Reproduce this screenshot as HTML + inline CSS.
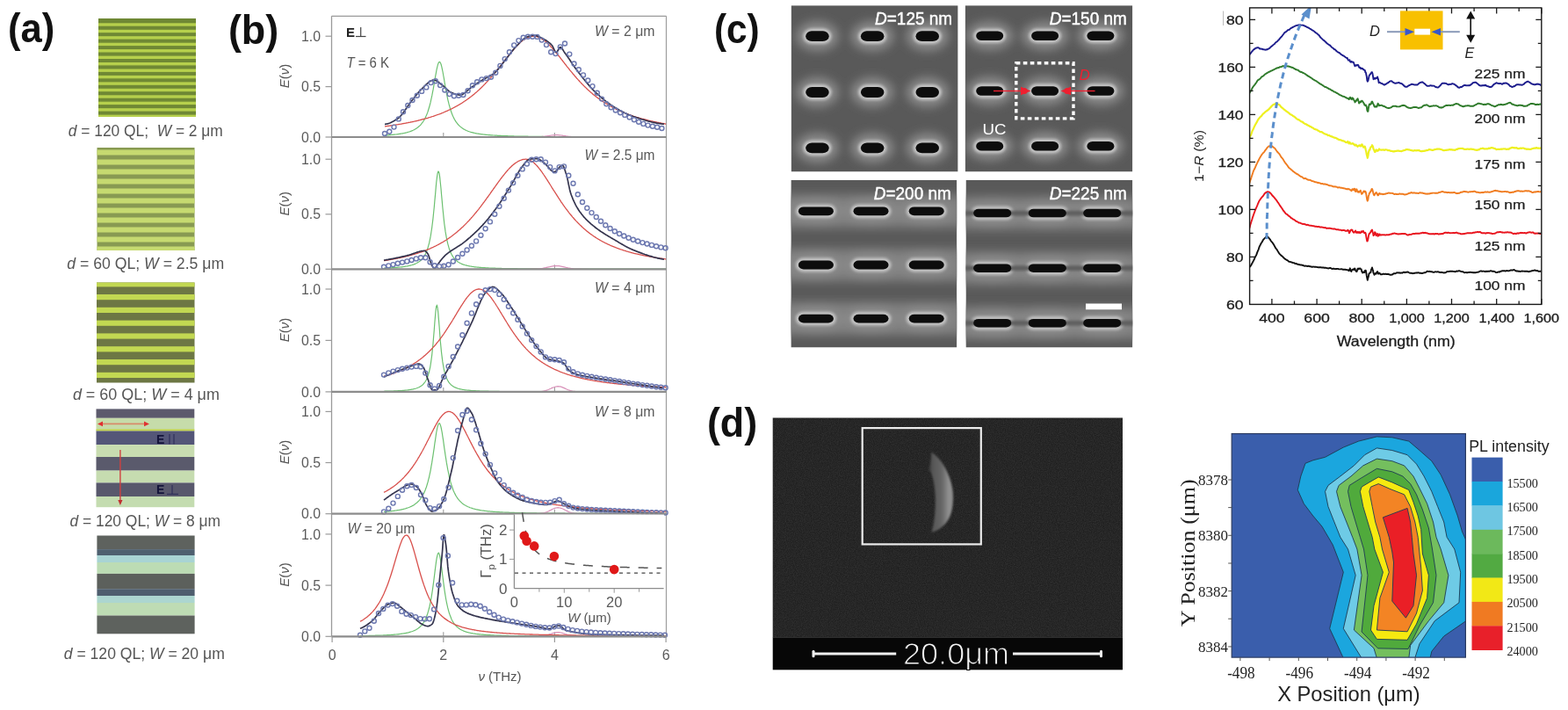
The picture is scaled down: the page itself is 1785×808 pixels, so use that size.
<!DOCTYPE html><html><head><meta charset="utf-8"><style>html,body{margin:0;padding:0;background:#fff;}svg{display:block}</style></head><body>
<svg width="1785" height="808" viewBox="0 0 1785 808">
<rect width="1785" height="808" fill="#fff"/>
<text x="8.9" y="48.3" font-size="46.5" fill="#111" text-anchor="start" font-weight="bold" font-style="normal" font-family="'Liberation Sans', Arial, sans-serif" textLength="53.3" lengthAdjust="spacingAndGlyphs" >(a)</text>
<text x="259.9" y="49.8" font-size="46.5" fill="#111" text-anchor="start" font-weight="bold" font-style="normal" font-family="'Liberation Sans', Arial, sans-serif" textLength="57.3" lengthAdjust="spacingAndGlyphs" >(b)</text>
<text x="812.9" y="48.6" font-size="46.5" fill="#111" text-anchor="start" font-weight="bold" font-style="normal" font-family="'Liberation Sans', Arial, sans-serif" textLength="51.7" lengthAdjust="spacingAndGlyphs" >(c)</text>
<text x="804.9" y="497.1" font-size="46.5" fill="#111" text-anchor="start" font-weight="bold" font-style="normal" font-family="'Liberation Sans', Arial, sans-serif" textLength="57.3" lengthAdjust="spacingAndGlyphs" >(d)</text>
<rect x="112" y="21" width="111" height="112" fill="#6f8834"/>
<rect x="112" y="26.3" width="111" height="3.4" fill="#b6d04c"/>
<rect x="112" y="33.8" width="111" height="3.4" fill="#b6d04c"/>
<rect x="112" y="41.2" width="111" height="3.4" fill="#b6d04c"/>
<rect x="112" y="48.7" width="111" height="3.4" fill="#b6d04c"/>
<rect x="112" y="56.1" width="111" height="3.4" fill="#b6d04c"/>
<rect x="112" y="63.6" width="111" height="3.4" fill="#b6d04c"/>
<rect x="112" y="71" width="111" height="3.4" fill="#b6d04c"/>
<rect x="112" y="78.5" width="111" height="3.4" fill="#b6d04c"/>
<rect x="112" y="85.9" width="111" height="3.4" fill="#b6d04c"/>
<rect x="112" y="93.4" width="111" height="3.4" fill="#b6d04c"/>
<rect x="112" y="100.8" width="111" height="3.4" fill="#b6d04c"/>
<rect x="112" y="108.3" width="111" height="3.4" fill="#b6d04c"/>
<rect x="112" y="115.7" width="111" height="3.4" fill="#b6d04c"/>
<rect x="112" y="123.2" width="111" height="3.4" fill="#b6d04c"/>
<rect x="112" y="130.6" width="111" height="2.4" fill="#b6d04c"/>
<rect x="110.5" y="168" width="111" height="117" fill="#889a52"/>
<rect x="110.5" y="170.5" width="111" height="6" fill="#c6da70"/>
<rect x="110.5" y="181.5" width="111" height="6" fill="#c6da70"/>
<rect x="110.5" y="192.5" width="111" height="6" fill="#c6da70"/>
<rect x="110.5" y="203.5" width="111" height="6" fill="#c6da70"/>
<rect x="110.5" y="214.5" width="111" height="6" fill="#c6da70"/>
<rect x="110.5" y="225.5" width="111" height="6" fill="#c6da70"/>
<rect x="110.5" y="236.5" width="111" height="6" fill="#c6da70"/>
<rect x="110.5" y="247.5" width="111" height="6" fill="#c6da70"/>
<rect x="110.5" y="258.5" width="111" height="6" fill="#c6da70"/>
<rect x="110.5" y="269.5" width="111" height="6" fill="#c6da70"/>
<rect x="110.5" y="280.5" width="111" height="4.5" fill="#c6da70"/>
<rect x="110" y="321.5" width="111.5" height="114" fill="#6d7744"/>
<rect x="110" y="321.5" width="111.5" height="4.9" fill="#c2d852"/>
<rect x="110" y="335" width="111.5" height="6.2" fill="#c2d852"/>
<rect x="110" y="349.8" width="111.5" height="6.2" fill="#c2d852"/>
<rect x="110" y="364.6" width="111.5" height="6.2" fill="#c2d852"/>
<rect x="110" y="379.4" width="111.5" height="6.2" fill="#c2d852"/>
<rect x="110" y="394.2" width="111.5" height="6.2" fill="#c2d852"/>
<rect x="110" y="409" width="111.5" height="6.2" fill="#c2d852"/>
<rect x="110" y="423.8" width="111.5" height="6.2" fill="#c2d852"/>
<rect x="109.5" y="465.4" width="111.8" height="10.4" fill="#5c5a6c"/>
<rect x="109.5" y="475.8" width="111.8" height="14.7" fill="#c6dcaa"/>
<rect x="109.5" y="488.5" width="111.8" height="2" fill="#c4d448"/>
<rect x="109.5" y="490.5" width="111.8" height="15.6" fill="#545678"/>
<rect x="109.5" y="506.1" width="111.8" height="13.9" fill="#c8dcb0"/>
<rect x="109.5" y="520" width="111.8" height="15.6" fill="#5a5a6c"/>
<rect x="109.5" y="535.6" width="111.8" height="13.8" fill="#c6dcb0"/>
<rect x="109.5" y="549.4" width="111.8" height="15.6" fill="#58586c"/>
<rect x="109.5" y="565" width="111.8" height="12.2" fill="#c4dcb0"/>
<line x1="114" y1="482.4" x2="166" y2="482.4" stroke="#d88a6a" stroke-width="1.6"/>
<path d="M111,482.4 L117,479.6 L117,485.2 Z" fill="#e03030"/>
<path d="M170,482.4 L164,479.6 L164,485.2 Z" fill="#e03030"/>
<line x1="136.9" y1="512" x2="136.9" y2="570" stroke="#d04040" stroke-width="1.4"/>
<path d="M136.9,575 L134.3,569 L139.5,569 Z" fill="#c03030"/>
<text x="178" y="505.3" font-size="14" fill="#14143a" text-anchor="start" font-weight="bold" font-style="normal" font-family="'Liberation Sans', Arial, sans-serif" >E</text>
<line x1="193" y1="494" x2="193" y2="505.5" stroke="#30305a" stroke-width="1.2"/>
<line x1="198" y1="494" x2="198" y2="505.5" stroke="#30305a" stroke-width="1.2"/>
<text x="178" y="562.4" font-size="14" fill="#14143a" text-anchor="start" font-weight="bold" font-style="normal" font-family="'Liberation Sans', Arial, sans-serif" >E</text>
<line x1="196" y1="552" x2="196" y2="562.4" stroke="#30305a" stroke-width="1.2"/>
<line x1="190" y1="562.4" x2="203" y2="562.4" stroke="#30305a" stroke-width="1.2"/>
<rect x="110.4" y="609.5" width="111.2" height="15.6" fill="#5e625e"/>
<rect x="110.4" y="625.1" width="111.2" height="6.9" fill="#4e6070"/>
<rect x="110.4" y="632" width="111.2" height="8" fill="#a8d4d4"/>
<rect x="110.4" y="640" width="111.2" height="12.9" fill="#bcdcb4"/>
<rect x="110.4" y="652.9" width="111.2" height="17.3" fill="#5c605c"/>
<rect x="110.4" y="670.2" width="111.2" height="7.8" fill="#4e5e6e"/>
<rect x="110.4" y="678" width="111.2" height="8" fill="#acd6d0"/>
<rect x="110.4" y="686" width="111.2" height="14.5" fill="#bedcb4"/>
<rect x="110.4" y="700.5" width="111.2" height="20.8" fill="#5e625e"/>
<text x="77.8" y="155.2" font-size="17.5" fill="#555" font-family="'Liberation Sans', Arial, sans-serif" textLength="176" lengthAdjust="spacingAndGlyphs"><tspan font-style="italic">d</tspan> = 120 QL;  <tspan font-style="italic">W</tspan> = 2 μm</text>
<text x="76.2" y="305.5" font-size="17.5" fill="#555" font-family="'Liberation Sans', Arial, sans-serif" textLength="179" lengthAdjust="spacingAndGlyphs"><tspan font-style="italic">d</tspan> = 60 QL; <tspan font-style="italic">W</tspan> = 2.5 μm</text>
<text x="82.9" y="455.2" font-size="17.5" fill="#555" font-family="'Liberation Sans', Arial, sans-serif" textLength="167" lengthAdjust="spacingAndGlyphs"><tspan font-style="italic">d</tspan> = 60 QL; <tspan font-style="italic">W</tspan> = 4 μm</text>
<text x="79.5" y="598.7" font-size="17.5" fill="#555" font-family="'Liberation Sans', Arial, sans-serif" textLength="171.5" lengthAdjust="spacingAndGlyphs"><tspan font-style="italic">d</tspan> = 120 QL; <tspan font-style="italic">W</tspan> = 8 μm</text>
<text x="72.8" y="749.5" font-size="17.5" fill="#555" font-family="'Liberation Sans', Arial, sans-serif" textLength="183" lengthAdjust="spacingAndGlyphs"><tspan font-style="italic">d</tspan> = 120 QL; <tspan font-style="italic">W</tspan> = 20 μm</text>
<g id="panel-b">
<line x1="377.5" y1="18.3" x2="758.5" y2="18.3" stroke="#9a9a9a" stroke-width="1.3"/>
<line x1="377.5" y1="18.3" x2="377.5" y2="724.3" stroke="#9a9a9a" stroke-width="1.3"/>
<line x1="758.5" y1="18.3" x2="758.5" y2="724.3" stroke="#a0a0a0" stroke-width="1.3"/>
<line x1="370.5" y1="156" x2="377.5" y2="156" stroke="#9a9a9a" stroke-width="1.2"/>
<text x="365" y="161.6" font-size="16" fill="#5a5a5a" text-anchor="end" font-weight="normal" font-style="normal" font-family="'Liberation Sans', Arial, sans-serif" textLength="22" lengthAdjust="spacingAndGlyphs" >0.0</text>
<line x1="370.5" y1="98.6" x2="377.5" y2="98.6" stroke="#9a9a9a" stroke-width="1.2"/>
<text x="365" y="104.2" font-size="16" fill="#5a5a5a" text-anchor="end" font-weight="normal" font-style="normal" font-family="'Liberation Sans', Arial, sans-serif" textLength="22" lengthAdjust="spacingAndGlyphs" >0.5</text>
<line x1="370.5" y1="41.2" x2="377.5" y2="41.2" stroke="#9a9a9a" stroke-width="1.2"/>
<text x="365" y="46.8" font-size="16" fill="#5a5a5a" text-anchor="end" font-weight="normal" font-style="normal" font-family="'Liberation Sans', Arial, sans-serif" textLength="22" lengthAdjust="spacingAndGlyphs" >1.0</text>
<text transform="translate(328.5,86.6) rotate(-90)" font-size="15" fill="#555" text-anchor="middle" font-family="'Liberation Sans', Arial, sans-serif"><tspan font-style="italic">E</tspan>(<tspan font-style="italic">ν</tspan>)</text>
<line x1="504.8" y1="156" x2="504.8" y2="151" stroke="#9a9a9a" stroke-width="1.1"/>
<line x1="631.4" y1="156" x2="631.4" y2="151" stroke="#9a9a9a" stroke-width="1.1"/>
<path d="M438.0,154.1 L438.7,154.0 L439.3,154.0 L439.9,153.9 L440.6,153.9 L441.2,153.8 L441.9,153.8 L442.5,153.8 L443.1,153.7 L443.8,153.7 L444.4,153.6 L445.1,153.5 L445.7,153.5 L446.3,153.4 L447.0,153.4 L447.6,153.3 L448.3,153.2 L448.9,153.2 L449.6,153.1 L450.2,153.0 L450.8,153.0 L451.5,152.9 L452.1,152.8 L452.8,152.7 L453.4,152.6 L454.0,152.5 L454.7,152.4 L455.3,152.4 L456.0,152.2 L456.6,152.1 L457.3,152.0 L457.9,151.9 L458.5,151.8 L459.2,151.7 L459.8,151.5 L460.5,151.4 L461.1,151.3 L461.7,151.1 L462.4,151.0 L463.0,150.8 L463.7,150.6 L464.3,150.4 L464.9,150.2 L465.6,150.0 L466.2,149.8 L466.9,149.6 L467.5,149.4 L468.2,149.1 L468.8,148.9 L469.4,148.6 L470.1,148.3 L470.7,148.0 L471.4,147.7 L472.0,147.4 L472.6,147.0 L473.3,146.6 L473.9,146.2 L474.6,145.8 L475.2,145.3 L475.9,144.8 L476.5,144.3 L477.1,143.7 L477.8,143.1 L478.4,142.5 L479.1,141.8 L479.7,141.0 L480.3,140.2 L481.0,139.4 L481.6,138.5 L482.3,137.5 L482.9,136.4 L483.6,135.2 L484.2,134.0 L484.8,132.6 L485.5,131.2 L486.1,129.6 L486.8,127.9 L487.4,126.0 L488.0,124.0 L488.7,121.8 L489.3,119.5 L490.0,116.9 L490.6,114.2 L491.2,111.3 L491.9,108.2 L492.5,104.9 L493.2,101.4 L493.8,97.8 L494.5,94.1 L495.1,90.4 L495.7,86.7 L496.4,83.1 L497.0,79.7 L497.7,76.7 L498.3,74.2 L498.9,72.2 L499.6,71.0 L500.2,70.5 L500.9,70.8 L501.5,71.8 L502.2,73.5 L502.8,75.9 L503.4,78.7 L504.1,82.0 L504.7,85.5 L505.4,89.2 L506.0,93.0 L506.6,96.7 L507.3,100.3 L507.9,103.8 L508.6,107.2 L509.2,110.4 L509.8,113.3 L510.5,116.1 L511.1,118.7 L511.8,121.1 L512.4,123.3 L513.1,125.4 L513.7,127.3 L514.3,129.1 L515.0,130.7 L515.6,132.2 L516.3,133.6 L516.9,134.9 L517.5,136.0 L518.2,137.1 L518.8,138.2 L519.5,139.1 L520.1,140.0 L520.8,140.8 L521.4,141.5 L522.0,142.3 L522.7,142.9 L523.3,143.5 L524.0,144.1 L524.6,144.6 L525.2,145.1 L525.9,145.6 L526.5,146.1 L527.2,146.5 L527.8,146.9 L528.5,147.2 L529.1,147.6 L529.7,147.9 L530.4,148.2 L531.0,148.5 L531.7,148.8 L532.3,149.1 L532.9,149.3 L533.6,149.5 L534.2,149.8 L534.9,150.0 L535.5,150.2 L536.1,150.4 L536.8,150.6 L537.4,150.7 L538.1,150.9 L538.7,151.1 L539.4,151.2 L540.0,151.4 L540.6,151.5 L541.3,151.6 L541.9,151.8 L542.6,151.9 L543.2,152.0 L543.8,152.1 L544.5,152.2 L545.1,152.3 L545.8,152.4 L546.4,152.5 L547.1,152.6 L547.7,152.7 L548.3,152.8 L549.0,152.9 L549.6,152.9 L550.3,153.0 L550.9,153.1 L551.5,153.2 L552.2,153.2 L552.8,153.3 L553.5,153.4 L554.1,153.4 L554.7,153.5 L555.4,153.5 L556.0,153.6 L556.7,153.6 L557.3,153.7 L558.0,153.7 L558.6,153.8 L559.2,153.8 L559.9,153.9 L560.5,153.9 L561.2,154.0 L561.8,154.0 L562.4,154.0 L563.1,154.1 L563.7,154.1 L564.4,154.2 L565.0,154.2 L565.7,154.2 L566.3,154.3 L566.9,154.3 L567.6,154.3 L568.2,154.4 L568.9,154.4 L569.5,154.4 L570.1,154.4 L570.8,154.5 L571.4,154.5 L572.1,154.5 L572.7,154.6 L573.4,154.6 L574.0,154.6 L574.6,154.6 L575.3,154.6 L575.9,154.7 L576.6,154.7 L577.2,154.7 L577.8,154.7 L578.5,154.8 L579.1,154.8 L579.8,154.8 L580.4,154.8 L581.0,154.8 L581.7,154.8 L582.3,154.9 L583.0,154.9 L583.6,154.9 L584.3,154.9 L584.9,154.9 L585.5,155.0 L586.2,155.0 L586.8,155.0 L587.5,155.0 L588.1,155.0 L588.7,155.0 L589.4,155.0 L590.0,155.1 L590.7,155.1 L591.3,155.1 L592.0,155.1 L592.6,155.1 L593.2,155.1 L593.9,155.1 L594.5,155.1 L595.2,155.2 L595.8,155.2 L596.4,155.2 L597.1,155.2 L597.7,155.2 L598.4,155.2 L599.0,155.2 L599.6,155.2 L600.3,155.2 L600.9,155.2 L601.6,155.3 L602.2,155.3 L602.9,155.3 L603.5,155.3 L604.1,155.3 L604.8,155.3 L605.4,155.3 L606.1,155.3 L606.7,155.3 L607.3,155.3 L608.0,155.3 L608.6,155.3 L609.3,155.4 L609.9,155.4 L610.6,155.4 L611.2,155.4 L611.8,155.4 L612.5,155.4 L613.1,155.4 L613.8,155.4 L614.4,155.4 L615.0,155.4 L615.7,155.4 L616.3,155.4 L617.0,155.4 L617.6,155.4 L618.2,155.4 L618.9,155.5 L619.5,155.5 L620.2,155.5 L620.8,155.5 L621.5,155.5 L622.1,155.5 L622.7,155.5 L623.4,155.5 L624.0,155.5 L624.7,155.5 L625.3,155.5 L625.9,155.5 L626.6,155.5 L627.2,155.5 L627.9,155.5 L628.5,155.5 L629.2,155.5 L629.8,155.5 L630.4,155.5 L631.1,155.6 L631.7,155.6 L632.4,155.6 L633.0,155.6 L633.6,155.6 L634.3,155.6 L634.9,155.6 L635.6,155.6 L636.2,155.6 L636.9,155.6 L637.5,155.6 L638.1,155.6 L638.8,155.6 L639.4,155.6 L640.1,155.6 L640.7,155.6 L641.3,155.6 L642.0,155.6 L642.6,155.6 L643.3,155.6 L643.9,155.6 L644.5,155.6 L645.2,155.6 L645.8,155.6 L646.5,155.6 L647.1,155.6 L647.8,155.6 L648.4,155.6 L649.0,155.7 L649.7,155.7 L650.3,155.7 L651.0,155.7 L651.6,155.7 L652.2,155.7 L652.9,155.7 L653.5,155.7 L654.2,155.7 L654.8,155.7 L655.5,155.7 L656.1,155.7 L656.7,155.7 L657.4,155.7 L658.0,155.7 L658.7,155.7 L659.3,155.7 L659.9,155.7 L660.6,155.7 L661.2,155.7 L661.9,155.7 L662.5,155.7 L663.1,155.7 L663.8,155.7 L664.4,155.7 L665.1,155.7 L665.7,155.7 L666.4,155.7 L667.0,155.7 L667.6,155.7 L668.3,155.7 L668.9,155.7 L669.6,155.7 L670.2,155.7 L670.8,155.7 L671.5,155.7 L672.1,155.7 L672.8,155.7 L673.4,155.7 L674.1,155.7 L674.7,155.7 L675.3,155.7 L676.0,155.8 L676.6,155.8 L677.3,155.8 L677.9,155.8 L678.5,155.8 L679.2,155.8 L679.8,155.8 L680.5,155.8 L681.1,155.8 L681.8,155.8 L682.4,155.8 L683.0,155.8 L683.7,155.8 L684.3,155.8 L685.0,155.8 L685.6,155.8 L686.2,155.8 L686.9,155.8 L687.5,155.8 L688.2,155.8 L688.8,155.8 L689.4,155.8 L690.1,155.8 L690.7,155.8 L691.4,155.8 L692.0,155.8 L692.7,155.8 L693.3,155.8 L693.9,155.8 L694.6,155.8 L695.2,155.8 L695.9,155.8 L696.5,155.8 L697.1,155.8 L697.8,155.8 L698.4,155.8 L699.1,155.8 L699.7,155.8 L700.4,155.8 L701.0,155.8 L701.6,155.8 L702.3,155.8 L702.9,155.8 L703.6,155.8 L704.2,155.8 L704.8,155.8 L705.5,155.8 L706.1,155.8 L706.8,155.8 L707.4,155.8 L708.0,155.8 L708.7,155.8 L709.3,155.8 L710.0,155.8 L710.6,155.8 L711.3,155.8 L711.9,155.8 L712.5,155.8 L713.2,155.8 L713.8,155.8 L714.5,155.8 L715.1,155.8 L715.7,155.8 L716.4,155.8 L717.0,155.8 L717.7,155.8 L718.3,155.8 L719.0,155.8 L719.6,155.8 L720.2,155.8 L720.9,155.8 L721.5,155.8 L722.2,155.8 L722.8,155.8 L723.4,155.8 L724.1,155.8 L724.7,155.8 L725.4,155.8 L726.0,155.8 L726.7,155.8 L727.3,155.9 L727.9,155.9 L728.6,155.9 L729.2,155.9 L729.9,155.9 L730.5,155.9 L731.1,155.9 L731.8,155.9 L732.4,155.9 L733.1,155.9 L733.7,155.9 L734.3,155.9 L735.0,155.9 L735.6,155.9 L736.3,155.9 L736.9,155.9 L737.6,155.9 L738.2,155.9 L738.8,155.9 L739.5,155.9 L740.1,155.9 L740.8,155.9 L741.4,155.9 L742.0,155.9 L742.7,155.9 L743.3,155.9 L744.0,155.9 L744.6,155.9 L745.3,155.9 L745.9,155.9 L746.5,155.9 L747.2,155.9 L747.8,155.9 L748.5,155.9 L749.1,155.9 L749.7,155.9 L750.4,155.9 L751.0,155.9 L751.7,155.9 L752.3,155.9 L752.9,155.9 L753.6,155.9 L754.2,155.9 L754.9,155.9 L755.5,155.9 L756.2,155.9 L756.8,155.9 L757.4,155.9 L758.1,155.9" fill="none" stroke="#6cc070" stroke-width="1.2"/>
<path d="M599.8,156.0 L600.9,156.0 L602.1,156.0 L603.3,156.0 L604.5,156.0 L605.7,156.0 L606.8,156.0 L608.0,155.9 L609.2,155.9 L610.4,155.9 L611.6,155.8 L612.7,155.8 L613.9,155.7 L615.1,155.6 L616.3,155.5 L617.5,155.4 L618.6,155.3 L619.8,155.2 L621.0,155.0 L622.2,154.8 L623.4,154.7 L624.6,154.5 L625.7,154.3 L626.9,154.2 L628.1,154.0 L629.3,153.9 L630.5,153.8 L631.6,153.7 L632.8,153.7 L634.0,153.7 L635.2,153.7 L636.4,153.8 L637.5,153.9 L638.7,154.0 L639.9,154.2 L641.1,154.4 L642.3,154.5 L643.4,154.7 L644.6,154.9 L645.8,155.0 L647.0,155.2 L648.2,155.3 L649.3,155.4 L650.5,155.6 L651.7,155.6 L652.9,155.7 L654.1,155.8 L655.2,155.8 L656.4,155.9 L657.6,155.9 L658.8,155.9 L660.0,156.0 L661.2,156.0 L662.3,156.0 L663.5,156.0 L664.7,156.0 L665.9,156.0 L667.1,156.0 L668.2,156.0 L669.4,156.0" fill="none" stroke="#d890b8" stroke-width="1.2"/>
<path d="M438.0,143.8 L438.7,143.8 L439.3,143.7 L439.9,143.6 L440.6,143.5 L441.2,143.4 L441.9,143.3 L442.5,143.3 L443.1,143.2 L443.8,143.1 L444.4,143.0 L445.1,142.9 L445.7,142.8 L446.3,142.7 L447.0,142.6 L447.6,142.5 L448.3,142.4 L448.9,142.3 L449.6,142.2 L450.2,142.1 L450.8,142.0 L451.5,141.9 L452.1,141.8 L452.8,141.7 L453.4,141.6 L454.0,141.5 L454.7,141.4 L455.3,141.3 L456.0,141.2 L456.6,141.1 L457.3,141.0 L457.9,140.9 L458.5,140.7 L459.2,140.6 L459.8,140.5 L460.5,140.4 L461.1,140.3 L461.7,140.2 L462.4,140.0 L463.0,139.9 L463.7,139.8 L464.3,139.7 L464.9,139.5 L465.6,139.4 L466.2,139.3 L466.9,139.2 L467.5,139.0 L468.2,138.9 L468.8,138.8 L469.4,138.6 L470.1,138.5 L470.7,138.3 L471.4,138.2 L472.0,138.1 L472.6,137.9 L473.3,137.8 L473.9,137.6 L474.6,137.5 L475.2,137.3 L475.9,137.2 L476.5,137.0 L477.1,136.9 L477.8,136.7 L478.4,136.5 L479.1,136.4 L479.7,136.2 L480.3,136.0 L481.0,135.9 L481.6,135.7 L482.3,135.5 L482.9,135.4 L483.6,135.2 L484.2,135.0 L484.8,134.8 L485.5,134.6 L486.1,134.5 L486.8,134.3 L487.4,134.1 L488.0,133.9 L488.7,133.7 L489.3,133.5 L490.0,133.3 L490.6,133.1 L491.2,132.9 L491.9,132.7 L492.5,132.5 L493.2,132.3 L493.8,132.1 L494.5,131.9 L495.1,131.6 L495.7,131.4 L496.4,131.2 L497.0,131.0 L497.7,130.7 L498.3,130.5 L498.9,130.3 L499.6,130.0 L500.2,129.8 L500.9,129.6 L501.5,129.3 L502.2,129.1 L502.8,128.8 L503.4,128.5 L504.1,128.3 L504.7,128.0 L505.4,127.8 L506.0,127.5 L506.6,127.2 L507.3,126.9 L507.9,126.7 L508.6,126.4 L509.2,126.1 L509.8,125.8 L510.5,125.5 L511.1,125.2 L511.8,124.9 L512.4,124.6 L513.1,124.3 L513.7,124.0 L514.3,123.6 L515.0,123.3 L515.6,123.0 L516.3,122.7 L516.9,122.3 L517.5,122.0 L518.2,121.7 L518.8,121.3 L519.5,120.9 L520.1,120.6 L520.8,120.2 L521.4,119.9 L522.0,119.5 L522.7,119.1 L523.3,118.7 L524.0,118.3 L524.6,118.0 L525.2,117.6 L525.9,117.2 L526.5,116.7 L527.2,116.3 L527.8,115.9 L528.5,115.5 L529.1,115.1 L529.7,114.6 L530.4,114.2 L531.0,113.7 L531.7,113.3 L532.3,112.8 L532.9,112.4 L533.6,111.9 L534.2,111.4 L534.9,110.9 L535.5,110.5 L536.1,110.0 L536.8,109.5 L537.4,109.0 L538.1,108.4 L538.7,107.9 L539.4,107.4 L540.0,106.9 L540.6,106.3 L541.3,105.8 L541.9,105.2 L542.6,104.7 L543.2,104.1 L543.8,103.5 L544.5,103.0 L545.1,102.4 L545.8,101.8 L546.4,101.2 L547.1,100.6 L547.7,100.0 L548.3,99.3 L549.0,98.7 L549.6,98.1 L550.3,97.4 L550.9,96.8 L551.5,96.1 L552.2,95.5 L552.8,94.8 L553.5,94.1 L554.1,93.4 L554.7,92.8 L555.4,92.1 L556.0,91.4 L556.7,90.6 L557.3,89.9 L558.0,89.2 L558.6,88.5 L559.2,87.7 L559.9,87.0 L560.5,86.3 L561.2,85.5 L561.8,84.7 L562.4,84.0 L563.1,83.2 L563.7,82.4 L564.4,81.7 L565.0,80.9 L565.7,80.1 L566.3,79.3 L566.9,78.5 L567.6,77.7 L568.2,76.9 L568.9,76.1 L569.5,75.3 L570.1,74.5 L570.8,73.6 L571.4,72.8 L572.1,72.0 L572.7,71.2 L573.4,70.4 L574.0,69.5 L574.6,68.7 L575.3,67.9 L575.9,67.1 L576.6,66.3 L577.2,65.5 L577.8,64.6 L578.5,63.8 L579.1,63.0 L579.8,62.2 L580.4,61.4 L581.0,60.6 L581.7,59.9 L582.3,59.1 L583.0,58.3 L583.6,57.5 L584.3,56.8 L584.9,56.1 L585.5,55.3 L586.2,54.6 L586.8,53.9 L587.5,53.2 L588.1,52.5 L588.7,51.8 L589.4,51.2 L590.0,50.5 L590.7,49.9 L591.3,49.3 L592.0,48.7 L592.6,48.1 L593.2,47.6 L593.9,47.0 L594.5,46.5 L595.2,46.0 L595.8,45.5 L596.4,45.1 L597.1,44.7 L597.7,44.3 L598.4,43.9 L599.0,43.5 L599.6,43.2 L600.3,42.9 L600.9,42.6 L601.6,42.3 L602.2,42.1 L602.9,41.9 L603.5,41.7 L604.1,41.5 L604.8,41.4 L605.4,41.3 L606.1,41.3 L606.7,41.2 L607.3,41.2 L608.0,41.2 L608.6,41.3 L609.3,41.3 L609.9,41.4 L610.6,41.5 L611.2,41.7 L611.8,41.9 L612.5,42.1 L613.1,42.3 L613.8,42.6 L614.4,42.9 L615.0,43.2 L615.7,43.5 L616.3,43.9 L617.0,44.2 L617.6,44.6 L618.2,45.1 L618.9,45.5 L619.5,46.0 L620.2,46.5 L620.8,47.0 L621.5,47.6 L622.1,48.1 L622.7,48.7 L623.4,49.3 L624.0,49.9 L624.7,50.5 L625.3,51.2 L625.9,51.8 L626.6,52.5 L627.2,53.2 L627.9,53.9 L628.5,54.6 L629.2,55.3 L629.8,56.0 L630.4,56.8 L631.1,57.5 L631.7,58.3 L632.4,59.1 L633.0,59.8 L633.6,60.6 L634.3,61.4 L634.9,62.2 L635.6,63.0 L636.2,63.8 L636.9,64.6 L637.5,65.4 L638.1,66.2 L638.8,67.1 L639.4,67.9 L640.1,68.7 L640.7,69.5 L641.3,70.3 L642.0,71.2 L642.6,72.0 L643.3,72.8 L643.9,73.6 L644.5,74.4 L645.2,75.3 L645.8,76.1 L646.5,76.9 L647.1,77.7 L647.8,78.5 L648.4,79.3 L649.0,80.1 L649.7,80.9 L650.3,81.6 L651.0,82.4 L651.6,83.2 L652.2,84.0 L652.9,84.7 L653.5,85.5 L654.2,86.2 L654.8,87.0 L655.5,87.7 L656.1,88.5 L656.7,89.2 L657.4,89.9 L658.0,90.6 L658.7,91.3 L659.3,92.0 L659.9,92.7 L660.6,93.4 L661.2,94.1 L661.9,94.8 L662.5,95.5 L663.1,96.1 L663.8,96.8 L664.4,97.4 L665.1,98.1 L665.7,98.7 L666.4,99.3 L667.0,99.9 L667.6,100.6 L668.3,101.2 L668.9,101.8 L669.6,102.4 L670.2,102.9 L670.8,103.5 L671.5,104.1 L672.1,104.7 L672.8,105.2 L673.4,105.8 L674.1,106.3 L674.7,106.9 L675.3,107.4 L676.0,107.9 L676.6,108.4 L677.3,108.9 L677.9,109.4 L678.5,109.9 L679.2,110.4 L679.8,110.9 L680.5,111.4 L681.1,111.9 L681.8,112.4 L682.4,112.8 L683.0,113.3 L683.7,113.7 L684.3,114.2 L685.0,114.6 L685.6,115.1 L686.2,115.5 L686.9,115.9 L687.5,116.3 L688.2,116.7 L688.8,117.1 L689.4,117.5 L690.1,117.9 L690.7,118.3 L691.4,118.7 L692.0,119.1 L692.7,119.5 L693.3,119.9 L693.9,120.2 L694.6,120.6 L695.2,120.9 L695.9,121.3 L696.5,121.6 L697.1,122.0 L697.8,122.3 L698.4,122.7 L699.1,123.0 L699.7,123.3 L700.4,123.6 L701.0,124.0 L701.6,124.3 L702.3,124.6 L702.9,124.9 L703.6,125.2 L704.2,125.5 L704.8,125.8 L705.5,126.1 L706.1,126.4 L706.8,126.6 L707.4,126.9 L708.0,127.2 L708.7,127.5 L709.3,127.7 L710.0,128.0 L710.6,128.3 L711.3,128.5 L711.9,128.8 L712.5,129.0 L713.2,129.3 L713.8,129.5 L714.5,129.8 L715.1,130.0 L715.7,130.3 L716.4,130.5 L717.0,130.7 L717.7,131.0 L718.3,131.2 L719.0,131.4 L719.6,131.6 L720.2,131.9 L720.9,132.1 L721.5,132.3 L722.2,132.5 L722.8,132.7 L723.4,132.9 L724.1,133.1 L724.7,133.3 L725.4,133.5 L726.0,133.7 L726.7,133.9 L727.3,134.1 L727.9,134.3 L728.6,134.5 L729.2,134.6 L729.9,134.8 L730.5,135.0 L731.1,135.2 L731.8,135.4 L732.4,135.5 L733.1,135.7 L733.7,135.9 L734.3,136.0 L735.0,136.2 L735.6,136.4 L736.3,136.5 L736.9,136.7 L737.6,136.8 L738.2,137.0 L738.8,137.2 L739.5,137.3 L740.1,137.5 L740.8,137.6 L741.4,137.8 L742.0,137.9 L742.7,138.0 L743.3,138.2 L744.0,138.3 L744.6,138.5 L745.3,138.6 L745.9,138.7 L746.5,138.9 L747.2,139.0 L747.8,139.1 L748.5,139.3 L749.1,139.4 L749.7,139.5 L750.4,139.7 L751.0,139.8 L751.7,139.9 L752.3,140.0 L752.9,140.2 L753.6,140.3 L754.2,140.4 L754.9,140.5 L755.5,140.6 L756.2,140.7 L756.8,140.9 L757.4,141.0 L758.1,141.1" fill="none" stroke="#d8504c" stroke-width="1.3"/>
<path d="M438.0,141.3 L438.6,141.3 L439.3,141.2 L439.9,141.1 L440.6,141.0 L441.2,140.8 L441.8,140.7 L442.5,140.5 L443.1,140.2 L443.7,140.0 L444.4,139.7 L445.0,139.4 L445.7,139.1 L446.3,138.8 L446.9,138.5 L447.6,138.1 L448.2,137.8 L448.8,137.4 L449.5,137.0 L450.1,136.6 L450.7,136.2 L451.4,135.8 L452.0,135.4 L452.7,135.0 L453.3,134.6 L453.9,134.1 L454.6,133.5 L455.2,132.9 L455.8,132.2 L456.5,131.5 L457.1,130.8 L457.8,130.0 L458.4,129.2 L459.0,128.3 L459.7,127.4 L460.3,126.5 L460.9,125.6 L461.6,124.7 L462.2,123.7 L462.9,122.8 L463.5,121.8 L464.1,120.9 L464.8,120.0 L465.4,119.1 L466.0,118.2 L466.7,117.3 L467.3,116.5 L467.9,115.7 L468.6,114.9 L469.2,114.1 L469.9,113.3 L470.5,112.5 L471.1,111.7 L471.8,110.9 L472.4,110.0 L473.0,109.2 L473.7,108.4 L474.3,107.6 L475.0,106.8 L475.6,106.1 L476.2,105.3 L476.9,104.5 L477.5,103.8 L478.1,103.1 L478.8,102.4 L479.4,101.8 L480.1,101.2 L480.7,100.6 L481.3,100.0 L482.0,99.4 L482.6,98.7 L483.2,98.1 L483.9,97.5 L484.5,96.8 L485.1,96.2 L485.8,95.6 L486.4,95.0 L487.1,94.4 L487.7,93.9 L488.3,93.4 L489.0,92.9 L489.6,92.5 L490.2,92.1 L490.9,91.7 L491.5,91.5 L492.2,91.2 L492.8,91.1 L493.4,91.0 L494.1,91.0 L494.7,91.1 L495.3,91.3 L496.0,91.5 L496.6,91.8 L497.2,92.2 L497.9,92.6 L498.5,93.0 L499.2,93.5 L499.8,94.0 L500.4,94.5 L501.1,95.0 L501.7,95.6 L502.3,96.1 L503.0,96.6 L503.6,97.1 L504.3,97.5 L504.9,98.0 L505.5,98.6 L506.2,99.2 L506.8,99.8 L507.4,100.4 L508.1,101.0 L508.7,101.6 L509.4,102.2 L510.0,102.8 L510.6,103.4 L511.3,103.9 L511.9,104.3 L512.5,104.7 L513.2,105.0 L513.8,105.3 L514.4,105.6 L515.1,105.8 L515.7,106.1 L516.4,106.4 L517.0,106.6 L517.6,106.9 L518.3,107.1 L518.9,107.3 L519.5,107.5 L520.2,107.7 L520.8,107.8 L521.5,107.9 L522.1,108.0 L522.7,108.1 L523.4,108.1 L524.0,108.1 L524.6,108.0 L525.3,107.9 L525.9,107.7 L526.6,107.4 L527.2,107.0 L527.8,106.6 L528.5,106.2 L529.1,105.7 L529.7,105.2 L530.4,104.7 L531.0,104.1 L531.6,103.5 L532.3,102.9 L532.9,102.4 L533.6,101.8 L534.2,101.2 L534.8,100.7 L535.5,100.2 L536.1,99.7 L536.7,99.3 L537.4,98.9 L538.0,98.4 L538.7,98.0 L539.3,97.6 L539.9,97.1 L540.6,96.7 L541.2,96.2 L541.8,95.8 L542.5,95.4 L543.1,94.9 L543.7,94.5 L544.4,94.1 L545.0,93.6 L545.7,93.2 L546.3,92.8 L546.9,92.4 L547.6,92.0 L548.2,91.6 L548.8,91.2 L549.5,90.8 L550.1,90.4 L550.8,90.1 L551.4,89.7 L552.0,89.4 L552.7,89.0 L553.3,88.7 L553.9,88.4 L554.6,88.1 L555.2,87.8 L555.9,87.4 L556.5,87.1 L557.1,86.8 L557.8,86.4 L558.4,86.1 L559.0,85.7 L559.7,85.3 L560.3,84.9 L560.9,84.5 L561.6,84.0 L562.2,83.6 L562.9,83.1 L563.5,82.5 L564.1,81.9 L564.8,81.3 L565.4,80.6 L566.0,79.9 L566.7,79.2 L567.3,78.4 L568.0,77.7 L568.6,76.9 L569.2,76.0 L569.9,75.2 L570.5,74.4 L571.1,73.5 L571.8,72.7 L572.4,71.9 L573.1,71.0 L573.7,70.2 L574.3,69.4 L575.0,68.6 L575.6,67.9 L576.2,67.1 L576.9,66.2 L577.5,65.4 L578.1,64.6 L578.8,63.8 L579.4,62.9 L580.1,62.1 L580.7,61.2 L581.3,60.4 L582.0,59.5 L582.6,58.7 L583.2,57.9 L583.9,57.1 L584.5,56.3 L585.2,55.5 L585.8,54.8 L586.4,54.1 L587.1,53.4 L587.7,52.7 L588.3,52.0 L589.0,51.4 L589.6,50.7 L590.2,50.0 L590.9,49.3 L591.5,48.7 L592.2,48.0 L592.8,47.3 L593.4,46.7 L594.1,46.1 L594.7,45.5 L595.3,44.9 L596.0,44.4 L596.6,43.9 L597.3,43.4 L597.9,43.0 L598.5,42.6 L599.2,42.3 L599.8,42.0 L600.4,41.8 L601.1,41.6 L601.7,41.4 L602.4,41.2 L603.0,41.0 L603.6,40.9 L604.3,40.7 L604.9,40.6 L605.5,40.5 L606.2,40.4 L606.8,40.3 L607.4,40.3 L608.1,40.3 L608.7,40.3 L609.4,40.4 L610.0,40.5 L610.6,40.7 L611.3,40.9 L611.9,41.1 L612.5,41.3 L613.2,41.6 L613.8,41.9 L614.5,42.2 L615.1,42.5 L615.7,42.8 L616.4,43.1 L617.0,43.4 L617.6,43.8 L618.3,44.1 L618.9,44.4 L619.5,44.7 L620.2,45.1 L620.8,45.5 L621.5,45.8 L622.1,46.3 L622.7,46.7 L623.4,47.1 L624.0,47.6 L624.6,48.1 L625.3,48.6 L625.9,49.2 L626.6,49.7 L627.2,50.4 L627.8,51.0 L628.5,51.7 L629.1,52.6 L629.7,53.9 L630.4,55.3 L631.0,56.6 L631.7,57.9 L632.3,58.9 L632.9,59.5 L633.6,59.5 L634.2,59.0 L634.8,58.0 L635.5,56.8 L636.1,55.6 L636.7,54.6 L637.4,53.9 L638.0,53.9 L638.7,54.1 L639.3,54.7 L639.9,55.4 L640.6,56.3 L641.2,57.3 L641.8,58.4 L642.5,59.4 L643.1,60.4 L643.8,61.2 L644.4,62.1 L645.0,63.0 L645.7,63.9 L646.3,64.8 L646.9,65.7 L647.6,66.6 L648.2,67.6 L648.9,68.6 L649.5,69.5 L650.1,70.5 L650.8,71.4 L651.4,72.4 L652.0,73.3 L652.7,74.3 L653.3,75.2 L653.9,76.1 L654.6,77.0 L655.2,77.9 L655.9,78.7 L656.5,79.6 L657.1,80.4 L657.8,81.2 L658.4,82.1 L659.0,82.9 L659.7,83.7 L660.3,84.6 L661.0,85.4 L661.6,86.2 L662.2,87.0 L662.9,87.8 L663.5,88.7 L664.1,89.5 L664.8,90.3 L665.4,91.0 L666.0,91.8 L666.7,92.6 L667.3,93.4 L668.0,94.2 L668.6,94.9 L669.2,95.7 L669.9,96.4 L670.5,97.1 L671.1,97.9 L671.8,98.6 L672.4,99.3 L673.1,100.0 L673.7,100.7 L674.3,101.4 L675.0,102.0 L675.6,102.7 L676.2,103.3 L676.9,103.9 L677.5,104.6 L678.2,105.2 L678.8,105.8 L679.4,106.4 L680.1,106.9 L680.7,107.5 L681.3,108.1 L682.0,108.7 L682.6,109.3 L683.2,109.8 L683.9,110.4 L684.5,110.9 L685.2,111.5 L685.8,112.0 L686.4,112.5 L687.1,113.1 L687.7,113.6 L688.3,114.1 L689.0,114.6 L689.6,115.1 L690.3,115.6 L690.9,116.1 L691.5,116.6 L692.2,117.0 L692.8,117.5 L693.4,118.0 L694.1,118.4 L694.7,118.9 L695.4,119.3 L696.0,119.7 L696.6,120.2 L697.3,120.6 L697.9,121.0 L698.5,121.4 L699.2,121.8 L699.8,122.2 L700.4,122.6 L701.1,122.9 L701.7,123.3 L702.4,123.7 L703.0,124.1 L703.6,124.4 L704.3,124.8 L704.9,125.2 L705.5,125.5 L706.2,125.9 L706.8,126.2 L707.5,126.5 L708.1,126.9 L708.7,127.2 L709.4,127.6 L710.0,127.9 L710.6,128.2 L711.3,128.5 L711.9,128.8 L712.5,129.1 L713.2,129.4 L713.8,129.7 L714.5,130.0 L715.1,130.3 L715.7,130.5 L716.4,130.8 L717.0,131.1 L717.6,131.3 L718.3,131.6 L718.9,131.8 L719.6,132.1 L720.2,132.3 L720.8,132.5 L721.5,132.7 L722.1,132.9 L722.7,133.2 L723.4,133.4 L724.0,133.6 L724.7,133.8 L725.3,134.0 L725.9,134.2 L726.6,134.4 L727.2,134.6 L727.8,134.8 L728.5,135.0 L729.1,135.3 L729.7,135.5 L730.4,135.7 L731.0,135.9 L731.7,136.0 L732.3,136.2 L732.9,136.4 L733.6,136.6 L734.2,136.8 L734.8,137.0 L735.5,137.2 L736.1,137.4 L736.8,137.5 L737.4,137.7 L738.0,137.9 L738.7,138.1 L739.3,138.2 L739.9,138.4 L740.6,138.5 L741.2,138.7 L741.8,138.9 L742.5,139.0 L743.1,139.2 L743.8,139.3 L744.4,139.4 L745.0,139.6 L745.7,139.7 L746.3,139.8 L746.9,140.0 L747.6,140.1 L748.2,140.2 L748.9,140.3 L749.5,140.4 L750.1,140.5 L750.8,140.6 L751.4,140.7 L752.0,140.8 L752.7,140.9 L753.3,141.0 L754.0,141.1 L754.6,141.2 L755.2,141.2 L755.9,141.3" fill="none" stroke="#34344e" stroke-width="1.7"/>
<g fill="none" stroke="#6c78b0" stroke-width="1.4"><circle cx="438.0" cy="152.0" r="2.5"/><circle cx="443.3" cy="149.7" r="2.5"/><circle cx="448.5" cy="144.6" r="2.5"/><circle cx="453.8" cy="135.4" r="2.5"/><circle cx="459.0" cy="127.2" r="2.5"/><circle cx="464.3" cy="120.0" r="2.5"/><circle cx="469.5" cy="114.0" r="2.5"/><circle cx="474.8" cy="108.7" r="2.5"/><circle cx="480.1" cy="103.9" r="2.5"/><circle cx="485.3" cy="99.4" r="2.5"/><circle cx="490.6" cy="94.1" r="2.5"/><circle cx="495.8" cy="92.3" r="2.5"/><circle cx="501.1" cy="97.1" r="2.5"/><circle cx="506.3" cy="102.5" r="2.5"/><circle cx="511.6" cy="107.1" r="2.5"/><circle cx="516.9" cy="109.2" r="2.5"/><circle cx="522.1" cy="108.8" r="2.5"/><circle cx="527.4" cy="108.0" r="2.5"/><circle cx="532.6" cy="103.2" r="2.5"/><circle cx="537.9" cy="97.3" r="2.5"/><circle cx="543.1" cy="93.3" r="2.5"/><circle cx="548.4" cy="90.4" r="2.5"/><circle cx="553.7" cy="89.1" r="2.5"/><circle cx="558.9" cy="87.8" r="2.5"/><circle cx="564.2" cy="82.7" r="2.5"/><circle cx="569.4" cy="74.9" r="2.5"/><circle cx="574.7" cy="67.1" r="2.5"/><circle cx="579.9" cy="59.3" r="2.5"/><circle cx="585.2" cy="51.4" r="2.5"/><circle cx="590.4" cy="46.1" r="2.5"/><circle cx="595.7" cy="42.8" r="2.5"/><circle cx="601.0" cy="41.8" r="2.5"/><circle cx="606.2" cy="41.8" r="2.5"/><circle cx="611.5" cy="41.9" r="2.5"/><circle cx="616.7" cy="45.6" r="2.5"/><circle cx="622.0" cy="51.1" r="2.5"/><circle cx="627.2" cy="59.2" r="2.5"/><circle cx="632.5" cy="61.1" r="2.5"/><circle cx="637.8" cy="53.4" r="2.5"/><circle cx="643.0" cy="49.5" r="2.5"/><circle cx="648.3" cy="61.6" r="2.5"/><circle cx="653.5" cy="72.5" r="2.5"/><circle cx="658.8" cy="79.2" r="2.5"/><circle cx="664.0" cy="85.4" r="2.5"/><circle cx="669.3" cy="91.5" r="2.5"/><circle cx="674.5" cy="98.1" r="2.5"/><circle cx="679.8" cy="105.8" r="2.5"/><circle cx="685.1" cy="112.6" r="2.5"/><circle cx="690.3" cy="118.2" r="2.5"/><circle cx="695.6" cy="122.3" r="2.5"/><circle cx="700.8" cy="125.5" r="2.5"/><circle cx="706.1" cy="128.3" r="2.5"/><circle cx="711.3" cy="130.9" r="2.5"/><circle cx="716.6" cy="133.5" r="2.5"/><circle cx="721.9" cy="136.2" r="2.5"/><circle cx="727.1" cy="138.7" r="2.5"/><circle cx="732.4" cy="140.9" r="2.5"/><circle cx="737.6" cy="142.6" r="2.5"/><circle cx="742.9" cy="143.7" r="2.5"/><circle cx="748.1" cy="144.7" r="2.5"/><circle cx="753.4" cy="146.0" r="2.5"/></g>
<line x1="377.5" y1="156" x2="758.5" y2="156" stroke="#8c8c8c" stroke-width="2.2"/>
<text x="745.5" y="40.9" font-size="17" fill="#5a5a5a" text-anchor="end" font-family="'Liberation Sans', Arial, sans-serif" textLength="68.5" lengthAdjust="spacingAndGlyphs"><tspan font-style="italic">W</tspan> = 2 μm</text>
<line x1="370.5" y1="306.3" x2="377.5" y2="306.3" stroke="#9a9a9a" stroke-width="1.2"/>
<text x="365" y="311.9" font-size="16" fill="#5a5a5a" text-anchor="end" font-weight="normal" font-style="normal" font-family="'Liberation Sans', Arial, sans-serif" textLength="22" lengthAdjust="spacingAndGlyphs" >0.0</text>
<line x1="370.5" y1="243.8" x2="377.5" y2="243.8" stroke="#9a9a9a" stroke-width="1.2"/>
<text x="365" y="249.3" font-size="16" fill="#5a5a5a" text-anchor="end" font-weight="normal" font-style="normal" font-family="'Liberation Sans', Arial, sans-serif" textLength="22" lengthAdjust="spacingAndGlyphs" >0.5</text>
<line x1="370.5" y1="181.2" x2="377.5" y2="181.2" stroke="#9a9a9a" stroke-width="1.2"/>
<text x="365" y="186.8" font-size="16" fill="#5a5a5a" text-anchor="end" font-weight="normal" font-style="normal" font-family="'Liberation Sans', Arial, sans-serif" textLength="22" lengthAdjust="spacingAndGlyphs" >1.0</text>
<text transform="translate(328.5,231.8) rotate(-90)" font-size="15" fill="#555" text-anchor="middle" font-family="'Liberation Sans', Arial, sans-serif"><tspan font-style="italic">E</tspan>(<tspan font-style="italic">ν</tspan>)</text>
<line x1="504.8" y1="306.3" x2="504.8" y2="301.3" stroke="#9a9a9a" stroke-width="1.1"/>
<line x1="631.4" y1="306.3" x2="631.4" y2="301.3" stroke="#9a9a9a" stroke-width="1.1"/>
<path d="M437.0,305.2 L437.6,305.1 L438.3,305.1 L438.9,305.1 L439.6,305.1 L440.2,305.0 L440.9,305.0 L441.5,305.0 L442.1,304.9 L442.8,304.9 L443.4,304.9 L444.1,304.8 L444.7,304.8 L445.4,304.8 L446.0,304.7 L446.6,304.7 L447.3,304.7 L447.9,304.6 L448.6,304.6 L449.2,304.5 L449.9,304.5 L450.5,304.4 L451.2,304.4 L451.8,304.3 L452.4,304.3 L453.1,304.2 L453.7,304.2 L454.4,304.1 L455.0,304.0 L455.7,304.0 L456.3,303.9 L456.9,303.8 L457.6,303.8 L458.2,303.7 L458.9,303.6 L459.5,303.5 L460.2,303.4 L460.8,303.3 L461.4,303.2 L462.1,303.1 L462.7,303.0 L463.4,302.9 L464.0,302.8 L464.7,302.6 L465.3,302.5 L466.0,302.4 L466.6,302.2 L467.2,302.1 L467.9,301.9 L468.5,301.7 L469.2,301.5 L469.8,301.3 L470.5,301.1 L471.1,300.9 L471.7,300.6 L472.4,300.4 L473.0,300.1 L473.7,299.8 L474.3,299.5 L475.0,299.1 L475.6,298.7 L476.2,298.3 L476.9,297.9 L477.5,297.4 L478.2,296.9 L478.8,296.4 L479.5,295.8 L480.1,295.1 L480.8,294.4 L481.4,293.6 L482.0,292.8 L482.7,291.8 L483.3,290.8 L484.0,289.6 L484.6,288.4 L485.3,286.9 L485.9,285.4 L486.5,283.6 L487.2,281.6 L487.8,279.4 L488.5,277.0 L489.1,274.2 L489.8,271.0 L490.4,267.5 L491.0,263.5 L491.7,259.0 L492.3,254.0 L493.0,248.4 L493.6,242.2 L494.3,235.5 L494.9,228.4 L495.6,221.1 L496.2,213.9 L496.8,207.2 L497.5,201.5 L498.1,197.3 L498.8,195.2 L499.4,195.3 L500.1,197.6 L500.7,201.9 L501.3,207.8 L502.0,214.5 L502.6,221.8 L503.3,229.1 L503.9,236.2 L504.6,242.8 L505.2,248.9 L505.8,254.5 L506.5,259.4 L507.1,263.9 L507.8,267.8 L508.4,271.3 L509.1,274.4 L509.7,277.2 L510.4,279.7 L511.0,281.8 L511.6,283.8 L512.3,285.5 L512.9,287.1 L513.6,288.5 L514.2,289.7 L514.9,290.9 L515.5,291.9 L516.1,292.8 L516.8,293.7 L517.4,294.5 L518.1,295.2 L518.7,295.8 L519.4,296.4 L520.0,297.0 L520.6,297.5 L521.3,297.9 L521.9,298.4 L522.6,298.8 L523.2,299.1 L523.9,299.5 L524.5,299.8 L525.1,300.1 L525.8,300.4 L526.4,300.6 L527.1,300.9 L527.7,301.1 L528.4,301.3 L529.0,301.5 L529.7,301.7 L530.3,301.9 L530.9,302.1 L531.6,302.2 L532.2,302.4 L532.9,302.5 L533.5,302.7 L534.2,302.8 L534.8,302.9 L535.4,303.0 L536.1,303.1 L536.7,303.2 L537.4,303.3 L538.0,303.4 L538.7,303.5 L539.3,303.6 L539.9,303.7 L540.6,303.8 L541.2,303.8 L541.9,303.9 L542.5,304.0 L543.2,304.1 L543.8,304.1 L544.5,304.2 L545.1,304.2 L545.7,304.3 L546.4,304.3 L547.0,304.4 L547.7,304.4 L548.3,304.5 L549.0,304.5 L549.6,304.6 L550.2,304.6 L550.9,304.7 L551.5,304.7 L552.2,304.7 L552.8,304.8 L553.5,304.8 L554.1,304.8 L554.7,304.9 L555.4,304.9 L556.0,304.9 L556.7,305.0 L557.3,305.0 L558.0,305.0 L558.6,305.1 L559.3,305.1 L559.9,305.1 L560.5,305.1 L561.2,305.2 L561.8,305.2 L562.5,305.2 L563.1,305.2 L563.8,305.2 L564.4,305.3 L565.0,305.3 L565.7,305.3 L566.3,305.3 L567.0,305.3 L567.6,305.4 L568.3,305.4 L568.9,305.4 L569.5,305.4 L570.2,305.4 L570.8,305.4 L571.5,305.5 L572.1,305.5 L572.8,305.5 L573.4,305.5 L574.1,305.5 L574.7,305.5 L575.3,305.5 L576.0,305.6 L576.6,305.6 L577.3,305.6 L577.9,305.6 L578.6,305.6 L579.2,305.6 L579.8,305.6 L580.5,305.6 L581.1,305.6 L581.8,305.7 L582.4,305.7 L583.1,305.7 L583.7,305.7 L584.3,305.7 L585.0,305.7 L585.6,305.7 L586.3,305.7 L586.9,305.7 L587.6,305.7 L588.2,305.7 L588.9,305.7 L589.5,305.8 L590.1,305.8 L590.8,305.8 L591.4,305.8 L592.1,305.8 L592.7,305.8 L593.4,305.8 L594.0,305.8 L594.6,305.8 L595.3,305.8 L595.9,305.8 L596.6,305.8 L597.2,305.8 L597.9,305.8 L598.5,305.9 L599.1,305.9 L599.8,305.9 L600.4,305.9 L601.1,305.9 L601.7,305.9 L602.4,305.9 L603.0,305.9 L603.7,305.9 L604.3,305.9 L604.9,305.9 L605.6,305.9 L606.2,305.9 L606.9,305.9 L607.5,305.9 L608.2,305.9 L608.8,305.9 L609.4,305.9 L610.1,305.9 L610.7,305.9 L611.4,305.9 L612.0,306.0 L612.7,306.0 L613.3,306.0 L613.9,306.0 L614.6,306.0 L615.2,306.0 L615.9,306.0 L616.5,306.0 L617.2,306.0 L617.8,306.0 L618.5,306.0 L619.1,306.0 L619.7,306.0 L620.4,306.0 L621.0,306.0 L621.7,306.0 L622.3,306.0 L623.0,306.0 L623.6,306.0 L624.2,306.0 L624.9,306.0 L625.5,306.0 L626.2,306.0 L626.8,306.0 L627.5,306.0 L628.1,306.0 L628.7,306.0 L629.4,306.0 L630.0,306.0 L630.7,306.0 L631.3,306.0 L632.0,306.0 L632.6,306.1 L633.3,306.1 L633.9,306.1 L634.5,306.1 L635.2,306.1 L635.8,306.1 L636.5,306.1 L637.1,306.1 L637.8,306.1 L638.4,306.1 L639.0,306.1 L639.7,306.1 L640.3,306.1 L641.0,306.1 L641.6,306.1 L642.3,306.1 L642.9,306.1 L643.5,306.1 L644.2,306.1 L644.8,306.1 L645.5,306.1 L646.1,306.1 L646.8,306.1 L647.4,306.1 L648.0,306.1 L648.7,306.1 L649.3,306.1 L650.0,306.1 L650.6,306.1 L651.3,306.1 L651.9,306.1 L652.6,306.1 L653.2,306.1 L653.8,306.1 L654.5,306.1 L655.1,306.1 L655.8,306.1 L656.4,306.1 L657.1,306.1 L657.7,306.1 L658.3,306.1 L659.0,306.1 L659.6,306.1 L660.3,306.1 L660.9,306.1 L661.6,306.1 L662.2,306.1 L662.8,306.1 L663.5,306.1 L664.1,306.1 L664.8,306.1 L665.4,306.1 L666.1,306.1 L666.7,306.1 L667.4,306.1 L668.0,306.1 L668.6,306.1 L669.3,306.1 L669.9,306.1 L670.6,306.1 L671.2,306.1 L671.9,306.2 L672.5,306.2 L673.1,306.2 L673.8,306.2 L674.4,306.2 L675.1,306.2 L675.7,306.2 L676.4,306.2 L677.0,306.2 L677.6,306.2 L678.3,306.2 L678.9,306.2 L679.6,306.2 L680.2,306.2 L680.9,306.2 L681.5,306.2 L682.2,306.2 L682.8,306.2 L683.4,306.2 L684.1,306.2 L684.7,306.2 L685.4,306.2 L686.0,306.2 L686.7,306.2 L687.3,306.2 L687.9,306.2 L688.6,306.2 L689.2,306.2 L689.9,306.2 L690.5,306.2 L691.2,306.2 L691.8,306.2 L692.4,306.2 L693.1,306.2 L693.7,306.2 L694.4,306.2 L695.0,306.2 L695.7,306.2 L696.3,306.2 L697.0,306.2 L697.6,306.2 L698.2,306.2 L698.9,306.2 L699.5,306.2 L700.2,306.2 L700.8,306.2 L701.5,306.2 L702.1,306.2 L702.7,306.2 L703.4,306.2 L704.0,306.2 L704.7,306.2 L705.3,306.2 L706.0,306.2 L706.6,306.2 L707.2,306.2 L707.9,306.2 L708.5,306.2 L709.2,306.2 L709.8,306.2 L710.5,306.2 L711.1,306.2 L711.8,306.2 L712.4,306.2 L713.0,306.2 L713.7,306.2 L714.3,306.2 L715.0,306.2 L715.6,306.2 L716.3,306.2 L716.9,306.2 L717.5,306.2 L718.2,306.2 L718.8,306.2 L719.5,306.2 L720.1,306.2 L720.8,306.2 L721.4,306.2 L722.0,306.2 L722.7,306.2 L723.3,306.2 L724.0,306.2 L724.6,306.2 L725.3,306.2 L725.9,306.2 L726.6,306.2 L727.2,306.2 L727.8,306.2 L728.5,306.2 L729.1,306.2 L729.8,306.2 L730.4,306.2 L731.1,306.2 L731.7,306.2 L732.3,306.2 L733.0,306.2 L733.6,306.2 L734.3,306.2 L734.9,306.2 L735.6,306.2 L736.2,306.2 L736.8,306.2 L737.5,306.2 L738.1,306.2 L738.8,306.2 L739.4,306.2 L740.1,306.2 L740.7,306.2 L741.4,306.2 L742.0,306.2 L742.6,306.2 L743.3,306.2 L743.9,306.2 L744.6,306.2 L745.2,306.2 L745.9,306.2 L746.5,306.2 L747.1,306.2 L747.8,306.2 L748.4,306.2 L749.1,306.2 L749.7,306.2 L750.4,306.2 L751.0,306.2 L751.6,306.2 L752.3,306.2 L752.9,306.2 L753.6,306.2 L754.2,306.2 L754.9,306.2 L755.5,306.2 L756.1,306.2 L756.8,306.2 L757.4,306.2 L758.1,306.2" fill="none" stroke="#6cc070" stroke-width="1.2"/>
<path d="M599.8,306.3 L600.9,306.3 L602.1,306.3 L603.3,306.3 L604.5,306.3 L605.7,306.2 L606.8,306.2 L608.0,306.2 L609.2,306.2 L610.4,306.1 L611.6,306.0 L612.7,305.9 L613.9,305.8 L615.1,305.7 L616.3,305.5 L617.5,305.4 L618.6,305.2 L619.8,304.9 L621.0,304.7 L622.2,304.4 L623.4,304.1 L624.6,303.8 L625.7,303.6 L626.9,303.3 L628.1,303.1 L629.3,302.9 L630.5,302.7 L631.6,302.6 L632.8,302.6 L634.0,302.6 L635.2,302.6 L636.4,302.7 L637.5,302.9 L638.7,303.1 L639.9,303.3 L641.1,303.6 L642.3,303.9 L643.4,304.2 L644.6,304.5 L645.8,304.7 L647.0,305.0 L648.2,305.2 L649.3,305.4 L650.5,305.6 L651.7,305.7 L652.9,305.9 L654.1,306.0 L655.2,306.0 L656.4,306.1 L657.6,306.2 L658.8,306.2 L660.0,306.2 L661.2,306.2 L662.3,306.3 L663.5,306.3 L664.7,306.3 L665.9,306.3 L667.1,306.3 L668.2,306.3 L669.4,306.3" fill="none" stroke="#d890b8" stroke-width="1.2"/>
<path d="M437.0,296.6 L437.6,296.5 L438.3,296.5 L438.9,296.4 L439.6,296.3 L440.2,296.2 L440.9,296.1 L441.5,296.0 L442.1,295.8 L442.8,295.7 L443.4,295.6 L444.1,295.5 L444.7,295.4 L445.4,295.3 L446.0,295.2 L446.6,295.1 L447.3,295.0 L447.9,294.9 L448.6,294.7 L449.2,294.6 L449.9,294.5 L450.5,294.4 L451.2,294.2 L451.8,294.1 L452.4,294.0 L453.1,293.9 L453.7,293.7 L454.4,293.6 L455.0,293.5 L455.7,293.3 L456.3,293.2 L456.9,293.1 L457.6,292.9 L458.2,292.8 L458.9,292.6 L459.5,292.5 L460.2,292.3 L460.8,292.2 L461.4,292.0 L462.1,291.9 L462.7,291.7 L463.4,291.6 L464.0,291.4 L464.7,291.2 L465.3,291.1 L466.0,290.9 L466.6,290.7 L467.2,290.6 L467.9,290.4 L468.5,290.2 L469.2,290.0 L469.8,289.8 L470.5,289.7 L471.1,289.5 L471.7,289.3 L472.4,289.1 L473.0,288.9 L473.7,288.7 L474.3,288.5 L475.0,288.3 L475.6,288.1 L476.2,287.9 L476.9,287.7 L477.5,287.5 L478.2,287.2 L478.8,287.0 L479.5,286.8 L480.1,286.6 L480.8,286.3 L481.4,286.1 L482.0,285.9 L482.7,285.6 L483.3,285.4 L484.0,285.2 L484.6,284.9 L485.3,284.6 L485.9,284.4 L486.5,284.1 L487.2,283.9 L487.8,283.6 L488.5,283.3 L489.1,283.1 L489.8,282.8 L490.4,282.5 L491.0,282.2 L491.7,281.9 L492.3,281.6 L493.0,281.3 L493.6,281.0 L494.3,280.7 L494.9,280.4 L495.6,280.1 L496.2,279.8 L496.8,279.4 L497.5,279.1 L498.1,278.8 L498.8,278.4 L499.4,278.1 L500.1,277.7 L500.7,277.4 L501.3,277.0 L502.0,276.7 L502.6,276.3 L503.3,275.9 L503.9,275.6 L504.6,275.2 L505.2,274.8 L505.8,274.4 L506.5,274.0 L507.1,273.6 L507.8,273.2 L508.4,272.8 L509.1,272.3 L509.7,271.9 L510.4,271.5 L511.0,271.0 L511.6,270.6 L512.3,270.1 L512.9,269.7 L513.6,269.2 L514.2,268.7 L514.9,268.3 L515.5,267.8 L516.1,267.3 L516.8,266.8 L517.4,266.3 L518.1,265.8 L518.7,265.2 L519.4,264.7 L520.0,264.2 L520.6,263.7 L521.3,263.1 L521.9,262.6 L522.6,262.0 L523.2,261.4 L523.9,260.9 L524.5,260.3 L525.1,259.7 L525.8,259.1 L526.4,258.5 L527.1,257.9 L527.7,257.3 L528.4,256.6 L529.0,256.0 L529.7,255.4 L530.3,254.7 L530.9,254.1 L531.6,253.4 L532.2,252.7 L532.9,252.1 L533.5,251.4 L534.2,250.7 L534.8,250.0 L535.4,249.3 L536.1,248.6 L536.7,247.8 L537.4,247.1 L538.0,246.4 L538.7,245.6 L539.3,244.9 L539.9,244.1 L540.6,243.3 L541.2,242.6 L541.9,241.8 L542.5,241.0 L543.2,240.2 L543.8,239.4 L544.5,238.6 L545.1,237.8 L545.7,236.9 L546.4,236.1 L547.0,235.3 L547.7,234.4 L548.3,233.6 L549.0,232.7 L549.6,231.9 L550.2,231.0 L550.9,230.2 L551.5,229.3 L552.2,228.4 L552.8,227.5 L553.5,226.6 L554.1,225.7 L554.7,224.9 L555.4,224.0 L556.0,223.1 L556.7,222.2 L557.3,221.3 L558.0,220.3 L558.6,219.4 L559.3,218.5 L559.9,217.6 L560.5,216.7 L561.2,215.8 L561.8,214.9 L562.5,214.0 L563.1,213.1 L563.8,212.2 L564.4,211.3 L565.0,210.4 L565.7,209.5 L566.3,208.6 L567.0,207.7 L567.6,206.8 L568.3,205.9 L568.9,205.1 L569.5,204.2 L570.2,203.3 L570.8,202.5 L571.5,201.6 L572.1,200.8 L572.8,200.0 L573.4,199.2 L574.1,198.4 L574.7,197.6 L575.3,196.8 L576.0,196.0 L576.6,195.3 L577.3,194.5 L577.9,193.8 L578.6,193.1 L579.2,192.4 L579.8,191.7 L580.5,191.0 L581.1,190.4 L581.8,189.8 L582.4,189.1 L583.1,188.6 L583.7,188.0 L584.3,187.4 L585.0,186.9 L585.6,186.4 L586.3,185.9 L586.9,185.4 L587.6,185.0 L588.2,184.6 L588.9,184.2 L589.5,183.8 L590.1,183.4 L590.8,183.1 L591.4,182.8 L592.1,182.5 L592.7,182.3 L593.4,182.1 L594.0,181.9 L594.6,181.7 L595.3,181.5 L595.9,181.4 L596.6,181.3 L597.2,181.3 L597.9,181.2 L598.5,181.2 L599.1,181.2 L599.8,181.3 L600.4,181.4 L601.1,181.5 L601.7,181.7 L602.4,181.9 L603.0,182.2 L603.7,182.5 L604.3,182.8 L604.9,183.2 L605.6,183.6 L606.2,184.1 L606.9,184.5 L607.5,185.0 L608.2,185.6 L608.8,186.2 L609.4,186.8 L610.1,187.4 L610.7,188.1 L611.4,188.8 L612.0,189.5 L612.7,190.3 L613.3,191.1 L613.9,191.9 L614.6,192.7 L615.2,193.5 L615.9,194.4 L616.5,195.3 L617.2,196.2 L617.8,197.1 L618.5,198.0 L619.1,199.0 L619.7,199.9 L620.4,200.9 L621.0,201.9 L621.7,202.9 L622.3,203.9 L623.0,204.9 L623.6,205.9 L624.2,206.9 L624.9,207.9 L625.5,208.9 L626.2,210.0 L626.8,211.0 L627.5,212.0 L628.1,213.1 L628.7,214.1 L629.4,215.1 L630.0,216.1 L630.7,217.2 L631.3,218.2 L632.0,219.2 L632.6,220.2 L633.3,221.2 L633.9,222.2 L634.5,223.2 L635.2,224.2 L635.8,225.2 L636.5,226.2 L637.1,227.2 L637.8,228.1 L638.4,229.1 L639.0,230.1 L639.7,231.0 L640.3,231.9 L641.0,232.8 L641.6,233.8 L642.3,234.7 L642.9,235.6 L643.5,236.4 L644.2,237.3 L644.8,238.2 L645.5,239.0 L646.1,239.9 L646.8,240.7 L647.4,241.6 L648.0,242.4 L648.7,243.2 L649.3,244.0 L650.0,244.8 L650.6,245.5 L651.3,246.3 L651.9,247.1 L652.6,247.8 L653.2,248.5 L653.8,249.3 L654.5,250.0 L655.1,250.7 L655.8,251.4 L656.4,252.1 L657.1,252.8 L657.7,253.4 L658.3,254.1 L659.0,254.7 L659.6,255.4 L660.3,256.0 L660.9,256.6 L661.6,257.2 L662.2,257.8 L662.8,258.4 L663.5,259.0 L664.1,259.6 L664.8,260.2 L665.4,260.7 L666.1,261.3 L666.7,261.8 L667.4,262.4 L668.0,262.9 L668.6,263.4 L669.3,263.9 L669.9,264.4 L670.6,264.9 L671.2,265.4 L671.9,265.9 L672.5,266.4 L673.1,266.9 L673.8,267.3 L674.4,267.8 L675.1,268.2 L675.7,268.7 L676.4,269.1 L677.0,269.5 L677.6,269.9 L678.3,270.4 L678.9,270.8 L679.6,271.2 L680.2,271.6 L680.9,272.0 L681.5,272.4 L682.2,272.7 L682.8,273.1 L683.4,273.5 L684.1,273.8 L684.7,274.2 L685.4,274.6 L686.0,274.9 L686.7,275.2 L687.3,275.6 L687.9,275.9 L688.6,276.2 L689.2,276.6 L689.9,276.9 L690.5,277.2 L691.2,277.5 L691.8,277.8 L692.4,278.1 L693.1,278.4 L693.7,278.7 L694.4,279.0 L695.0,279.3 L695.7,279.6 L696.3,279.8 L697.0,280.1 L697.6,280.4 L698.2,280.6 L698.9,280.9 L699.5,281.2 L700.2,281.4 L700.8,281.7 L701.5,281.9 L702.1,282.2 L702.7,282.4 L703.4,282.6 L704.0,282.9 L704.7,283.1 L705.3,283.3 L706.0,283.6 L706.6,283.8 L707.2,284.0 L707.9,284.2 L708.5,284.4 L709.2,284.6 L709.8,284.8 L710.5,285.0 L711.1,285.2 L711.8,285.4 L712.4,285.6 L713.0,285.8 L713.7,286.0 L714.3,286.2 L715.0,286.4 L715.6,286.6 L716.3,286.8 L716.9,286.9 L717.5,287.1 L718.2,287.3 L718.8,287.5 L719.5,287.6 L720.1,287.8 L720.8,288.0 L721.4,288.1 L722.0,288.3 L722.7,288.5 L723.3,288.6 L724.0,288.8 L724.6,288.9 L725.3,289.1 L725.9,289.2 L726.6,289.4 L727.2,289.5 L727.8,289.7 L728.5,289.8 L729.1,289.9 L729.8,290.1 L730.4,290.2 L731.1,290.4 L731.7,290.5 L732.3,290.6 L733.0,290.8 L733.6,290.9 L734.3,291.0 L734.9,291.1 L735.6,291.3 L736.2,291.4 L736.8,291.5 L737.5,291.6 L738.1,291.7 L738.8,291.9 L739.4,292.0 L740.1,292.1 L740.7,292.2 L741.4,292.3 L742.0,292.4 L742.6,292.5 L743.3,292.7 L743.9,292.8 L744.6,292.9 L745.2,293.0 L745.9,293.1 L746.5,293.2 L747.1,293.3 L747.8,293.4 L748.4,293.5 L749.1,293.6 L749.7,293.7 L750.4,293.8 L751.0,293.9 L751.6,294.0 L752.3,294.1 L752.9,294.1 L753.6,294.2 L754.2,294.3 L754.9,294.4 L755.5,294.5 L756.1,294.6 L756.8,294.7 L757.4,294.8 L758.1,294.8" fill="none" stroke="#d8504c" stroke-width="1.3"/>
<path d="M437.0,296.2 L437.6,296.1 L438.3,296.0 L438.9,295.9 L439.6,295.7 L440.2,295.6 L440.8,295.5 L441.5,295.4 L442.1,295.3 L442.7,295.2 L443.4,295.1 L444.0,294.9 L444.7,294.8 L445.3,294.7 L445.9,294.6 L446.6,294.5 L447.2,294.3 L447.9,294.2 L448.5,294.1 L449.1,294.0 L449.8,293.8 L450.4,293.7 L451.1,293.6 L451.7,293.4 L452.3,293.3 L453.0,293.2 L453.6,293.0 L454.3,292.9 L454.9,292.8 L455.5,292.6 L456.2,292.5 L456.8,292.3 L457.4,292.2 L458.1,292.1 L458.7,291.9 L459.4,291.8 L460.0,291.6 L460.6,291.5 L461.3,291.3 L461.9,291.2 L462.6,291.0 L463.2,290.9 L463.8,290.7 L464.5,290.6 L465.1,290.4 L465.8,290.2 L466.4,290.0 L467.0,289.8 L467.7,289.6 L468.3,289.4 L468.9,289.1 L469.6,288.9 L470.2,288.7 L470.9,288.4 L471.5,288.2 L472.1,288.0 L472.8,287.7 L473.4,287.5 L474.1,287.3 L474.7,287.1 L475.3,286.9 L476.0,286.7 L476.6,286.5 L477.3,286.3 L477.9,286.1 L478.5,286.0 L479.2,285.8 L479.8,285.7 L480.4,285.6 L481.1,285.5 L481.7,285.5 L482.4,285.4 L483.0,285.4 L483.6,285.5 L484.3,285.8 L484.9,286.3 L485.6,286.9 L486.2,287.7 L486.8,288.5 L487.5,289.6 L488.1,291.2 L488.8,293.2 L489.4,295.5 L490.0,297.7 L490.7,299.7 L491.3,301.3 L492.0,302.5 L492.6,303.6 L493.2,304.7 L493.9,305.4 L494.5,305.8 L495.1,305.6 L495.8,304.9 L496.4,303.8 L497.1,302.7 L497.7,301.7 L498.3,300.8 L499.0,300.0 L499.6,299.2 L500.3,298.3 L500.9,297.5 L501.5,296.6 L502.2,295.8 L502.8,295.0 L503.5,294.2 L504.1,293.5 L504.7,292.8 L505.4,292.1 L506.0,291.4 L506.6,290.8 L507.3,290.2 L507.9,289.7 L508.6,289.1 L509.2,288.6 L509.8,288.1 L510.5,287.6 L511.1,287.1 L511.8,286.7 L512.4,286.2 L513.0,285.8 L513.7,285.3 L514.3,284.9 L515.0,284.5 L515.6,284.1 L516.2,283.7 L516.9,283.3 L517.5,282.9 L518.2,282.5 L518.8,282.1 L519.4,281.7 L520.1,281.3 L520.7,280.9 L521.3,280.5 L522.0,280.1 L522.6,279.7 L523.3,279.3 L523.9,278.9 L524.5,278.5 L525.2,278.0 L525.8,277.6 L526.5,277.1 L527.1,276.6 L527.7,276.1 L528.4,275.6 L529.0,275.1 L529.7,274.6 L530.3,274.1 L530.9,273.6 L531.6,273.0 L532.2,272.5 L532.8,272.0 L533.5,271.4 L534.1,270.9 L534.8,270.3 L535.4,269.8 L536.0,269.2 L536.7,268.6 L537.3,268.1 L538.0,267.5 L538.6,266.9 L539.2,266.3 L539.9,265.7 L540.5,265.1 L541.2,264.5 L541.8,263.9 L542.4,263.3 L543.1,262.7 L543.7,262.0 L544.4,261.4 L545.0,260.8 L545.6,260.1 L546.3,259.5 L546.9,258.8 L547.5,258.1 L548.2,257.5 L548.8,256.8 L549.5,256.1 L550.1,255.4 L550.7,254.7 L551.4,254.0 L552.0,253.3 L552.7,252.5 L553.3,251.8 L553.9,251.0 L554.6,250.3 L555.2,249.5 L555.9,248.7 L556.5,247.9 L557.1,247.1 L557.8,246.3 L558.4,245.5 L559.0,244.7 L559.7,243.9 L560.3,243.0 L561.0,242.2 L561.6,241.4 L562.2,240.5 L562.9,239.6 L563.5,238.8 L564.2,237.9 L564.8,237.0 L565.4,236.2 L566.1,235.3 L566.7,234.4 L567.4,233.5 L568.0,232.6 L568.6,231.6 L569.3,230.7 L569.9,229.7 L570.6,228.8 L571.2,227.8 L571.8,226.8 L572.5,225.9 L573.1,224.9 L573.7,223.9 L574.4,222.9 L575.0,221.8 L575.7,220.8 L576.3,219.8 L576.9,218.8 L577.6,217.8 L578.2,216.7 L578.9,215.7 L579.5,214.7 L580.1,213.6 L580.8,212.6 L581.4,211.6 L582.1,210.5 L582.7,209.4 L583.3,208.3 L584.0,207.2 L584.6,206.0 L585.2,204.9 L585.9,203.7 L586.5,202.5 L587.2,201.3 L587.8,200.2 L588.4,199.0 L589.1,197.9 L589.7,196.8 L590.4,195.7 L591.0,194.6 L591.6,193.6 L592.3,192.7 L592.9,191.7 L593.6,190.9 L594.2,190.0 L594.8,189.2 L595.5,188.4 L596.1,187.5 L596.7,186.7 L597.4,185.8 L598.0,185.0 L598.7,184.3 L599.3,183.6 L599.9,182.9 L600.6,182.4 L601.2,181.9 L601.9,181.5 L602.5,181.3 L603.1,181.2 L603.8,181.1 L604.4,181.0 L605.1,180.9 L605.7,180.9 L606.3,180.8 L607.0,180.7 L607.6,180.7 L608.3,180.7 L608.9,180.6 L609.5,180.6 L610.2,180.6 L610.8,180.6 L611.4,180.6 L612.1,180.7 L612.7,180.9 L613.4,181.1 L614.0,181.4 L614.6,181.8 L615.3,182.2 L615.9,182.7 L616.6,183.2 L617.2,183.7 L617.8,184.2 L618.5,184.8 L619.1,185.3 L619.8,185.8 L620.4,186.2 L621.0,186.8 L621.7,187.4 L622.3,188.1 L622.9,188.8 L623.6,189.6 L624.2,190.3 L624.9,191.1 L625.5,191.9 L626.1,192.6 L626.8,193.3 L627.4,193.9 L628.1,194.4 L628.7,194.9 L629.3,195.2 L630.0,195.5 L630.6,195.6 L631.3,195.5 L631.9,195.3 L632.5,194.9 L633.2,194.4 L633.8,193.8 L634.5,193.1 L635.1,192.4 L635.7,191.6 L636.4,190.9 L637.0,190.1 L637.6,189.5 L638.3,188.9 L638.9,188.5 L639.6,188.2 L640.2,188.1 L640.8,188.4 L641.5,189.3 L642.1,190.7 L642.8,192.5 L643.4,194.5 L644.0,196.5 L644.7,198.6 L645.3,200.8 L646.0,203.4 L646.6,206.4 L647.2,209.5 L647.9,212.6 L648.5,215.5 L649.1,218.1 L649.8,220.2 L650.4,222.0 L651.1,223.7 L651.7,225.3 L652.3,226.9 L653.0,228.3 L653.6,229.7 L654.3,231.1 L654.9,232.4 L655.5,233.6 L656.2,234.8 L656.8,235.9 L657.5,237.0 L658.1,238.0 L658.7,239.0 L659.4,240.0 L660.0,240.9 L660.7,241.8 L661.3,242.6 L661.9,243.4 L662.6,244.3 L663.2,245.0 L663.8,245.8 L664.5,246.6 L665.1,247.3 L665.8,248.0 L666.4,248.7 L667.0,249.4 L667.7,250.0 L668.3,250.7 L669.0,251.3 L669.6,251.9 L670.2,252.5 L670.9,253.1 L671.5,253.7 L672.2,254.2 L672.8,254.8 L673.4,255.3 L674.1,255.9 L674.7,256.4 L675.3,256.9 L676.0,257.4 L676.6,257.9 L677.3,258.5 L677.9,259.0 L678.5,259.5 L679.2,259.9 L679.8,260.4 L680.5,260.9 L681.1,261.4 L681.7,261.8 L682.4,262.3 L683.0,262.7 L683.7,263.2 L684.3,263.6 L684.9,264.0 L685.6,264.4 L686.2,264.8 L686.9,265.3 L687.5,265.7 L688.1,266.1 L688.8,266.5 L689.4,266.9 L690.0,267.2 L690.7,267.6 L691.3,268.0 L692.0,268.4 L692.6,268.8 L693.2,269.2 L693.9,269.5 L694.5,269.9 L695.2,270.3 L695.8,270.7 L696.4,271.0 L697.1,271.4 L697.7,271.8 L698.4,272.2 L699.0,272.5 L699.6,272.9 L700.3,273.3 L700.9,273.7 L701.5,274.1 L702.2,274.4 L702.8,274.8 L703.5,275.2 L704.1,275.6 L704.7,276.0 L705.4,276.4 L706.0,276.7 L706.7,277.1 L707.3,277.5 L707.9,277.9 L708.6,278.2 L709.2,278.6 L709.9,279.0 L710.5,279.3 L711.1,279.7 L711.8,280.1 L712.4,280.4 L713.0,280.8 L713.7,281.1 L714.3,281.4 L715.0,281.8 L715.6,282.1 L716.2,282.4 L716.9,282.7 L717.5,283.0 L718.2,283.3 L718.8,283.6 L719.4,283.9 L720.1,284.1 L720.7,284.4 L721.4,284.7 L722.0,284.9 L722.6,285.2 L723.3,285.4 L723.9,285.7 L724.6,285.9 L725.2,286.2 L725.8,286.4 L726.5,286.7 L727.1,286.9 L727.7,287.2 L728.4,287.4 L729.0,287.6 L729.7,287.9 L730.3,288.1 L730.9,288.3 L731.6,288.6 L732.2,288.8 L732.9,289.0 L733.5,289.3 L734.1,289.5 L734.8,289.7 L735.4,289.9 L736.1,290.1 L736.7,290.3 L737.3,290.6 L738.0,290.8 L738.6,291.0 L739.2,291.2 L739.9,291.4 L740.5,291.6 L741.2,291.7 L741.8,291.9 L742.4,292.1 L743.1,292.3 L743.7,292.5 L744.4,292.7 L745.0,292.8 L745.6,293.0 L746.3,293.2 L746.9,293.3 L747.6,293.5 L748.2,293.6 L748.8,293.8 L749.5,293.9 L750.1,294.1 L750.8,294.2 L751.4,294.4 L752.0,294.5 L752.7,294.6 L753.3,294.7 L753.9,294.8 L754.6,295.0 L755.2,295.1 L755.9,295.2" fill="none" stroke="#34344e" stroke-width="1.7"/>
<g fill="none" stroke="#6c78b0" stroke-width="1.4"><circle cx="437.0" cy="303.7" r="2.5"/><circle cx="442.3" cy="302.4" r="2.5"/><circle cx="447.5" cy="301.1" r="2.5"/><circle cx="452.8" cy="299.8" r="2.5"/><circle cx="458.0" cy="298.6" r="2.5"/><circle cx="463.3" cy="297.4" r="2.5"/><circle cx="468.5" cy="296.0" r="2.5"/><circle cx="473.8" cy="294.4" r="2.5"/><circle cx="479.0" cy="293.3" r="2.5"/><circle cx="484.3" cy="293.2" r="2.5"/><circle cx="489.6" cy="298.3" r="2.5"/><circle cx="494.8" cy="302.2" r="2.5"/><circle cx="500.1" cy="303.1" r="2.5"/><circle cx="505.3" cy="302.7" r="2.5"/><circle cx="510.6" cy="301.2" r="2.5"/><circle cx="515.8" cy="297.5" r="2.5"/><circle cx="521.1" cy="293.0" r="2.5"/><circle cx="526.4" cy="288.8" r="2.5"/><circle cx="531.6" cy="284.5" r="2.5"/><circle cx="536.9" cy="279.8" r="2.5"/><circle cx="542.1" cy="274.4" r="2.5"/><circle cx="547.4" cy="267.8" r="2.5"/><circle cx="552.6" cy="260.3" r="2.5"/><circle cx="557.9" cy="252.4" r="2.5"/><circle cx="563.2" cy="243.8" r="2.5"/><circle cx="568.4" cy="234.7" r="2.5"/><circle cx="573.7" cy="225.7" r="2.5"/><circle cx="578.9" cy="216.6" r="2.5"/><circle cx="584.2" cy="208.1" r="2.5"/><circle cx="589.4" cy="199.8" r="2.5"/><circle cx="594.7" cy="192.4" r="2.5"/><circle cx="599.9" cy="186.5" r="2.5"/><circle cx="605.2" cy="181.8" r="2.5"/><circle cx="610.5" cy="181.2" r="2.5"/><circle cx="615.7" cy="181.2" r="2.5"/><circle cx="621.0" cy="184.6" r="2.5"/><circle cx="626.2" cy="190.1" r="2.5"/><circle cx="631.5" cy="194.4" r="2.5"/><circle cx="636.7" cy="190.1" r="2.5"/><circle cx="642.0" cy="189.4" r="2.5"/><circle cx="647.3" cy="199.8" r="2.5"/><circle cx="652.5" cy="208.8" r="2.5"/><circle cx="657.8" cy="221.3" r="2.5"/><circle cx="663.0" cy="230.0" r="2.5"/><circle cx="668.3" cy="236.8" r="2.5"/><circle cx="673.5" cy="242.1" r="2.5"/><circle cx="678.8" cy="247.0" r="2.5"/><circle cx="684.0" cy="251.8" r="2.5"/><circle cx="689.3" cy="256.2" r="2.5"/><circle cx="694.6" cy="260.0" r="2.5"/><circle cx="699.8" cy="263.2" r="2.5"/><circle cx="705.1" cy="266.0" r="2.5"/><circle cx="710.3" cy="268.5" r="2.5"/><circle cx="715.6" cy="270.7" r="2.5"/><circle cx="720.8" cy="272.7" r="2.5"/><circle cx="726.1" cy="274.5" r="2.5"/><circle cx="731.4" cy="276.1" r="2.5"/><circle cx="736.6" cy="277.5" r="2.5"/><circle cx="741.9" cy="278.9" r="2.5"/><circle cx="747.1" cy="280.2" r="2.5"/><circle cx="752.4" cy="281.4" r="2.5"/><circle cx="757.6" cy="282.2" r="2.5"/></g>
<line x1="377.5" y1="306.3" x2="758.5" y2="306.3" stroke="#8c8c8c" stroke-width="2.2"/>
<text x="745.5" y="181.9" font-size="17" fill="#5a5a5a" text-anchor="end" font-family="'Liberation Sans', Arial, sans-serif" textLength="80" lengthAdjust="spacingAndGlyphs"><tspan font-style="italic">W</tspan> = 2.5 μm</text>
<line x1="370.5" y1="445.9" x2="377.5" y2="445.9" stroke="#9a9a9a" stroke-width="1.2"/>
<text x="365" y="451.5" font-size="16" fill="#5a5a5a" text-anchor="end" font-weight="normal" font-style="normal" font-family="'Liberation Sans', Arial, sans-serif" textLength="22" lengthAdjust="spacingAndGlyphs" >0.0</text>
<line x1="370.5" y1="387.4" x2="377.5" y2="387.4" stroke="#9a9a9a" stroke-width="1.2"/>
<text x="365" y="393.1" font-size="16" fill="#5a5a5a" text-anchor="end" font-weight="normal" font-style="normal" font-family="'Liberation Sans', Arial, sans-serif" textLength="22" lengthAdjust="spacingAndGlyphs" >0.5</text>
<line x1="370.5" y1="329" x2="377.5" y2="329" stroke="#9a9a9a" stroke-width="1.2"/>
<text x="365" y="334.6" font-size="16" fill="#5a5a5a" text-anchor="end" font-weight="normal" font-style="normal" font-family="'Liberation Sans', Arial, sans-serif" textLength="22" lengthAdjust="spacingAndGlyphs" >1.0</text>
<text transform="translate(328.5,375.4) rotate(-90)" font-size="15" fill="#555" text-anchor="middle" font-family="'Liberation Sans', Arial, sans-serif"><tspan font-style="italic">E</tspan>(<tspan font-style="italic">ν</tspan>)</text>
<line x1="504.8" y1="445.9" x2="504.8" y2="440.9" stroke="#9a9a9a" stroke-width="1.1"/>
<line x1="631.4" y1="445.9" x2="631.4" y2="440.9" stroke="#9a9a9a" stroke-width="1.1"/>
<path d="M437.0,445.3 L437.6,445.3 L438.3,445.2 L438.9,445.2 L439.6,445.2 L440.2,445.2 L440.9,445.2 L441.5,445.2 L442.1,445.2 L442.8,445.1 L443.4,445.1 L444.1,445.1 L444.7,445.1 L445.4,445.1 L446.0,445.0 L446.6,445.0 L447.3,445.0 L447.9,445.0 L448.6,444.9 L449.2,444.9 L449.9,444.9 L450.5,444.9 L451.2,444.8 L451.8,444.8 L452.4,444.8 L453.1,444.7 L453.7,444.7 L454.4,444.7 L455.0,444.6 L455.7,444.6 L456.3,444.6 L456.9,444.5 L457.6,444.5 L458.2,444.4 L458.9,444.4 L459.5,444.3 L460.2,444.3 L460.8,444.2 L461.4,444.2 L462.1,444.1 L462.7,444.0 L463.4,444.0 L464.0,443.9 L464.7,443.8 L465.3,443.7 L466.0,443.6 L466.6,443.5 L467.2,443.4 L467.9,443.3 L468.5,443.2 L469.2,443.1 L469.8,443.0 L470.5,442.8 L471.1,442.7 L471.7,442.5 L472.4,442.4 L473.0,442.2 L473.7,442.0 L474.3,441.8 L475.0,441.5 L475.6,441.3 L476.2,441.0 L476.9,440.7 L477.5,440.4 L478.2,440.0 L478.8,439.6 L479.5,439.2 L480.1,438.7 L480.8,438.2 L481.4,437.6 L482.0,437.0 L482.7,436.2 L483.3,435.4 L484.0,434.5 L484.6,433.5 L485.3,432.3 L485.9,431.0 L486.5,429.4 L487.2,427.7 L487.8,425.6 L488.5,423.3 L489.1,420.5 L489.8,417.3 L490.4,413.5 L491.0,409.1 L491.7,404.0 L492.3,398.0 L493.0,391.2 L493.6,383.5 L494.3,375.2 L494.9,366.7 L495.6,358.7 L496.2,352.2 L496.8,348.2 L497.5,347.5 L498.1,350.3 L498.8,355.9 L499.4,363.4 L500.1,371.8 L500.7,380.3 L501.3,388.3 L502.0,395.4 L502.6,401.7 L503.3,407.2 L503.9,411.9 L504.6,415.9 L505.2,419.3 L505.8,422.2 L506.5,424.7 L507.1,426.9 L507.8,428.8 L508.4,430.4 L509.1,431.8 L509.7,433.0 L510.4,434.1 L511.0,435.1 L511.6,435.9 L512.3,436.7 L512.9,437.4 L513.6,438.0 L514.2,438.5 L514.9,439.0 L515.5,439.5 L516.1,439.9 L516.8,440.2 L517.4,440.6 L518.1,440.9 L518.7,441.2 L519.4,441.4 L520.0,441.7 L520.6,441.9 L521.3,442.1 L521.9,442.3 L522.6,442.5 L523.2,442.6 L523.9,442.8 L524.5,442.9 L525.1,443.0 L525.8,443.2 L526.4,443.3 L527.1,443.4 L527.7,443.5 L528.4,443.6 L529.0,443.7 L529.7,443.8 L530.3,443.8 L530.9,443.9 L531.6,444.0 L532.2,444.1 L532.9,444.1 L533.5,444.2 L534.2,444.2 L534.8,444.3 L535.4,444.4 L536.1,444.4 L536.7,444.5 L537.4,444.5 L538.0,444.5 L538.7,444.6 L539.3,444.6 L539.9,444.7 L540.6,444.7 L541.2,444.7 L541.9,444.8 L542.5,444.8 L543.2,444.8 L543.8,444.9 L544.5,444.9 L545.1,444.9 L545.7,444.9 L546.4,445.0 L547.0,445.0 L547.7,445.0 L548.3,445.0 L549.0,445.1 L549.6,445.1 L550.2,445.1 L550.9,445.1 L551.5,445.1 L552.2,445.1 L552.8,445.2 L553.5,445.2 L554.1,445.2 L554.7,445.2 L555.4,445.2 L556.0,445.2 L556.7,445.3 L557.3,445.3 L558.0,445.3 L558.6,445.3 L559.3,445.3 L559.9,445.3 L560.5,445.3 L561.2,445.3 L561.8,445.4 L562.5,445.4 L563.1,445.4 L563.8,445.4 L564.4,445.4 L565.0,445.4 L565.7,445.4 L566.3,445.4 L567.0,445.4 L567.6,445.4 L568.3,445.4 L568.9,445.5 L569.5,445.5 L570.2,445.5 L570.8,445.5 L571.5,445.5 L572.1,445.5 L572.8,445.5 L573.4,445.5 L574.1,445.5 L574.7,445.5 L575.3,445.5 L576.0,445.5 L576.6,445.5 L577.3,445.5 L577.9,445.6 L578.6,445.6 L579.2,445.6 L579.8,445.6 L580.5,445.6 L581.1,445.6 L581.8,445.6 L582.4,445.6 L583.1,445.6 L583.7,445.6 L584.3,445.6 L585.0,445.6 L585.6,445.6 L586.3,445.6 L586.9,445.6 L587.6,445.6 L588.2,445.6 L588.9,445.6 L589.5,445.6 L590.1,445.6 L590.8,445.6 L591.4,445.6 L592.1,445.6 L592.7,445.6 L593.4,445.7 L594.0,445.7 L594.6,445.7 L595.3,445.7 L595.9,445.7 L596.6,445.7 L597.2,445.7 L597.9,445.7 L598.5,445.7 L599.1,445.7 L599.8,445.7 L600.4,445.7 L601.1,445.7 L601.7,445.7 L602.4,445.7 L603.0,445.7 L603.7,445.7 L604.3,445.7 L604.9,445.7 L605.6,445.7 L606.2,445.7 L606.9,445.7 L607.5,445.7 L608.2,445.7 L608.8,445.7 L609.4,445.7 L610.1,445.7 L610.7,445.7 L611.4,445.7 L612.0,445.7 L612.7,445.7 L613.3,445.7 L613.9,445.7 L614.6,445.7 L615.2,445.7 L615.9,445.7 L616.5,445.7 L617.2,445.7 L617.8,445.7 L618.5,445.7 L619.1,445.7 L619.7,445.7 L620.4,445.7 L621.0,445.8 L621.7,445.8 L622.3,445.8 L623.0,445.8 L623.6,445.8 L624.2,445.8 L624.9,445.8 L625.5,445.8 L626.2,445.8 L626.8,445.8 L627.5,445.8 L628.1,445.8 L628.7,445.8 L629.4,445.8 L630.0,445.8 L630.7,445.8 L631.3,445.8 L632.0,445.8 L632.6,445.8 L633.3,445.8 L633.9,445.8 L634.5,445.8 L635.2,445.8 L635.8,445.8 L636.5,445.8 L637.1,445.8 L637.8,445.8 L638.4,445.8 L639.0,445.8 L639.7,445.8 L640.3,445.8 L641.0,445.8 L641.6,445.8 L642.3,445.8 L642.9,445.8 L643.5,445.8 L644.2,445.8 L644.8,445.8 L645.5,445.8 L646.1,445.8 L646.8,445.8 L647.4,445.8 L648.0,445.8 L648.7,445.8 L649.3,445.8 L650.0,445.8 L650.6,445.8 L651.3,445.8 L651.9,445.8 L652.6,445.8 L653.2,445.8 L653.8,445.8 L654.5,445.8 L655.1,445.8 L655.8,445.8 L656.4,445.8 L657.1,445.8 L657.7,445.8 L658.3,445.8 L659.0,445.8 L659.6,445.8 L660.3,445.8 L660.9,445.8 L661.6,445.8 L662.2,445.8 L662.8,445.8 L663.5,445.8 L664.1,445.8 L664.8,445.8 L665.4,445.8 L666.1,445.8 L666.7,445.8 L667.4,445.8 L668.0,445.8 L668.6,445.8 L669.3,445.8 L669.9,445.8 L670.6,445.8 L671.2,445.8 L671.9,445.8 L672.5,445.8 L673.1,445.8 L673.8,445.8 L674.4,445.8 L675.1,445.8 L675.7,445.8 L676.4,445.8 L677.0,445.8 L677.6,445.8 L678.3,445.8 L678.9,445.8 L679.6,445.8 L680.2,445.8 L680.9,445.8 L681.5,445.8 L682.2,445.8 L682.8,445.8 L683.4,445.8 L684.1,445.8 L684.7,445.8 L685.4,445.8 L686.0,445.8 L686.7,445.8 L687.3,445.8 L687.9,445.8 L688.6,445.8 L689.2,445.8 L689.9,445.8 L690.5,445.8 L691.2,445.8 L691.8,445.8 L692.4,445.8 L693.1,445.8 L693.7,445.8 L694.4,445.8 L695.0,445.8 L695.7,445.8 L696.3,445.8 L697.0,445.8 L697.6,445.8 L698.2,445.8 L698.9,445.8 L699.5,445.8 L700.2,445.8 L700.8,445.8 L701.5,445.8 L702.1,445.8 L702.7,445.8 L703.4,445.8 L704.0,445.8 L704.7,445.8 L705.3,445.8 L706.0,445.8 L706.6,445.8 L707.2,445.8 L707.9,445.8 L708.5,445.8 L709.2,445.8 L709.8,445.8 L710.5,445.8 L711.1,445.9 L711.8,445.9 L712.4,445.9 L713.0,445.9 L713.7,445.9 L714.3,445.9 L715.0,445.9 L715.6,445.9 L716.3,445.9 L716.9,445.9 L717.5,445.9 L718.2,445.9 L718.8,445.9 L719.5,445.9 L720.1,445.9 L720.8,445.9 L721.4,445.9 L722.0,445.9 L722.7,445.9 L723.3,445.9 L724.0,445.9 L724.6,445.9 L725.3,445.9 L725.9,445.9 L726.6,445.9 L727.2,445.9 L727.8,445.9 L728.5,445.9 L729.1,445.9 L729.8,445.9 L730.4,445.9 L731.1,445.9 L731.7,445.9 L732.3,445.9 L733.0,445.9 L733.6,445.9 L734.3,445.9 L734.9,445.9 L735.6,445.9 L736.2,445.9 L736.8,445.9 L737.5,445.9 L738.1,445.9 L738.8,445.9 L739.4,445.9 L740.1,445.9 L740.7,445.9 L741.4,445.9 L742.0,445.9 L742.6,445.9 L743.3,445.9 L743.9,445.9 L744.6,445.9 L745.2,445.9 L745.9,445.9 L746.5,445.9 L747.1,445.9 L747.8,445.9 L748.4,445.9 L749.1,445.9 L749.7,445.9 L750.4,445.9 L751.0,445.9 L751.6,445.9 L752.3,445.9 L752.9,445.9 L753.6,445.9 L754.2,445.9 L754.9,445.9 L755.5,445.9 L756.1,445.9 L756.8,445.9 L757.4,445.9 L758.1,445.9" fill="none" stroke="#6cc070" stroke-width="1.2"/>
<path d="M599.8,445.9 L600.9,445.9 L602.1,445.9 L603.3,445.9 L604.5,445.9 L605.7,445.9 L606.8,445.9 L608.0,445.9 L609.2,445.9 L610.4,445.8 L611.6,445.8 L612.7,445.8 L613.9,445.7 L615.1,445.6 L616.3,445.5 L617.5,445.3 L618.6,445.1 L619.8,444.8 L621.0,444.5 L622.2,444.1 L623.4,443.7 L624.6,443.2 L625.7,442.7 L626.9,442.2 L628.1,441.6 L629.3,441.1 L630.5,440.7 L631.6,440.3 L632.8,440.0 L634.0,439.8 L635.2,439.7 L636.4,439.8 L637.5,439.9 L638.7,440.2 L639.9,440.6 L641.1,441.1 L642.3,441.6 L643.4,442.1 L644.6,442.7 L645.8,443.2 L647.0,443.7 L648.2,444.1 L649.3,444.5 L650.5,444.8 L651.7,445.1 L652.9,445.3 L654.1,445.4 L655.2,445.6 L656.4,445.7 L657.6,445.7 L658.8,445.8 L660.0,445.8 L661.2,445.9 L662.3,445.9 L663.5,445.9 L664.7,445.9 L665.9,445.9 L667.1,445.9 L668.2,445.9 L669.4,445.9" fill="none" stroke="#d890b8" stroke-width="1.2"/>
<path d="M437.0,428.3 L437.6,428.1 L438.3,427.9 L438.9,427.8 L439.6,427.6 L440.2,427.4 L440.9,427.2 L441.5,427.0 L442.1,426.8 L442.8,426.6 L443.4,426.4 L444.1,426.2 L444.7,426.0 L445.4,425.8 L446.0,425.5 L446.6,425.3 L447.3,425.1 L447.9,424.9 L448.6,424.6 L449.2,424.4 L449.9,424.2 L450.5,423.9 L451.2,423.7 L451.8,423.4 L452.4,423.2 L453.1,422.9 L453.7,422.7 L454.4,422.4 L455.0,422.1 L455.7,421.9 L456.3,421.6 L456.9,421.3 L457.6,421.0 L458.2,420.7 L458.9,420.4 L459.5,420.1 L460.2,419.8 L460.8,419.5 L461.4,419.2 L462.1,418.9 L462.7,418.6 L463.4,418.2 L464.0,417.9 L464.7,417.6 L465.3,417.2 L466.0,416.9 L466.6,416.5 L467.2,416.2 L467.9,415.8 L468.5,415.4 L469.2,415.0 L469.8,414.6 L470.5,414.3 L471.1,413.8 L471.7,413.4 L472.4,413.0 L473.0,412.6 L473.7,412.2 L474.3,411.7 L475.0,411.3 L475.6,410.9 L476.2,410.4 L476.9,409.9 L477.5,409.5 L478.2,409.0 L478.8,408.5 L479.5,408.0 L480.1,407.5 L480.8,407.0 L481.4,406.5 L482.0,405.9 L482.7,405.4 L483.3,404.8 L484.0,404.3 L484.6,403.7 L485.3,403.1 L485.9,402.5 L486.5,402.0 L487.2,401.3 L487.8,400.7 L488.5,400.1 L489.1,399.5 L489.8,398.8 L490.4,398.2 L491.0,397.5 L491.7,396.8 L492.3,396.1 L493.0,395.4 L493.6,394.7 L494.3,394.0 L494.9,393.3 L495.6,392.5 L496.2,391.8 L496.8,391.0 L497.5,390.2 L498.1,389.4 L498.8,388.6 L499.4,387.8 L500.1,387.0 L500.7,386.1 L501.3,385.3 L502.0,384.4 L502.6,383.6 L503.3,382.7 L503.9,381.8 L504.6,380.9 L505.2,380.0 L505.8,379.0 L506.5,378.1 L507.1,377.1 L507.8,376.2 L508.4,375.2 L509.1,374.2 L509.7,373.2 L510.4,372.2 L511.0,371.2 L511.6,370.2 L512.3,369.2 L512.9,368.2 L513.6,367.1 L514.2,366.1 L514.9,365.0 L515.5,364.0 L516.1,362.9 L516.8,361.8 L517.4,360.8 L518.1,359.7 L518.7,358.6 L519.4,357.6 L520.0,356.5 L520.6,355.4 L521.3,354.4 L521.9,353.3 L522.6,352.2 L523.2,351.2 L523.9,350.1 L524.5,349.1 L525.1,348.1 L525.8,347.1 L526.4,346.1 L527.1,345.1 L527.7,344.1 L528.4,343.2 L529.0,342.2 L529.7,341.3 L530.3,340.4 L530.9,339.5 L531.6,338.7 L532.2,337.9 L532.9,337.1 L533.5,336.3 L534.2,335.6 L534.8,334.9 L535.4,334.2 L536.1,333.6 L536.7,333.0 L537.4,332.4 L538.0,331.9 L538.7,331.4 L539.3,331.0 L539.9,330.6 L540.6,330.2 L541.2,329.9 L541.9,329.7 L542.5,329.4 L543.2,329.3 L543.8,329.1 L544.5,329.0 L545.1,329.0 L545.7,329.0 L546.4,329.1 L547.0,329.2 L547.7,329.3 L548.3,329.5 L549.0,329.8 L549.6,330.0 L550.2,330.4 L550.9,330.7 L551.5,331.1 L552.2,331.6 L552.8,332.1 L553.5,332.6 L554.1,333.2 L554.7,333.8 L555.4,334.5 L556.0,335.1 L556.7,335.9 L557.3,336.6 L558.0,337.4 L558.6,338.2 L559.3,339.0 L559.9,339.9 L560.5,340.8 L561.2,341.7 L561.8,342.6 L562.5,343.5 L563.1,344.5 L563.8,345.5 L564.4,346.5 L565.0,347.5 L565.7,348.5 L566.3,349.5 L567.0,350.6 L567.6,351.6 L568.3,352.7 L568.9,353.7 L569.5,354.8 L570.2,355.9 L570.8,356.9 L571.5,358.0 L572.1,359.1 L572.8,360.1 L573.4,361.2 L574.1,362.3 L574.7,363.3 L575.3,364.4 L576.0,365.4 L576.6,366.5 L577.3,367.5 L577.9,368.6 L578.6,369.6 L579.2,370.6 L579.8,371.6 L580.5,372.6 L581.1,373.6 L581.8,374.6 L582.4,375.6 L583.1,376.6 L583.7,377.5 L584.3,378.5 L585.0,379.4 L585.6,380.3 L586.3,381.2 L586.9,382.1 L587.6,383.0 L588.2,383.9 L588.9,384.8 L589.5,385.6 L590.1,386.5 L590.8,387.3 L591.4,388.1 L592.1,388.9 L592.7,389.7 L593.4,390.5 L594.0,391.3 L594.6,392.1 L595.3,392.8 L595.9,393.6 L596.6,394.3 L597.2,395.0 L597.9,395.7 L598.5,396.4 L599.1,397.1 L599.8,397.8 L600.4,398.4 L601.1,399.1 L601.7,399.7 L602.4,400.4 L603.0,401.0 L603.7,401.6 L604.3,402.2 L604.9,402.8 L605.6,403.4 L606.2,403.9 L606.9,404.5 L607.5,405.1 L608.2,405.6 L608.8,406.1 L609.4,406.7 L610.1,407.2 L610.7,407.7 L611.4,408.2 L612.0,408.7 L612.7,409.2 L613.3,409.6 L613.9,410.1 L614.6,410.6 L615.2,411.0 L615.9,411.5 L616.5,411.9 L617.2,412.4 L617.8,412.8 L618.5,413.2 L619.1,413.6 L619.7,414.0 L620.4,414.4 L621.0,414.8 L621.7,415.2 L622.3,415.6 L623.0,415.9 L623.6,416.3 L624.2,416.7 L624.9,417.0 L625.5,417.4 L626.2,417.7 L626.8,418.0 L627.5,418.4 L628.1,418.7 L628.7,419.0 L629.4,419.3 L630.0,419.7 L630.7,420.0 L631.3,420.3 L632.0,420.6 L632.6,420.9 L633.3,421.1 L633.9,421.4 L634.5,421.7 L635.2,422.0 L635.8,422.2 L636.5,422.5 L637.1,422.8 L637.8,423.0 L638.4,423.3 L639.0,423.5 L639.7,423.8 L640.3,424.0 L641.0,424.3 L641.6,424.5 L642.3,424.7 L642.9,425.0 L643.5,425.2 L644.2,425.4 L644.8,425.6 L645.5,425.8 L646.1,426.1 L646.8,426.3 L647.4,426.5 L648.0,426.7 L648.7,426.9 L649.3,427.1 L650.0,427.3 L650.6,427.5 L651.3,427.6 L651.9,427.8 L652.6,428.0 L653.2,428.2 L653.8,428.4 L654.5,428.5 L655.1,428.7 L655.8,428.9 L656.4,429.1 L657.1,429.2 L657.7,429.4 L658.3,429.5 L659.0,429.7 L659.6,429.9 L660.3,430.0 L660.9,430.2 L661.6,430.3 L662.2,430.5 L662.8,430.6 L663.5,430.8 L664.1,430.9 L664.8,431.0 L665.4,431.2 L666.1,431.3 L666.7,431.5 L667.4,431.6 L668.0,431.7 L668.6,431.8 L669.3,432.0 L669.9,432.1 L670.6,432.2 L671.2,432.3 L671.9,432.5 L672.5,432.6 L673.1,432.7 L673.8,432.8 L674.4,432.9 L675.1,433.1 L675.7,433.2 L676.4,433.3 L677.0,433.4 L677.6,433.5 L678.3,433.6 L678.9,433.7 L679.6,433.8 L680.2,433.9 L680.9,434.0 L681.5,434.1 L682.2,434.2 L682.8,434.3 L683.4,434.4 L684.1,434.5 L684.7,434.6 L685.4,434.7 L686.0,434.8 L686.7,434.9 L687.3,435.0 L687.9,435.1 L688.6,435.2 L689.2,435.2 L689.9,435.3 L690.5,435.4 L691.2,435.5 L691.8,435.6 L692.4,435.7 L693.1,435.7 L693.7,435.8 L694.4,435.9 L695.0,436.0 L695.7,436.1 L696.3,436.1 L697.0,436.2 L697.6,436.3 L698.2,436.4 L698.9,436.4 L699.5,436.5 L700.2,436.6 L700.8,436.6 L701.5,436.7 L702.1,436.8 L702.7,436.9 L703.4,436.9 L704.0,437.0 L704.7,437.1 L705.3,437.1 L706.0,437.2 L706.6,437.3 L707.2,437.3 L707.9,437.4 L708.5,437.4 L709.2,437.5 L709.8,437.6 L710.5,437.6 L711.1,437.7 L711.8,437.7 L712.4,437.8 L713.0,437.9 L713.7,437.9 L714.3,438.0 L715.0,438.0 L715.6,438.1 L716.3,438.1 L716.9,438.2 L717.5,438.2 L718.2,438.3 L718.8,438.4 L719.5,438.4 L720.1,438.5 L720.8,438.5 L721.4,438.6 L722.0,438.6 L722.7,438.7 L723.3,438.7 L724.0,438.8 L724.6,438.8 L725.3,438.8 L725.9,438.9 L726.6,438.9 L727.2,439.0 L727.8,439.0 L728.5,439.1 L729.1,439.1 L729.8,439.2 L730.4,439.2 L731.1,439.3 L731.7,439.3 L732.3,439.3 L733.0,439.4 L733.6,439.4 L734.3,439.5 L734.9,439.5 L735.6,439.6 L736.2,439.6 L736.8,439.6 L737.5,439.7 L738.1,439.7 L738.8,439.7 L739.4,439.8 L740.1,439.8 L740.7,439.9 L741.4,439.9 L742.0,439.9 L742.6,440.0 L743.3,440.0 L743.9,440.0 L744.6,440.1 L745.2,440.1 L745.9,440.2 L746.5,440.2 L747.1,440.2 L747.8,440.3 L748.4,440.3 L749.1,440.3 L749.7,440.4 L750.4,440.4 L751.0,440.4 L751.6,440.5 L752.3,440.5 L752.9,440.5 L753.6,440.6 L754.2,440.6 L754.9,440.6 L755.5,440.6 L756.1,440.7 L756.8,440.7 L757.4,440.7 L758.1,440.8" fill="none" stroke="#d8504c" stroke-width="1.3"/>
<path d="M437.0,428.9 L437.6,428.7 L438.3,428.4 L438.9,428.1 L439.6,427.8 L440.2,427.5 L440.8,427.2 L441.5,426.9 L442.1,426.7 L442.7,426.4 L443.4,426.1 L444.0,425.8 L444.7,425.5 L445.3,425.3 L445.9,425.0 L446.6,424.7 L447.2,424.5 L447.9,424.2 L448.5,424.0 L449.1,423.7 L449.8,423.4 L450.4,423.2 L451.1,422.9 L451.7,422.7 L452.3,422.4 L453.0,422.2 L453.6,421.9 L454.3,421.7 L454.9,421.4 L455.5,421.2 L456.2,421.0 L456.8,420.7 L457.4,420.5 L458.1,420.2 L458.7,420.0 L459.4,419.8 L460.0,419.6 L460.6,419.3 L461.3,419.1 L461.9,418.9 L462.6,418.7 L463.2,418.4 L463.8,418.2 L464.5,418.0 L465.1,417.8 L465.8,417.5 L466.4,417.3 L467.0,417.0 L467.7,416.8 L468.3,416.5 L468.9,416.2 L469.6,416.0 L470.2,415.7 L470.9,415.5 L471.5,415.3 L472.1,415.0 L472.8,414.8 L473.4,414.7 L474.1,414.5 L474.7,414.4 L475.3,414.2 L476.0,414.2 L476.6,414.1 L477.3,414.1 L477.9,414.2 L478.5,414.5 L479.2,415.0 L479.8,415.6 L480.4,416.2 L481.1,417.0 L481.7,417.8 L482.4,418.7 L483.0,420.0 L483.6,421.6 L484.3,423.4 L484.9,425.3 L485.6,427.3 L486.2,429.2 L486.8,430.9 L487.5,432.6 L488.1,434.5 L488.8,436.4 L489.4,438.3 L490.0,440.2 L490.7,441.7 L491.3,442.9 L492.0,443.7 L492.6,443.9 L493.2,443.9 L493.9,443.9 L494.5,443.9 L495.1,443.9 L495.8,443.9 L496.4,443.9 L497.1,443.8 L497.7,443.4 L498.3,442.7 L499.0,441.7 L499.6,440.6 L500.3,439.3 L500.9,437.9 L501.5,436.5 L502.2,435.0 L502.8,433.5 L503.5,432.1 L504.1,430.7 L504.7,429.5 L505.4,428.3 L506.0,427.2 L506.6,426.0 L507.3,424.9 L507.9,423.7 L508.6,422.6 L509.2,421.5 L509.8,420.3 L510.5,419.2 L511.1,418.0 L511.8,416.8 L512.4,415.7 L513.0,414.5 L513.7,413.4 L514.3,412.2 L515.0,411.0 L515.6,409.8 L516.2,408.7 L516.9,407.5 L517.5,406.3 L518.2,405.1 L518.8,403.9 L519.4,402.7 L520.1,401.4 L520.7,400.2 L521.3,399.0 L522.0,397.7 L522.6,396.5 L523.3,395.2 L523.9,394.0 L524.5,392.7 L525.2,391.4 L525.8,390.1 L526.5,388.8 L527.1,387.5 L527.7,386.2 L528.4,384.9 L529.0,383.6 L529.7,382.3 L530.3,381.0 L530.9,379.7 L531.6,378.4 L532.2,377.1 L532.8,375.7 L533.5,374.4 L534.1,373.1 L534.8,371.7 L535.4,370.4 L536.0,369.1 L536.7,367.7 L537.3,366.4 L538.0,364.9 L538.6,363.4 L539.2,361.9 L539.9,360.4 L540.5,358.8 L541.2,357.3 L541.8,355.7 L542.4,354.1 L543.1,352.5 L543.7,350.9 L544.4,349.3 L545.0,347.8 L545.6,346.3 L546.3,344.8 L546.9,343.3 L547.5,341.9 L548.2,340.6 L548.8,339.3 L549.5,338.1 L550.1,336.9 L550.7,335.8 L551.4,334.8 L552.0,333.9 L552.7,333.1 L553.3,332.4 L553.9,331.7 L554.6,330.9 L555.2,330.2 L555.9,329.5 L556.5,328.9 L557.1,328.3 L557.8,327.7 L558.4,327.3 L559.0,326.9 L559.7,326.6 L560.3,326.5 L561.0,326.4 L561.6,326.5 L562.2,326.7 L562.9,326.9 L563.5,327.3 L564.2,327.7 L564.8,328.2 L565.4,328.7 L566.1,329.2 L566.7,329.8 L567.4,330.5 L568.0,331.1 L568.6,331.8 L569.3,332.4 L569.9,333.1 L570.6,333.7 L571.2,334.4 L571.8,335.1 L572.5,335.8 L573.1,336.6 L573.7,337.4 L574.4,338.3 L575.0,339.2 L575.7,340.1 L576.3,341.1 L576.9,342.0 L577.6,343.0 L578.2,344.0 L578.9,345.0 L579.5,346.0 L580.1,347.0 L580.8,348.0 L581.4,348.9 L582.1,349.9 L582.7,350.8 L583.3,351.8 L584.0,352.8 L584.6,353.8 L585.2,354.8 L585.9,355.9 L586.5,356.9 L587.2,357.9 L587.8,358.9 L588.4,360.0 L589.1,361.0 L589.7,362.0 L590.4,363.1 L591.0,364.1 L591.6,365.1 L592.3,366.1 L592.9,367.2 L593.6,368.2 L594.2,369.2 L594.8,370.2 L595.5,371.3 L596.1,372.3 L596.7,373.3 L597.4,374.4 L598.0,375.4 L598.7,376.4 L599.3,377.4 L599.9,378.4 L600.6,379.4 L601.2,380.4 L601.9,381.4 L602.5,382.4 L603.1,383.3 L603.8,384.3 L604.4,385.2 L605.1,386.2 L605.7,387.2 L606.3,388.1 L607.0,389.1 L607.6,390.0 L608.3,390.9 L608.9,391.8 L609.5,392.7 L610.2,393.6 L610.8,394.5 L611.4,395.3 L612.1,396.1 L612.7,396.9 L613.4,397.7 L614.0,398.5 L614.6,399.2 L615.3,400.0 L615.9,400.8 L616.6,401.6 L617.2,402.3 L617.8,403.1 L618.5,403.9 L619.1,404.6 L619.8,405.3 L620.4,405.9 L621.0,406.5 L621.7,407.1 L622.3,407.6 L622.9,408.0 L623.6,408.4 L624.2,408.6 L624.9,408.9 L625.5,409.0 L626.1,409.2 L626.8,409.3 L627.4,409.5 L628.1,409.6 L628.7,409.7 L629.3,409.8 L630.0,409.9 L630.6,410.0 L631.3,410.1 L631.9,410.2 L632.5,410.3 L633.2,410.4 L633.8,410.5 L634.5,410.6 L635.1,410.8 L635.7,411.0 L636.4,411.1 L637.0,411.3 L637.6,411.5 L638.3,411.7 L638.9,411.9 L639.6,412.2 L640.2,412.5 L640.8,412.8 L641.5,413.1 L642.1,413.6 L642.8,414.3 L643.4,415.1 L644.0,416.1 L644.7,417.2 L645.3,418.2 L646.0,419.2 L646.6,420.2 L647.2,421.0 L647.9,421.6 L648.5,422.1 L649.1,422.5 L649.8,422.9 L650.4,423.3 L651.1,423.7 L651.7,424.1 L652.3,424.4 L653.0,424.7 L653.6,425.0 L654.3,425.3 L654.9,425.5 L655.5,425.7 L656.2,425.9 L656.8,426.1 L657.5,426.3 L658.1,426.5 L658.7,426.7 L659.4,426.8 L660.0,427.0 L660.7,427.1 L661.3,427.3 L661.9,427.4 L662.6,427.6 L663.2,427.7 L663.8,427.8 L664.5,427.9 L665.1,428.1 L665.8,428.2 L666.4,428.3 L667.0,428.4 L667.7,428.5 L668.3,428.6 L669.0,428.7 L669.6,428.8 L670.2,428.9 L670.9,429.0 L671.5,429.1 L672.2,429.2 L672.8,429.3 L673.4,429.4 L674.1,429.5 L674.7,429.6 L675.3,429.7 L676.0,429.8 L676.6,429.9 L677.3,430.1 L677.9,430.2 L678.5,430.3 L679.2,430.4 L679.8,430.5 L680.5,430.6 L681.1,430.7 L681.7,430.8 L682.4,430.9 L683.0,431.0 L683.7,431.1 L684.3,431.2 L684.9,431.2 L685.6,431.3 L686.2,431.4 L686.9,431.5 L687.5,431.6 L688.1,431.7 L688.8,431.8 L689.4,431.9 L690.0,432.0 L690.7,432.1 L691.3,432.2 L692.0,432.2 L692.6,432.3 L693.2,432.4 L693.9,432.5 L694.5,432.6 L695.2,432.7 L695.8,432.8 L696.4,432.9 L697.1,433.0 L697.7,433.1 L698.4,433.2 L699.0,433.2 L699.6,433.3 L700.3,433.4 L700.9,433.5 L701.5,433.6 L702.2,433.7 L702.8,433.8 L703.5,433.9 L704.1,434.0 L704.7,434.1 L705.4,434.2 L706.0,434.3 L706.7,434.4 L707.3,434.5 L707.9,434.6 L708.6,434.7 L709.2,434.8 L709.9,434.9 L710.5,435.0 L711.1,435.1 L711.8,435.2 L712.4,435.3 L713.0,435.4 L713.7,435.5 L714.3,435.6 L715.0,435.7 L715.6,435.8 L716.2,435.9 L716.9,436.0 L717.5,436.1 L718.2,436.2 L718.8,436.3 L719.4,436.4 L720.1,436.5 L720.7,436.5 L721.4,436.6 L722.0,436.7 L722.6,436.8 L723.3,436.9 L723.9,437.0 L724.6,437.1 L725.2,437.2 L725.8,437.3 L726.5,437.4 L727.1,437.5 L727.7,437.6 L728.4,437.7 L729.0,437.8 L729.7,437.9 L730.3,438.0 L730.9,438.1 L731.6,438.2 L732.2,438.3 L732.9,438.4 L733.5,438.5 L734.1,438.6 L734.8,438.7 L735.4,438.8 L736.1,438.9 L736.7,439.0 L737.3,439.1 L738.0,439.2 L738.6,439.3 L739.2,439.4 L739.9,439.5 L740.5,439.6 L741.2,439.7 L741.8,439.8 L742.4,439.9 L743.1,440.0 L743.7,440.1 L744.4,440.2 L745.0,440.3 L745.6,440.4 L746.3,440.5 L746.9,440.6 L747.6,440.7 L748.2,440.7 L748.8,440.8 L749.5,440.9 L750.1,441.0 L750.8,441.1 L751.4,441.2 L752.0,441.3 L752.7,441.4 L753.3,441.5 L753.9,441.6 L754.6,441.7 L755.2,441.8 L755.9,441.9" fill="none" stroke="#34344e" stroke-width="1.7"/>
<g fill="none" stroke="#6c78b0" stroke-width="1.4"><circle cx="437.0" cy="426.6" r="2.5"/><circle cx="442.3" cy="424.4" r="2.5"/><circle cx="447.5" cy="422.6" r="2.5"/><circle cx="452.8" cy="421.1" r="2.5"/><circle cx="458.0" cy="419.7" r="2.5"/><circle cx="463.3" cy="418.6" r="2.5"/><circle cx="468.5" cy="417.6" r="2.5"/><circle cx="473.8" cy="416.9" r="2.5"/><circle cx="479.0" cy="417.4" r="2.5"/><circle cx="484.3" cy="424.6" r="2.5"/><circle cx="489.6" cy="438.2" r="2.5"/><circle cx="494.8" cy="442.4" r="2.5"/><circle cx="500.1" cy="438.9" r="2.5"/><circle cx="505.3" cy="428.7" r="2.5"/><circle cx="510.6" cy="416.9" r="2.5"/><circle cx="515.8" cy="406.0" r="2.5"/><circle cx="521.1" cy="394.5" r="2.5"/><circle cx="526.4" cy="381.2" r="2.5"/><circle cx="531.6" cy="367.8" r="2.5"/><circle cx="536.9" cy="356.4" r="2.5"/><circle cx="542.1" cy="346.3" r="2.5"/><circle cx="547.4" cy="337.0" r="2.5"/><circle cx="552.6" cy="330.3" r="2.5"/><circle cx="557.9" cy="329.1" r="2.5"/><circle cx="563.2" cy="330.1" r="2.5"/><circle cx="568.4" cy="334.9" r="2.5"/><circle cx="573.7" cy="340.8" r="2.5"/><circle cx="578.9" cy="348.7" r="2.5"/><circle cx="584.2" cy="356.3" r="2.5"/><circle cx="589.4" cy="363.7" r="2.5"/><circle cx="594.7" cy="371.4" r="2.5"/><circle cx="599.9" cy="379.6" r="2.5"/><circle cx="605.2" cy="387.1" r="2.5"/><circle cx="610.5" cy="394.1" r="2.5"/><circle cx="615.7" cy="400.4" r="2.5"/><circle cx="621.0" cy="406.4" r="2.5"/><circle cx="626.2" cy="408.8" r="2.5"/><circle cx="631.5" cy="409.2" r="2.5"/><circle cx="636.7" cy="410.0" r="2.5"/><circle cx="642.0" cy="412.3" r="2.5"/><circle cx="647.3" cy="419.6" r="2.5"/><circle cx="652.5" cy="423.3" r="2.5"/><circle cx="657.8" cy="425.4" r="2.5"/><circle cx="663.0" cy="426.8" r="2.5"/><circle cx="668.3" cy="427.9" r="2.5"/><circle cx="673.5" cy="428.8" r="2.5"/><circle cx="678.8" cy="429.7" r="2.5"/><circle cx="684.0" cy="430.6" r="2.5"/><circle cx="689.3" cy="431.5" r="2.5"/><circle cx="694.6" cy="432.3" r="2.5"/><circle cx="699.8" cy="433.1" r="2.5"/><circle cx="705.1" cy="434.0" r="2.5"/><circle cx="710.3" cy="434.9" r="2.5"/><circle cx="715.6" cy="435.8" r="2.5"/><circle cx="720.8" cy="436.6" r="2.5"/><circle cx="726.1" cy="437.3" r="2.5"/><circle cx="731.4" cy="438.1" r="2.5"/><circle cx="736.6" cy="438.8" r="2.5"/><circle cx="741.9" cy="439.5" r="2.5"/><circle cx="747.1" cy="440.2" r="2.5"/><circle cx="752.4" cy="440.8" r="2.5"/><circle cx="757.6" cy="441.2" r="2.5"/></g>
<line x1="377.5" y1="445.9" x2="758.5" y2="445.9" stroke="#8c8c8c" stroke-width="2.2"/>
<text x="745.5" y="332.7" font-size="17" fill="#5a5a5a" text-anchor="end" font-family="'Liberation Sans', Arial, sans-serif" textLength="68.5" lengthAdjust="spacingAndGlyphs"><tspan font-style="italic">W</tspan> = 4 μm</text>
<line x1="370.5" y1="584.7" x2="377.5" y2="584.7" stroke="#9a9a9a" stroke-width="1.2"/>
<text x="365" y="590.3" font-size="16" fill="#5a5a5a" text-anchor="end" font-weight="normal" font-style="normal" font-family="'Liberation Sans', Arial, sans-serif" textLength="22" lengthAdjust="spacingAndGlyphs" >0.0</text>
<line x1="370.5" y1="526.5" x2="377.5" y2="526.5" stroke="#9a9a9a" stroke-width="1.2"/>
<text x="365" y="532.1" font-size="16" fill="#5a5a5a" text-anchor="end" font-weight="normal" font-style="normal" font-family="'Liberation Sans', Arial, sans-serif" textLength="22" lengthAdjust="spacingAndGlyphs" >0.5</text>
<line x1="370.5" y1="468.4" x2="377.5" y2="468.4" stroke="#9a9a9a" stroke-width="1.2"/>
<text x="365" y="474" font-size="16" fill="#5a5a5a" text-anchor="end" font-weight="normal" font-style="normal" font-family="'Liberation Sans', Arial, sans-serif" textLength="22" lengthAdjust="spacingAndGlyphs" >1.0</text>
<text transform="translate(328.5,514.5) rotate(-90)" font-size="15" fill="#555" text-anchor="middle" font-family="'Liberation Sans', Arial, sans-serif"><tspan font-style="italic">E</tspan>(<tspan font-style="italic">ν</tspan>)</text>
<line x1="504.8" y1="584.7" x2="504.8" y2="579.7" stroke="#9a9a9a" stroke-width="1.1"/>
<line x1="631.4" y1="584.7" x2="631.4" y2="579.7" stroke="#9a9a9a" stroke-width="1.1"/>
<path d="M437.0,582.4 L437.6,582.4 L438.3,582.3 L438.9,582.3 L439.6,582.2 L440.2,582.2 L440.9,582.1 L441.5,582.1 L442.1,582.0 L442.8,581.9 L443.4,581.9 L444.1,581.8 L444.7,581.7 L445.4,581.7 L446.0,581.6 L446.6,581.5 L447.3,581.5 L447.9,581.4 L448.6,581.3 L449.2,581.2 L449.9,581.1 L450.5,581.0 L451.2,580.9 L451.8,580.8 L452.4,580.7 L453.1,580.6 L453.7,580.5 L454.4,580.4 L455.0,580.3 L455.7,580.2 L456.3,580.1 L456.9,579.9 L457.6,579.8 L458.2,579.6 L458.9,579.5 L459.5,579.3 L460.2,579.2 L460.8,579.0 L461.4,578.8 L462.1,578.6 L462.7,578.4 L463.4,578.2 L464.0,578.0 L464.7,577.8 L465.3,577.5 L466.0,577.3 L466.6,577.0 L467.2,576.7 L467.9,576.4 L468.5,576.1 L469.2,575.8 L469.8,575.4 L470.5,575.1 L471.1,574.7 L471.7,574.2 L472.4,573.8 L473.0,573.3 L473.7,572.8 L474.3,572.3 L475.0,571.7 L475.6,571.1 L476.2,570.5 L476.9,569.8 L477.5,569.1 L478.2,568.3 L478.8,567.5 L479.5,566.6 L480.1,565.6 L480.8,564.5 L481.4,563.4 L482.0,562.2 L482.7,560.9 L483.3,559.5 L484.0,557.9 L484.6,556.3 L485.3,554.5 L485.9,552.6 L486.5,550.5 L487.2,548.2 L487.8,545.7 L488.5,543.1 L489.1,540.2 L489.8,537.1 L490.4,533.8 L491.0,530.2 L491.7,526.4 L492.3,522.4 L493.0,518.1 L493.6,513.8 L494.3,509.3 L494.9,504.7 L495.6,500.3 L496.2,496.0 L496.8,492.0 L497.5,488.5 L498.1,485.6 L498.8,483.4 L499.4,482.1 L500.1,481.7 L500.7,482.2 L501.3,483.6 L502.0,485.9 L502.6,488.9 L503.3,492.5 L503.9,496.6 L504.6,500.9 L505.2,505.4 L505.8,509.9 L506.5,514.4 L507.1,518.7 L507.8,522.9 L508.4,526.9 L509.1,530.7 L509.7,534.2 L510.4,537.5 L511.0,540.6 L511.6,543.5 L512.3,546.1 L512.9,548.5 L513.6,550.8 L514.2,552.8 L514.9,554.8 L515.5,556.5 L516.1,558.2 L516.8,559.7 L517.4,561.1 L518.1,562.4 L518.7,563.6 L519.4,564.7 L520.0,565.7 L520.6,566.7 L521.3,567.6 L521.9,568.4 L522.6,569.2 L523.2,569.9 L523.9,570.6 L524.5,571.2 L525.1,571.8 L525.8,572.4 L526.4,572.9 L527.1,573.4 L527.7,573.9 L528.4,574.3 L529.0,574.7 L529.7,575.1 L530.3,575.5 L530.9,575.8 L531.6,576.1 L532.2,576.5 L532.9,576.8 L533.5,577.0 L534.2,577.3 L534.8,577.6 L535.4,577.8 L536.1,578.0 L536.7,578.2 L537.4,578.4 L538.0,578.6 L538.7,578.8 L539.3,579.0 L539.9,579.2 L540.6,579.3 L541.2,579.5 L541.9,579.7 L542.5,579.8 L543.2,579.9 L543.8,580.1 L544.5,580.2 L545.1,580.3 L545.7,580.4 L546.4,580.6 L547.0,580.7 L547.7,580.8 L548.3,580.9 L549.0,581.0 L549.6,581.1 L550.2,581.1 L550.9,581.2 L551.5,581.3 L552.2,581.4 L552.8,581.5 L553.5,581.5 L554.1,581.6 L554.7,581.7 L555.4,581.8 L556.0,581.8 L556.7,581.9 L557.3,581.9 L558.0,582.0 L558.6,582.1 L559.3,582.1 L559.9,582.2 L560.5,582.2 L561.2,582.3 L561.8,582.3 L562.5,582.4 L563.1,582.4 L563.8,582.5 L564.4,582.5 L565.0,582.5 L565.7,582.6 L566.3,582.6 L567.0,582.7 L567.6,582.7 L568.3,582.7 L568.9,582.8 L569.5,582.8 L570.2,582.8 L570.8,582.9 L571.5,582.9 L572.1,582.9 L572.8,583.0 L573.4,583.0 L574.1,583.0 L574.7,583.1 L575.3,583.1 L576.0,583.1 L576.6,583.1 L577.3,583.2 L577.9,583.2 L578.6,583.2 L579.2,583.2 L579.8,583.3 L580.5,583.3 L581.1,583.3 L581.8,583.3 L582.4,583.3 L583.1,583.4 L583.7,583.4 L584.3,583.4 L585.0,583.4 L585.6,583.4 L586.3,583.5 L586.9,583.5 L587.6,583.5 L588.2,583.5 L588.9,583.5 L589.5,583.6 L590.1,583.6 L590.8,583.6 L591.4,583.6 L592.1,583.6 L592.7,583.6 L593.4,583.6 L594.0,583.7 L594.6,583.7 L595.3,583.7 L595.9,583.7 L596.6,583.7 L597.2,583.7 L597.9,583.7 L598.5,583.8 L599.1,583.8 L599.8,583.8 L600.4,583.8 L601.1,583.8 L601.7,583.8 L602.4,583.8 L603.0,583.8 L603.7,583.8 L604.3,583.9 L604.9,583.9 L605.6,583.9 L606.2,583.9 L606.9,583.9 L607.5,583.9 L608.2,583.9 L608.8,583.9 L609.4,583.9 L610.1,583.9 L610.7,583.9 L611.4,584.0 L612.0,584.0 L612.7,584.0 L613.3,584.0 L613.9,584.0 L614.6,584.0 L615.2,584.0 L615.9,584.0 L616.5,584.0 L617.2,584.0 L617.8,584.0 L618.5,584.0 L619.1,584.0 L619.7,584.1 L620.4,584.1 L621.0,584.1 L621.7,584.1 L622.3,584.1 L623.0,584.1 L623.6,584.1 L624.2,584.1 L624.9,584.1 L625.5,584.1 L626.2,584.1 L626.8,584.1 L627.5,584.1 L628.1,584.1 L628.7,584.1 L629.4,584.1 L630.0,584.2 L630.7,584.2 L631.3,584.2 L632.0,584.2 L632.6,584.2 L633.3,584.2 L633.9,584.2 L634.5,584.2 L635.2,584.2 L635.8,584.2 L636.5,584.2 L637.1,584.2 L637.8,584.2 L638.4,584.2 L639.0,584.2 L639.7,584.2 L640.3,584.2 L641.0,584.2 L641.6,584.2 L642.3,584.2 L642.9,584.2 L643.5,584.3 L644.2,584.3 L644.8,584.3 L645.5,584.3 L646.1,584.3 L646.8,584.3 L647.4,584.3 L648.0,584.3 L648.7,584.3 L649.3,584.3 L650.0,584.3 L650.6,584.3 L651.3,584.3 L651.9,584.3 L652.6,584.3 L653.2,584.3 L653.8,584.3 L654.5,584.3 L655.1,584.3 L655.8,584.3 L656.4,584.3 L657.1,584.3 L657.7,584.3 L658.3,584.3 L659.0,584.3 L659.6,584.3 L660.3,584.3 L660.9,584.3 L661.6,584.3 L662.2,584.3 L662.8,584.4 L663.5,584.4 L664.1,584.4 L664.8,584.4 L665.4,584.4 L666.1,584.4 L666.7,584.4 L667.4,584.4 L668.0,584.4 L668.6,584.4 L669.3,584.4 L669.9,584.4 L670.6,584.4 L671.2,584.4 L671.9,584.4 L672.5,584.4 L673.1,584.4 L673.8,584.4 L674.4,584.4 L675.1,584.4 L675.7,584.4 L676.4,584.4 L677.0,584.4 L677.6,584.4 L678.3,584.4 L678.9,584.4 L679.6,584.4 L680.2,584.4 L680.9,584.4 L681.5,584.4 L682.2,584.4 L682.8,584.4 L683.4,584.4 L684.1,584.4 L684.7,584.4 L685.4,584.4 L686.0,584.4 L686.7,584.4 L687.3,584.4 L687.9,584.4 L688.6,584.4 L689.2,584.4 L689.9,584.4 L690.5,584.4 L691.2,584.4 L691.8,584.4 L692.4,584.4 L693.1,584.5 L693.7,584.5 L694.4,584.5 L695.0,584.5 L695.7,584.5 L696.3,584.5 L697.0,584.5 L697.6,584.5 L698.2,584.5 L698.9,584.5 L699.5,584.5 L700.2,584.5 L700.8,584.5 L701.5,584.5 L702.1,584.5 L702.7,584.5 L703.4,584.5 L704.0,584.5 L704.7,584.5 L705.3,584.5 L706.0,584.5 L706.6,584.5 L707.2,584.5 L707.9,584.5 L708.5,584.5 L709.2,584.5 L709.8,584.5 L710.5,584.5 L711.1,584.5 L711.8,584.5 L712.4,584.5 L713.0,584.5 L713.7,584.5 L714.3,584.5 L715.0,584.5 L715.6,584.5 L716.3,584.5 L716.9,584.5 L717.5,584.5 L718.2,584.5 L718.8,584.5 L719.5,584.5 L720.1,584.5 L720.8,584.5 L721.4,584.5 L722.0,584.5 L722.7,584.5 L723.3,584.5 L724.0,584.5 L724.6,584.5 L725.3,584.5 L725.9,584.5 L726.6,584.5 L727.2,584.5 L727.8,584.5 L728.5,584.5 L729.1,584.5 L729.8,584.5 L730.4,584.5 L731.1,584.5 L731.7,584.5 L732.3,584.5 L733.0,584.5 L733.6,584.5 L734.3,584.5 L734.9,584.5 L735.6,584.5 L736.2,584.5 L736.8,584.5 L737.5,584.5 L738.1,584.5 L738.8,584.5 L739.4,584.5 L740.1,584.5 L740.7,584.5 L741.4,584.5 L742.0,584.5 L742.6,584.5 L743.3,584.5 L743.9,584.5 L744.6,584.5 L745.2,584.5 L745.9,584.5 L746.5,584.5 L747.1,584.5 L747.8,584.5 L748.4,584.5 L749.1,584.6 L749.7,584.6 L750.4,584.6 L751.0,584.6 L751.6,584.6 L752.3,584.6 L752.9,584.6 L753.6,584.6 L754.2,584.6 L754.9,584.6 L755.5,584.6 L756.1,584.6 L756.8,584.6 L757.4,584.6 L758.1,584.6" fill="none" stroke="#6cc070" stroke-width="1.2"/>
<path d="M599.8,584.7 L600.9,584.7 L602.1,584.7 L603.3,584.7 L604.5,584.7 L605.7,584.7 L606.8,584.7 L608.0,584.7 L609.2,584.7 L610.4,584.6 L611.6,584.6 L612.7,584.5 L613.9,584.5 L615.1,584.3 L616.3,584.2 L617.5,584.0 L618.6,583.8 L619.8,583.5 L621.0,583.1 L622.2,582.7 L623.4,582.2 L624.6,581.7 L625.7,581.1 L626.9,580.5 L628.1,579.9 L629.3,579.3 L630.5,578.8 L631.6,578.4 L632.8,578.0 L634.0,577.8 L635.2,577.7 L636.4,577.8 L637.5,578.0 L638.7,578.3 L639.9,578.8 L641.1,579.3 L642.3,579.9 L643.4,580.5 L644.6,581.1 L645.8,581.6 L647.0,582.2 L648.2,582.7 L649.3,583.1 L650.5,583.5 L651.7,583.8 L652.9,584.0 L654.1,584.2 L655.2,584.3 L656.4,584.4 L657.6,584.5 L658.8,584.6 L660.0,584.6 L661.2,584.7 L662.3,584.7 L663.5,584.7 L664.7,584.7 L665.9,584.7 L667.1,584.7 L668.2,584.7 L669.4,584.7" fill="none" stroke="#d890b8" stroke-width="1.2"/>
<path d="M437.0,560.4 L437.6,560.0 L438.3,559.7 L438.9,559.4 L439.6,559.0 L440.2,558.6 L440.9,558.3 L441.5,557.9 L442.1,557.5 L442.8,557.1 L443.4,556.7 L444.1,556.3 L444.7,555.9 L445.4,555.4 L446.0,555.0 L446.6,554.6 L447.3,554.1 L447.9,553.7 L448.6,553.2 L449.2,552.7 L449.9,552.2 L450.5,551.7 L451.2,551.2 L451.8,550.7 L452.4,550.2 L453.1,549.6 L453.7,549.1 L454.4,548.5 L455.0,547.9 L455.7,547.4 L456.3,546.8 L456.9,546.1 L457.6,545.5 L458.2,544.9 L458.9,544.2 L459.5,543.6 L460.2,542.9 L460.8,542.2 L461.4,541.5 L462.1,540.8 L462.7,540.1 L463.4,539.3 L464.0,538.6 L464.7,537.8 L465.3,537.0 L466.0,536.2 L466.6,535.4 L467.2,534.6 L467.9,533.7 L468.5,532.9 L469.2,532.0 L469.8,531.1 L470.5,530.2 L471.1,529.2 L471.7,528.3 L472.4,527.3 L473.0,526.4 L473.7,525.4 L474.3,524.3 L475.0,523.3 L475.6,522.3 L476.2,521.2 L476.9,520.1 L477.5,519.0 L478.2,517.9 L478.8,516.8 L479.5,515.7 L480.1,514.5 L480.8,513.3 L481.4,512.2 L482.0,511.0 L482.7,509.7 L483.3,508.5 L484.0,507.3 L484.6,506.1 L485.3,504.8 L485.9,503.5 L486.5,502.3 L487.2,501.0 L487.8,499.7 L488.5,498.5 L489.1,497.2 L489.8,495.9 L490.4,494.6 L491.0,493.3 L491.7,492.1 L492.3,490.8 L493.0,489.6 L493.6,488.3 L494.3,487.1 L494.9,485.9 L495.6,484.7 L496.2,483.6 L496.8,482.4 L497.5,481.3 L498.1,480.2 L498.8,479.2 L499.4,478.1 L500.1,477.2 L500.7,476.2 L501.3,475.3 L502.0,474.5 L502.6,473.7 L503.3,472.9 L503.9,472.2 L504.6,471.6 L505.2,471.0 L505.8,470.4 L506.5,469.9 L507.1,469.5 L507.8,469.2 L508.4,468.9 L509.1,468.7 L509.7,468.5 L510.4,468.4 L511.0,468.4 L511.6,468.4 L512.3,468.6 L512.9,468.7 L513.6,469.0 L514.2,469.3 L514.9,469.6 L515.5,470.1 L516.1,470.6 L516.8,471.1 L517.4,471.7 L518.1,472.4 L518.7,473.1 L519.4,473.9 L520.0,474.7 L520.6,475.6 L521.3,476.5 L521.9,477.4 L522.6,478.4 L523.2,479.5 L523.9,480.5 L524.5,481.6 L525.1,482.7 L525.8,483.9 L526.4,485.1 L527.1,486.2 L527.7,487.5 L528.4,488.7 L529.0,489.9 L529.7,491.2 L530.3,492.4 L530.9,493.7 L531.6,495.0 L532.2,496.3 L532.9,497.5 L533.5,498.8 L534.2,500.1 L534.8,501.4 L535.4,502.6 L536.1,503.9 L536.7,505.2 L537.4,506.4 L538.0,507.6 L538.7,508.9 L539.3,510.1 L539.9,511.3 L540.6,512.5 L541.2,513.7 L541.9,514.8 L542.5,516.0 L543.2,517.1 L543.8,518.2 L544.5,519.3 L545.1,520.4 L545.7,521.5 L546.4,522.6 L547.0,523.6 L547.7,524.6 L548.3,525.6 L549.0,526.6 L549.6,527.6 L550.2,528.6 L550.9,529.5 L551.5,530.4 L552.2,531.3 L552.8,532.2 L553.5,533.1 L554.1,534.0 L554.7,534.8 L555.4,535.6 L556.0,536.5 L556.7,537.3 L557.3,538.0 L558.0,538.8 L558.6,539.6 L559.3,540.3 L559.9,541.0 L560.5,541.7 L561.2,542.4 L561.8,543.1 L562.5,543.8 L563.1,544.4 L563.8,545.1 L564.4,545.7 L565.0,546.3 L565.7,546.9 L566.3,547.5 L567.0,548.1 L567.6,548.7 L568.3,549.2 L568.9,549.8 L569.5,550.3 L570.2,550.8 L570.8,551.4 L571.5,551.9 L572.1,552.4 L572.8,552.8 L573.4,553.3 L574.1,553.8 L574.7,554.2 L575.3,554.7 L576.0,555.1 L576.6,555.6 L577.3,556.0 L577.9,556.4 L578.6,556.8 L579.2,557.2 L579.8,557.6 L580.5,558.0 L581.1,558.4 L581.8,558.7 L582.4,559.1 L583.1,559.5 L583.7,559.8 L584.3,560.1 L585.0,560.5 L585.6,560.8 L586.3,561.1 L586.9,561.5 L587.6,561.8 L588.2,562.1 L588.9,562.4 L589.5,562.7 L590.1,563.0 L590.8,563.2 L591.4,563.5 L592.1,563.8 L592.7,564.1 L593.4,564.3 L594.0,564.6 L594.6,564.8 L595.3,565.1 L595.9,565.3 L596.6,565.6 L597.2,565.8 L597.9,566.1 L598.5,566.3 L599.1,566.5 L599.8,566.7 L600.4,566.9 L601.1,567.2 L601.7,567.4 L602.4,567.6 L603.0,567.8 L603.7,568.0 L604.3,568.2 L604.9,568.4 L605.6,568.6 L606.2,568.8 L606.9,568.9 L607.5,569.1 L608.2,569.3 L608.8,569.5 L609.4,569.6 L610.1,569.8 L610.7,570.0 L611.4,570.1 L612.0,570.3 L612.7,570.5 L613.3,570.6 L613.9,570.8 L614.6,570.9 L615.2,571.1 L615.9,571.2 L616.5,571.4 L617.2,571.5 L617.8,571.7 L618.5,571.8 L619.1,571.9 L619.7,572.1 L620.4,572.2 L621.0,572.3 L621.7,572.5 L622.3,572.6 L623.0,572.7 L623.6,572.8 L624.2,572.9 L624.9,573.1 L625.5,573.2 L626.2,573.3 L626.8,573.4 L627.5,573.5 L628.1,573.6 L628.7,573.7 L629.4,573.9 L630.0,574.0 L630.7,574.1 L631.3,574.2 L632.0,574.3 L632.6,574.4 L633.3,574.5 L633.9,574.6 L634.5,574.7 L635.2,574.8 L635.8,574.9 L636.5,574.9 L637.1,575.0 L637.8,575.1 L638.4,575.2 L639.0,575.3 L639.7,575.4 L640.3,575.5 L641.0,575.6 L641.6,575.6 L642.3,575.7 L642.9,575.8 L643.5,575.9 L644.2,576.0 L644.8,576.0 L645.5,576.1 L646.1,576.2 L646.8,576.3 L647.4,576.3 L648.0,576.4 L648.7,576.5 L649.3,576.6 L650.0,576.6 L650.6,576.7 L651.3,576.8 L651.9,576.8 L652.6,576.9 L653.2,577.0 L653.8,577.0 L654.5,577.1 L655.1,577.2 L655.8,577.2 L656.4,577.3 L657.1,577.3 L657.7,577.4 L658.3,577.5 L659.0,577.5 L659.6,577.6 L660.3,577.6 L660.9,577.7 L661.6,577.7 L662.2,577.8 L662.8,577.9 L663.5,577.9 L664.1,578.0 L664.8,578.0 L665.4,578.1 L666.1,578.1 L666.7,578.2 L667.4,578.2 L668.0,578.3 L668.6,578.3 L669.3,578.4 L669.9,578.4 L670.6,578.5 L671.2,578.5 L671.9,578.6 L672.5,578.6 L673.1,578.7 L673.8,578.7 L674.4,578.7 L675.1,578.8 L675.7,578.8 L676.4,578.9 L677.0,578.9 L677.6,579.0 L678.3,579.0 L678.9,579.0 L679.6,579.1 L680.2,579.1 L680.9,579.2 L681.5,579.2 L682.2,579.2 L682.8,579.3 L683.4,579.3 L684.1,579.4 L684.7,579.4 L685.4,579.4 L686.0,579.5 L686.7,579.5 L687.3,579.5 L687.9,579.6 L688.6,579.6 L689.2,579.6 L689.9,579.7 L690.5,579.7 L691.2,579.8 L691.8,579.8 L692.4,579.8 L693.1,579.9 L693.7,579.9 L694.4,579.9 L695.0,579.9 L695.7,580.0 L696.3,580.0 L697.0,580.0 L697.6,580.1 L698.2,580.1 L698.9,580.1 L699.5,580.2 L700.2,580.2 L700.8,580.2 L701.5,580.3 L702.1,580.3 L702.7,580.3 L703.4,580.3 L704.0,580.4 L704.7,580.4 L705.3,580.4 L706.0,580.4 L706.6,580.5 L707.2,580.5 L707.9,580.5 L708.5,580.6 L709.2,580.6 L709.8,580.6 L710.5,580.6 L711.1,580.7 L711.8,580.7 L712.4,580.7 L713.0,580.7 L713.7,580.8 L714.3,580.8 L715.0,580.8 L715.6,580.8 L716.3,580.8 L716.9,580.9 L717.5,580.9 L718.2,580.9 L718.8,580.9 L719.5,581.0 L720.1,581.0 L720.8,581.0 L721.4,581.0 L722.0,581.1 L722.7,581.1 L723.3,581.1 L724.0,581.1 L724.6,581.1 L725.3,581.2 L725.9,581.2 L726.6,581.2 L727.2,581.2 L727.8,581.2 L728.5,581.3 L729.1,581.3 L729.8,581.3 L730.4,581.3 L731.1,581.3 L731.7,581.4 L732.3,581.4 L733.0,581.4 L733.6,581.4 L734.3,581.4 L734.9,581.4 L735.6,581.5 L736.2,581.5 L736.8,581.5 L737.5,581.5 L738.1,581.5 L738.8,581.6 L739.4,581.6 L740.1,581.6 L740.7,581.6 L741.4,581.6 L742.0,581.6 L742.6,581.7 L743.3,581.7 L743.9,581.7 L744.6,581.7 L745.2,581.7 L745.9,581.7 L746.5,581.8 L747.1,581.8 L747.8,581.8 L748.4,581.8 L749.1,581.8 L749.7,581.8 L750.4,581.8 L751.0,581.9 L751.6,581.9 L752.3,581.9 L752.9,581.9 L753.6,581.9 L754.2,581.9 L754.9,581.9 L755.5,582.0 L756.1,582.0 L756.8,582.0 L757.4,582.0 L758.1,582.0" fill="none" stroke="#d8504c" stroke-width="1.3"/>
<path d="M437.0,569.1 L437.6,568.6 L438.3,568.1 L438.9,567.7 L439.6,567.2 L440.2,566.7 L440.8,566.2 L441.5,565.8 L442.1,565.3 L442.7,564.9 L443.4,564.4 L444.0,564.0 L444.7,563.5 L445.3,563.1 L445.9,562.7 L446.6,562.2 L447.2,561.8 L447.9,561.4 L448.5,561.0 L449.1,560.6 L449.8,560.2 L450.4,559.8 L451.1,559.4 L451.7,559.1 L452.3,558.7 L453.0,558.3 L453.6,558.0 L454.3,557.6 L454.9,557.2 L455.5,556.8 L456.2,556.3 L456.8,555.9 L457.4,555.5 L458.1,555.1 L458.7,554.7 L459.4,554.3 L460.0,553.9 L460.6,553.5 L461.3,553.1 L461.9,552.8 L462.6,552.5 L463.2,552.2 L463.8,551.9 L464.5,551.6 L465.1,551.4 L465.8,551.3 L466.4,551.1 L467.0,551.0 L467.7,551.0 L468.3,551.0 L468.9,551.1 L469.6,551.2 L470.2,551.4 L470.9,551.7 L471.5,552.0 L472.1,552.4 L472.8,552.8 L473.4,553.2 L474.1,553.7 L474.7,554.1 L475.3,554.7 L476.0,555.5 L476.6,556.3 L477.3,557.3 L477.9,558.3 L478.5,559.3 L479.2,560.4 L479.8,561.6 L480.4,562.8 L481.1,564.2 L481.7,565.8 L482.4,567.5 L483.0,569.2 L483.6,570.9 L484.3,572.5 L484.9,573.9 L485.6,575.1 L486.2,576.1 L486.8,577.0 L487.5,578.0 L488.1,578.9 L488.8,579.8 L489.4,580.5 L490.0,581.2 L490.7,581.6 L491.3,581.9 L492.0,581.9 L492.6,581.8 L493.2,581.7 L493.9,581.5 L494.5,581.3 L495.1,581.0 L495.8,580.8 L496.4,580.4 L497.1,580.1 L497.7,579.7 L498.3,579.2 L499.0,578.6 L499.6,577.9 L500.3,577.0 L500.9,576.1 L501.5,575.1 L502.2,574.1 L502.8,572.9 L503.5,571.8 L504.1,570.5 L504.7,569.2 L505.4,567.9 L506.0,566.3 L506.6,564.5 L507.3,562.5 L507.9,560.4 L508.6,558.1 L509.2,555.7 L509.8,553.2 L510.5,550.6 L511.1,547.9 L511.8,545.2 L512.4,542.6 L513.0,539.9 L513.7,537.3 L514.3,534.5 L515.0,531.5 L515.6,528.5 L516.2,525.4 L516.9,522.2 L517.5,518.9 L518.2,515.7 L518.8,512.5 L519.4,509.3 L520.1,506.2 L520.7,503.2 L521.3,500.3 L522.0,497.6 L522.6,494.9 L523.3,492.3 L523.9,489.7 L524.5,487.1 L525.2,484.6 L525.8,482.2 L526.5,479.9 L527.1,477.6 L527.7,475.5 L528.4,473.4 L529.0,471.3 L529.7,469.0 L530.3,466.9 L530.9,465.2 L531.6,464.3 L532.2,464.3 L532.8,464.6 L533.5,465.1 L534.1,465.9 L534.8,466.8 L535.4,467.8 L536.0,468.8 L536.7,469.8 L537.3,470.9 L538.0,472.2 L538.6,473.8 L539.2,475.4 L539.9,477.2 L540.5,479.1 L541.2,481.1 L541.8,483.1 L542.4,485.1 L543.1,487.1 L543.7,489.0 L544.4,491.0 L545.0,493.1 L545.6,495.3 L546.3,497.5 L546.9,499.7 L547.5,501.9 L548.2,504.1 L548.8,506.2 L549.5,508.2 L550.1,510.1 L550.7,512.0 L551.4,513.8 L552.0,515.6 L552.7,517.3 L553.3,519.0 L553.9,520.7 L554.6,522.3 L555.2,523.9 L555.9,525.5 L556.5,527.0 L557.1,528.6 L557.8,530.1 L558.4,531.5 L559.0,533.0 L559.7,534.4 L560.3,535.9 L561.0,537.3 L561.6,538.7 L562.2,540.1 L562.9,541.5 L563.5,542.8 L564.2,544.1 L564.8,545.3 L565.4,546.4 L566.1,547.4 L566.7,548.4 L567.4,549.3 L568.0,550.1 L568.6,550.9 L569.3,551.7 L569.9,552.5 L570.6,553.3 L571.2,554.0 L571.8,554.7 L572.5,555.4 L573.1,556.0 L573.7,556.7 L574.4,557.3 L575.0,557.9 L575.7,558.5 L576.3,559.0 L576.9,559.5 L577.6,560.1 L578.2,560.5 L578.9,561.0 L579.5,561.5 L580.1,561.9 L580.8,562.3 L581.4,562.8 L582.1,563.2 L582.7,563.6 L583.3,564.0 L584.0,564.4 L584.6,564.7 L585.2,565.1 L585.9,565.5 L586.5,565.8 L587.2,566.2 L587.8,566.5 L588.4,566.9 L589.1,567.2 L589.7,567.5 L590.4,567.8 L591.0,568.1 L591.6,568.4 L592.3,568.6 L592.9,568.9 L593.6,569.1 L594.2,569.3 L594.8,569.6 L595.5,569.8 L596.1,569.9 L596.7,570.1 L597.4,570.3 L598.0,570.5 L598.7,570.6 L599.3,570.8 L599.9,570.9 L600.6,571.1 L601.2,571.3 L601.9,571.4 L602.5,571.6 L603.1,571.7 L603.8,571.9 L604.4,572.0 L605.1,572.2 L605.7,572.3 L606.3,572.4 L607.0,572.6 L607.6,572.7 L608.3,572.8 L608.9,573.0 L609.5,573.1 L610.2,573.2 L610.8,573.3 L611.4,573.4 L612.1,573.5 L612.7,573.6 L613.4,573.7 L614.0,573.8 L614.6,573.9 L615.3,574.0 L615.9,574.0 L616.6,574.1 L617.2,574.1 L617.8,574.2 L618.5,574.2 L619.1,574.3 L619.8,574.3 L620.4,574.3 L621.0,574.3 L621.7,574.3 L622.3,574.3 L622.9,574.3 L623.6,574.2 L624.2,574.0 L624.9,573.8 L625.5,573.6 L626.1,573.4 L626.8,573.1 L627.4,572.8 L628.1,572.5 L628.7,572.2 L629.3,571.9 L630.0,571.6 L630.6,571.3 L631.3,571.1 L631.9,570.8 L632.5,570.6 L633.2,570.4 L633.8,570.3 L634.5,570.2 L635.1,570.2 L635.7,570.2 L636.4,570.3 L637.0,570.6 L637.6,570.9 L638.3,571.2 L638.9,571.6 L639.6,572.0 L640.2,572.4 L640.8,572.7 L641.5,573.0 L642.1,573.3 L642.8,573.6 L643.4,573.9 L644.0,574.2 L644.7,574.5 L645.3,574.8 L646.0,575.1 L646.6,575.4 L647.2,575.7 L647.9,576.0 L648.5,576.3 L649.1,576.6 L649.8,576.9 L650.4,577.1 L651.1,577.4 L651.7,577.6 L652.3,577.8 L653.0,578.0 L653.6,578.2 L654.3,578.4 L654.9,578.6 L655.5,578.7 L656.2,578.8 L656.8,578.9 L657.5,578.9 L658.1,579.0 L658.7,579.1 L659.4,579.2 L660.0,579.3 L660.7,579.3 L661.3,579.4 L661.9,579.5 L662.6,579.6 L663.2,579.6 L663.8,579.7 L664.5,579.8 L665.1,579.8 L665.8,579.9 L666.4,579.9 L667.0,580.0 L667.7,580.1 L668.3,580.1 L669.0,580.2 L669.6,580.2 L670.2,580.3 L670.9,580.3 L671.5,580.4 L672.2,580.4 L672.8,580.5 L673.4,580.5 L674.1,580.6 L674.7,580.6 L675.3,580.7 L676.0,580.7 L676.6,580.7 L677.3,580.8 L677.9,580.8 L678.5,580.9 L679.2,580.9 L679.8,580.9 L680.5,581.0 L681.1,581.0 L681.7,581.0 L682.4,581.1 L683.0,581.1 L683.7,581.1 L684.3,581.2 L684.9,581.2 L685.6,581.2 L686.2,581.3 L686.9,581.3 L687.5,581.3 L688.1,581.4 L688.8,581.4 L689.4,581.4 L690.0,581.5 L690.7,581.5 L691.3,581.5 L692.0,581.6 L692.6,581.6 L693.2,581.6 L693.9,581.6 L694.5,581.7 L695.2,581.7 L695.8,581.7 L696.4,581.8 L697.1,581.8 L697.7,581.8 L698.4,581.9 L699.0,581.9 L699.6,581.9 L700.3,582.0 L700.9,582.0 L701.5,582.0 L702.2,582.1 L702.8,582.1 L703.5,582.1 L704.1,582.2 L704.7,582.2 L705.4,582.2 L706.0,582.3 L706.7,582.3 L707.3,582.3 L707.9,582.4 L708.6,582.4 L709.2,582.4 L709.9,582.4 L710.5,582.5 L711.1,582.5 L711.8,582.5 L712.4,582.6 L713.0,582.6 L713.7,582.6 L714.3,582.7 L715.0,582.7 L715.6,582.7 L716.2,582.7 L716.9,582.8 L717.5,582.8 L718.2,582.8 L718.8,582.9 L719.4,582.9 L720.1,582.9 L720.7,582.9 L721.4,583.0 L722.0,583.0 L722.6,583.0 L723.3,583.1 L723.9,583.1 L724.6,583.1 L725.2,583.1 L725.8,583.2 L726.5,583.2 L727.1,583.2 L727.7,583.2 L728.4,583.3 L729.0,583.3 L729.7,583.3 L730.3,583.3 L730.9,583.4 L731.6,583.4 L732.2,583.4 L732.9,583.4 L733.5,583.5 L734.1,583.5 L734.8,583.5 L735.4,583.5 L736.1,583.6 L736.7,583.6 L737.3,583.6 L738.0,583.6 L738.6,583.7 L739.2,583.7 L739.9,583.7 L740.5,583.7 L741.2,583.7 L741.8,583.8 L742.4,583.8 L743.1,583.8 L743.7,583.8 L744.4,583.8 L745.0,583.9 L745.6,583.9 L746.3,583.9 L746.9,583.9 L747.6,583.9 L748.2,583.9 L748.8,584.0 L749.5,584.0 L750.1,584.0 L750.8,584.0 L751.4,584.0 L752.0,584.0 L752.7,584.1 L753.3,584.1 L753.9,584.1 L754.6,584.1 L755.2,584.1 L755.9,584.1" fill="none" stroke="#34344e" stroke-width="1.7"/>
<g fill="none" stroke="#6c78b0" stroke-width="1.4"><circle cx="437.0" cy="582.4" r="2.5"/><circle cx="442.3" cy="578.7" r="2.5"/><circle cx="447.5" cy="572.6" r="2.5"/><circle cx="452.8" cy="564.9" r="2.5"/><circle cx="458.0" cy="557.8" r="2.5"/><circle cx="463.3" cy="553.2" r="2.5"/><circle cx="468.5" cy="551.9" r="2.5"/><circle cx="473.8" cy="555.0" r="2.5"/><circle cx="479.0" cy="563.1" r="2.5"/><circle cx="484.3" cy="569.2" r="2.5"/><circle cx="489.6" cy="578.1" r="2.5"/><circle cx="494.8" cy="579.3" r="2.5"/><circle cx="500.1" cy="576.1" r="2.5"/><circle cx="505.3" cy="568.0" r="2.5"/><circle cx="510.6" cy="554.7" r="2.5"/><circle cx="515.8" cy="521.1" r="2.5"/><circle cx="521.1" cy="490.0" r="2.5"/><circle cx="526.4" cy="472.0" r="2.5"/><circle cx="531.6" cy="467.7" r="2.5"/><circle cx="536.9" cy="477.5" r="2.5"/><circle cx="542.1" cy="489.2" r="2.5"/><circle cx="547.4" cy="504.8" r="2.5"/><circle cx="552.6" cy="516.6" r="2.5"/><circle cx="557.9" cy="528.9" r="2.5"/><circle cx="563.2" cy="538.4" r="2.5"/><circle cx="568.4" cy="545.9" r="2.5"/><circle cx="573.7" cy="552.1" r="2.5"/><circle cx="578.9" cy="557.3" r="2.5"/><circle cx="584.2" cy="560.7" r="2.5"/><circle cx="589.4" cy="563.7" r="2.5"/><circle cx="594.7" cy="565.9" r="2.5"/><circle cx="599.9" cy="568.5" r="2.5"/><circle cx="605.2" cy="570.0" r="2.5"/><circle cx="610.5" cy="570.9" r="2.5"/><circle cx="615.7" cy="571.7" r="2.5"/><circle cx="621.0" cy="571.9" r="2.5"/><circle cx="626.2" cy="571.8" r="2.5"/><circle cx="631.5" cy="570.1" r="2.5"/><circle cx="636.7" cy="568.8" r="2.5"/><circle cx="642.0" cy="573.3" r="2.5"/><circle cx="647.3" cy="575.8" r="2.5"/><circle cx="652.5" cy="577.6" r="2.5"/><circle cx="657.8" cy="578.5" r="2.5"/><circle cx="663.0" cy="579.1" r="2.5"/><circle cx="668.3" cy="579.5" r="2.5"/><circle cx="673.5" cy="579.9" r="2.5"/><circle cx="678.8" cy="580.2" r="2.5"/><circle cx="684.0" cy="580.5" r="2.5"/><circle cx="689.3" cy="580.7" r="2.5"/><circle cx="694.6" cy="581.0" r="2.5"/><circle cx="699.8" cy="581.2" r="2.5"/><circle cx="705.1" cy="581.5" r="2.5"/><circle cx="710.3" cy="581.8" r="2.5"/><circle cx="715.6" cy="582.0" r="2.5"/><circle cx="720.8" cy="582.3" r="2.5"/><circle cx="726.1" cy="582.5" r="2.5"/><circle cx="731.4" cy="582.7" r="2.5"/><circle cx="736.6" cy="582.9" r="2.5"/><circle cx="741.9" cy="583.1" r="2.5"/><circle cx="747.1" cy="583.3" r="2.5"/><circle cx="752.4" cy="583.4" r="2.5"/><circle cx="757.6" cy="583.5" r="2.5"/></g>
<line x1="377.5" y1="584.7" x2="758.5" y2="584.7" stroke="#8c8c8c" stroke-width="2.2"/>
<text x="745.5" y="473.9" font-size="17" fill="#5a5a5a" text-anchor="end" font-family="'Liberation Sans', Arial, sans-serif" textLength="68.5" lengthAdjust="spacingAndGlyphs"><tspan font-style="italic">W</tspan> = 8 μm</text>
<line x1="370.5" y1="724.3" x2="377.5" y2="724.3" stroke="#9a9a9a" stroke-width="1.2"/>
<text x="365" y="729.9" font-size="16" fill="#5a5a5a" text-anchor="end" font-weight="normal" font-style="normal" font-family="'Liberation Sans', Arial, sans-serif" textLength="22" lengthAdjust="spacingAndGlyphs" >0.0</text>
<line x1="370.5" y1="666.1" x2="377.5" y2="666.1" stroke="#9a9a9a" stroke-width="1.2"/>
<text x="365" y="671.7" font-size="16" fill="#5a5a5a" text-anchor="end" font-weight="normal" font-style="normal" font-family="'Liberation Sans', Arial, sans-serif" textLength="22" lengthAdjust="spacingAndGlyphs" >0.5</text>
<line x1="370.5" y1="607.9" x2="377.5" y2="607.9" stroke="#9a9a9a" stroke-width="1.2"/>
<text x="365" y="613.5" font-size="16" fill="#5a5a5a" text-anchor="end" font-weight="normal" font-style="normal" font-family="'Liberation Sans', Arial, sans-serif" textLength="22" lengthAdjust="spacingAndGlyphs" >1.0</text>
<text transform="translate(328.5,654.1) rotate(-90)" font-size="15" fill="#555" text-anchor="middle" font-family="'Liberation Sans', Arial, sans-serif"><tspan font-style="italic">E</tspan>(<tspan font-style="italic">ν</tspan>)</text>
<line x1="504.8" y1="724.3" x2="504.8" y2="719.3" stroke="#9a9a9a" stroke-width="1.1"/>
<line x1="631.4" y1="724.3" x2="631.4" y2="719.3" stroke="#9a9a9a" stroke-width="1.1"/>
<path d="M410.0,723.6 L410.7,723.6 L411.4,723.6 L412.1,723.6 L412.8,723.6 L413.5,723.6 L414.2,723.5 L414.9,723.5 L415.6,723.5 L416.3,723.5 L417.0,723.5 L417.7,723.5 L418.4,723.5 L419.1,723.5 L419.8,723.4 L420.5,723.4 L421.2,723.4 L421.9,723.4 L422.6,723.4 L423.3,723.4 L424.0,723.3 L424.7,723.3 L425.4,723.3 L426.1,723.3 L426.8,723.3 L427.5,723.2 L428.2,723.2 L428.9,723.2 L429.5,723.2 L430.2,723.2 L430.9,723.1 L431.6,723.1 L432.3,723.1 L433.0,723.1 L433.7,723.0 L434.4,723.0 L435.1,723.0 L435.8,723.0 L436.5,722.9 L437.2,722.9 L437.9,722.9 L438.6,722.8 L439.3,722.8 L440.0,722.8 L440.7,722.7 L441.4,722.7 L442.1,722.6 L442.8,722.6 L443.5,722.6 L444.2,722.5 L444.9,722.5 L445.6,722.4 L446.3,722.4 L447.0,722.3 L447.7,722.3 L448.4,722.2 L449.1,722.2 L449.8,722.1 L450.5,722.0 L451.2,722.0 L451.9,721.9 L452.6,721.8 L453.3,721.8 L454.0,721.7 L454.7,721.6 L455.4,721.5 L456.1,721.4 L456.8,721.3 L457.4,721.2 L458.1,721.1 L458.8,721.0 L459.5,720.9 L460.2,720.8 L460.9,720.7 L461.6,720.6 L462.3,720.4 L463.0,720.3 L463.7,720.1 L464.4,720.0 L465.1,719.8 L465.8,719.6 L466.5,719.4 L467.2,719.2 L467.9,719.0 L468.6,718.8 L469.3,718.5 L470.0,718.3 L470.7,718.0 L471.4,717.7 L472.1,717.4 L472.8,717.0 L473.5,716.7 L474.2,716.3 L474.9,715.8 L475.6,715.4 L476.3,714.9 L477.0,714.3 L477.7,713.7 L478.4,713.1 L479.1,712.4 L479.8,711.7 L480.5,710.8 L481.2,709.9 L481.9,709.0 L482.6,707.9 L483.3,706.7 L484.0,705.3 L484.7,703.9 L485.4,702.3 L486.0,700.5 L486.7,698.5 L487.4,696.2 L488.1,693.7 L488.8,691.0 L489.5,687.9 L490.2,684.5 L490.9,680.7 L491.6,676.5 L492.3,671.9 L493.0,666.9 L493.7,661.6 L494.4,656.1 L495.1,650.4 L495.8,644.9 L496.5,639.7 L497.2,635.2 L497.9,631.8 L498.6,629.8 L499.3,629.2 L500.0,630.3 L500.7,632.8 L501.4,636.6 L502.1,641.3 L502.8,646.6 L503.5,652.3 L504.2,657.9 L504.9,663.4 L505.6,668.6 L506.3,673.4 L507.0,677.9 L507.7,682.0 L508.4,685.6 L509.1,688.9 L509.8,691.9 L510.5,694.6 L511.2,697.0 L511.9,699.1 L512.6,701.1 L513.3,702.8 L513.9,704.4 L514.6,705.8 L515.3,707.1 L516.0,708.2 L516.7,709.3 L517.4,710.2 L518.1,711.1 L518.8,711.9 L519.5,712.7 L520.2,713.3 L520.9,713.9 L521.6,714.5 L522.3,715.0 L523.0,715.5 L523.7,716.0 L524.4,716.4 L525.1,716.8 L525.8,717.1 L526.5,717.5 L527.2,717.8 L527.9,718.1 L528.6,718.3 L529.3,718.6 L530.0,718.8 L530.7,719.1 L531.4,719.3 L532.1,719.5 L532.8,719.7 L533.5,719.8 L534.2,720.0 L534.9,720.2 L535.6,720.3 L536.3,720.5 L537.0,720.6 L537.7,720.7 L538.4,720.9 L539.1,721.0 L539.8,721.1 L540.5,721.2 L541.2,721.3 L541.8,721.4 L542.5,721.5 L543.2,721.6 L543.9,721.6 L544.6,721.7 L545.3,721.8 L546.0,721.9 L546.7,721.9 L547.4,722.0 L548.1,722.1 L548.8,722.1 L549.5,722.2 L550.2,722.2 L550.9,722.3 L551.6,722.3 L552.3,722.4 L553.0,722.4 L553.7,722.5 L554.4,722.5 L555.1,722.6 L555.8,722.6 L556.5,722.7 L557.2,722.7 L557.9,722.7 L558.6,722.8 L559.3,722.8 L560.0,722.8 L560.7,722.9 L561.4,722.9 L562.1,722.9 L562.8,723.0 L563.5,723.0 L564.2,723.0 L564.9,723.0 L565.6,723.1 L566.3,723.1 L567.0,723.1 L567.7,723.1 L568.4,723.2 L569.1,723.2 L569.8,723.2 L570.4,723.2 L571.1,723.3 L571.8,723.3 L572.5,723.3 L573.2,723.3 L573.9,723.3 L574.6,723.3 L575.3,723.4 L576.0,723.4 L576.7,723.4 L577.4,723.4 L578.1,723.4 L578.8,723.4 L579.5,723.5 L580.2,723.5 L580.9,723.5 L581.6,723.5 L582.3,723.5 L583.0,723.5 L583.7,723.5 L584.4,723.5 L585.1,723.6 L585.8,723.6 L586.5,723.6 L587.2,723.6 L587.9,723.6 L588.6,723.6 L589.3,723.6 L590.0,723.6 L590.7,723.6 L591.4,723.7 L592.1,723.7 L592.8,723.7 L593.5,723.7 L594.2,723.7 L594.9,723.7 L595.6,723.7 L596.3,723.7 L597.0,723.7 L597.7,723.7 L598.3,723.7 L599.0,723.8 L599.7,723.8 L600.4,723.8 L601.1,723.8 L601.8,723.8 L602.5,723.8 L603.2,723.8 L603.9,723.8 L604.6,723.8 L605.3,723.8 L606.0,723.8 L606.7,723.8 L607.4,723.8 L608.1,723.8 L608.8,723.8 L609.5,723.9 L610.2,723.9 L610.9,723.9 L611.6,723.9 L612.3,723.9 L613.0,723.9 L613.7,723.9 L614.4,723.9 L615.1,723.9 L615.8,723.9 L616.5,723.9 L617.2,723.9 L617.9,723.9 L618.6,723.9 L619.3,723.9 L620.0,723.9 L620.7,723.9 L621.4,723.9 L622.1,723.9 L622.8,723.9 L623.5,723.9 L624.2,723.9 L624.9,724.0 L625.6,724.0 L626.2,724.0 L626.9,724.0 L627.6,724.0 L628.3,724.0 L629.0,724.0 L629.7,724.0 L630.4,724.0 L631.1,724.0 L631.8,724.0 L632.5,724.0 L633.2,724.0 L633.9,724.0 L634.6,724.0 L635.3,724.0 L636.0,724.0 L636.7,724.0 L637.4,724.0 L638.1,724.0 L638.8,724.0 L639.5,724.0 L640.2,724.0 L640.9,724.0 L641.6,724.0 L642.3,724.0 L643.0,724.0 L643.7,724.0 L644.4,724.0 L645.1,724.0 L645.8,724.0 L646.5,724.0 L647.2,724.0 L647.9,724.1 L648.6,724.1 L649.3,724.1 L650.0,724.1 L650.7,724.1 L651.4,724.1 L652.1,724.1 L652.8,724.1 L653.5,724.1 L654.1,724.1 L654.8,724.1 L655.5,724.1 L656.2,724.1 L656.9,724.1 L657.6,724.1 L658.3,724.1 L659.0,724.1 L659.7,724.1 L660.4,724.1 L661.1,724.1 L661.8,724.1 L662.5,724.1 L663.2,724.1 L663.9,724.1 L664.6,724.1 L665.3,724.1 L666.0,724.1 L666.7,724.1 L667.4,724.1 L668.1,724.1 L668.8,724.1 L669.5,724.1 L670.2,724.1 L670.9,724.1 L671.6,724.1 L672.3,724.1 L673.0,724.1 L673.7,724.1 L674.4,724.1 L675.1,724.1 L675.8,724.1 L676.5,724.1 L677.2,724.1 L677.9,724.1 L678.6,724.1 L679.3,724.1 L680.0,724.1 L680.7,724.1 L681.4,724.1 L682.1,724.1 L682.7,724.1 L683.4,724.1 L684.1,724.1 L684.8,724.1 L685.5,724.1 L686.2,724.1 L686.9,724.1 L687.6,724.1 L688.3,724.1 L689.0,724.1 L689.7,724.1 L690.4,724.2 L691.1,724.2 L691.8,724.2 L692.5,724.2 L693.2,724.2 L693.9,724.2 L694.6,724.2 L695.3,724.2 L696.0,724.2 L696.7,724.2 L697.4,724.2 L698.1,724.2 L698.8,724.2 L699.5,724.2 L700.2,724.2 L700.9,724.2 L701.6,724.2 L702.3,724.2 L703.0,724.2 L703.7,724.2 L704.4,724.2 L705.1,724.2 L705.8,724.2 L706.5,724.2 L707.2,724.2 L707.9,724.2 L708.6,724.2 L709.3,724.2 L710.0,724.2 L710.6,724.2 L711.3,724.2 L712.0,724.2 L712.7,724.2 L713.4,724.2 L714.1,724.2 L714.8,724.2 L715.5,724.2 L716.2,724.2 L716.9,724.2 L717.6,724.2 L718.3,724.2 L719.0,724.2 L719.7,724.2 L720.4,724.2 L721.1,724.2 L721.8,724.2 L722.5,724.2 L723.2,724.2 L723.9,724.2 L724.6,724.2 L725.3,724.2 L726.0,724.2 L726.7,724.2 L727.4,724.2 L728.1,724.2 L728.8,724.2 L729.5,724.2 L730.2,724.2 L730.9,724.2 L731.6,724.2 L732.3,724.2 L733.0,724.2 L733.7,724.2 L734.4,724.2 L735.1,724.2 L735.8,724.2 L736.5,724.2 L737.2,724.2 L737.9,724.2 L738.5,724.2 L739.2,724.2 L739.9,724.2 L740.6,724.2 L741.3,724.2 L742.0,724.2 L742.7,724.2 L743.4,724.2 L744.1,724.2 L744.8,724.2 L745.5,724.2 L746.2,724.2 L746.9,724.2 L747.6,724.2 L748.3,724.2 L749.0,724.2 L749.7,724.2 L750.4,724.2 L751.1,724.2 L751.8,724.2 L752.5,724.2 L753.2,724.2 L753.9,724.2 L754.6,724.2 L755.3,724.2 L756.0,724.2 L756.7,724.2 L757.4,724.2 L758.1,724.2" fill="none" stroke="#6cc070" stroke-width="1.2"/>
<path d="M599.8,724.3 L600.9,724.3 L602.1,724.3 L603.3,724.3 L604.5,724.3 L605.7,724.3 L606.8,724.3 L608.0,724.3 L609.2,724.3 L610.4,724.3 L611.6,724.2 L612.7,724.2 L613.9,724.1 L615.1,724.1 L616.3,724.0 L617.5,723.8 L618.6,723.7 L619.8,723.5 L621.0,723.3 L622.2,723.0 L623.4,722.6 L624.6,722.3 L625.7,721.9 L626.9,721.5 L628.1,721.1 L629.3,720.7 L630.5,720.4 L631.6,720.1 L632.8,719.8 L634.0,719.7 L635.2,719.6 L636.4,719.7 L637.5,719.8 L638.7,720.0 L639.9,720.3 L641.1,720.7 L642.3,721.1 L643.4,721.5 L644.6,721.9 L645.8,722.3 L647.0,722.6 L648.2,722.9 L649.3,723.2 L650.5,723.5 L651.7,723.7 L652.9,723.8 L654.1,724.0 L655.2,724.1 L656.4,724.1 L657.6,724.2 L658.8,724.2 L660.0,724.2 L661.2,724.3 L662.3,724.3 L663.5,724.3 L664.7,724.3 L665.9,724.3 L667.1,724.3 L668.2,724.3 L669.4,724.3" fill="none" stroke="#d890b8" stroke-width="1.2"/>
<path d="M410.0,707.3 L410.7,706.9 L411.4,706.5 L412.1,706.1 L412.8,705.7 L413.5,705.2 L414.2,704.8 L414.9,704.3 L415.6,703.8 L416.3,703.3 L417.0,702.8 L417.7,702.2 L418.4,701.7 L419.1,701.1 L419.8,700.5 L420.5,699.8 L421.2,699.2 L421.9,698.5 L422.6,697.8 L423.3,697.1 L424.0,696.4 L424.7,695.6 L425.4,694.8 L426.1,693.9 L426.8,693.1 L427.5,692.2 L428.2,691.2 L428.9,690.2 L429.5,689.2 L430.2,688.2 L430.9,687.1 L431.6,686.0 L432.3,684.8 L433.0,683.6 L433.7,682.3 L434.4,681.0 L435.1,679.6 L435.8,678.2 L436.5,676.7 L437.2,675.2 L437.9,673.6 L438.6,672.0 L439.3,670.3 L440.0,668.6 L440.7,666.7 L441.4,664.9 L442.1,663.0 L442.8,661.0 L443.5,658.9 L444.2,656.8 L444.9,654.7 L445.6,652.5 L446.3,650.2 L447.0,648.0 L447.7,645.6 L448.4,643.3 L449.1,640.9 L449.8,638.5 L450.5,636.1 L451.2,633.8 L451.9,631.4 L452.6,629.1 L453.3,626.8 L454.0,624.6 L454.7,622.5 L455.4,620.4 L456.1,618.5 L456.8,616.7 L457.4,615.1 L458.1,613.6 L458.8,612.3 L459.5,611.3 L460.2,610.4 L460.9,609.7 L461.6,609.3 L462.3,609.1 L463.0,609.1 L463.7,609.4 L464.4,610.0 L465.1,610.8 L465.8,611.9 L466.5,613.3 L467.2,614.8 L467.9,616.5 L468.6,618.4 L469.3,620.5 L470.0,622.7 L470.7,625.0 L471.4,627.4 L472.1,629.9 L472.8,632.4 L473.5,635.0 L474.2,637.5 L474.9,640.1 L475.6,642.7 L476.3,645.2 L477.0,647.7 L477.7,650.2 L478.4,652.6 L479.1,655.0 L479.8,657.3 L480.5,659.5 L481.2,661.7 L481.9,663.8 L482.6,665.9 L483.3,667.8 L484.0,669.7 L484.7,671.6 L485.4,673.4 L486.0,675.1 L486.7,676.7 L487.4,678.3 L488.1,679.8 L488.8,681.3 L489.5,682.7 L490.2,684.0 L490.9,685.3 L491.6,686.6 L492.3,687.8 L493.0,688.9 L493.7,690.0 L494.4,691.1 L495.1,692.1 L495.8,693.1 L496.5,694.0 L497.2,694.9 L497.9,695.8 L498.6,696.6 L499.3,697.4 L500.0,698.2 L500.7,698.9 L501.4,699.6 L502.1,700.3 L502.8,701.0 L503.5,701.6 L504.2,702.2 L504.9,702.8 L505.6,703.4 L506.3,703.9 L507.0,704.4 L507.7,704.9 L508.4,705.4 L509.1,705.9 L509.8,706.4 L510.5,706.8 L511.2,707.2 L511.9,707.6 L512.6,708.0 L513.3,708.4 L513.9,708.8 L514.6,709.1 L515.3,709.5 L516.0,709.8 L516.7,710.1 L517.4,710.5 L518.1,710.8 L518.8,711.1 L519.5,711.3 L520.2,711.6 L520.9,711.9 L521.6,712.2 L522.3,712.4 L523.0,712.7 L523.7,712.9 L524.4,713.1 L525.1,713.3 L525.8,713.6 L526.5,713.8 L527.2,714.0 L527.9,714.2 L528.6,714.4 L529.3,714.6 L530.0,714.7 L530.7,714.9 L531.4,715.1 L532.1,715.3 L532.8,715.4 L533.5,715.6 L534.2,715.8 L534.9,715.9 L535.6,716.1 L536.3,716.2 L537.0,716.3 L537.7,716.5 L538.4,716.6 L539.1,716.7 L539.8,716.9 L540.5,717.0 L541.2,717.1 L541.8,717.2 L542.5,717.3 L543.2,717.5 L543.9,717.6 L544.6,717.7 L545.3,717.8 L546.0,717.9 L546.7,718.0 L547.4,718.1 L548.1,718.2 L548.8,718.3 L549.5,718.4 L550.2,718.5 L550.9,718.5 L551.6,718.6 L552.3,718.7 L553.0,718.8 L553.7,718.9 L554.4,718.9 L555.1,719.0 L555.8,719.1 L556.5,719.2 L557.2,719.2 L557.9,719.3 L558.6,719.4 L559.3,719.5 L560.0,719.5 L560.7,719.6 L561.4,719.6 L562.1,719.7 L562.8,719.8 L563.5,719.8 L564.2,719.9 L564.9,719.9 L565.6,720.0 L566.3,720.1 L567.0,720.1 L567.7,720.2 L568.4,720.2 L569.1,720.3 L569.8,720.3 L570.4,720.4 L571.1,720.4 L571.8,720.5 L572.5,720.5 L573.2,720.6 L573.9,720.6 L574.6,720.6 L575.3,720.7 L576.0,720.7 L576.7,720.8 L577.4,720.8 L578.1,720.9 L578.8,720.9 L579.5,720.9 L580.2,721.0 L580.9,721.0 L581.6,721.1 L582.3,721.1 L583.0,721.1 L583.7,721.2 L584.4,721.2 L585.1,721.2 L585.8,721.3 L586.5,721.3 L587.2,721.3 L587.9,721.4 L588.6,721.4 L589.3,721.4 L590.0,721.5 L590.7,721.5 L591.4,721.5 L592.1,721.5 L592.8,721.6 L593.5,721.6 L594.2,721.6 L594.9,721.7 L595.6,721.7 L596.3,721.7 L597.0,721.7 L597.7,721.8 L598.3,721.8 L599.0,721.8 L599.7,721.8 L600.4,721.9 L601.1,721.9 L601.8,721.9 L602.5,721.9 L603.2,722.0 L603.9,722.0 L604.6,722.0 L605.3,722.0 L606.0,722.0 L606.7,722.1 L607.4,722.1 L608.1,722.1 L608.8,722.1 L609.5,722.1 L610.2,722.2 L610.9,722.2 L611.6,722.2 L612.3,722.2 L613.0,722.2 L613.7,722.3 L614.4,722.3 L615.1,722.3 L615.8,722.3 L616.5,722.3 L617.2,722.4 L617.9,722.4 L618.6,722.4 L619.3,722.4 L620.0,722.4 L620.7,722.4 L621.4,722.5 L622.1,722.5 L622.8,722.5 L623.5,722.5 L624.2,722.5 L624.9,722.5 L625.6,722.5 L626.2,722.6 L626.9,722.6 L627.6,722.6 L628.3,722.6 L629.0,722.6 L629.7,722.6 L630.4,722.6 L631.1,722.7 L631.8,722.7 L632.5,722.7 L633.2,722.7 L633.9,722.7 L634.6,722.7 L635.3,722.7 L636.0,722.7 L636.7,722.8 L637.4,722.8 L638.1,722.8 L638.8,722.8 L639.5,722.8 L640.2,722.8 L640.9,722.8 L641.6,722.8 L642.3,722.9 L643.0,722.9 L643.7,722.9 L644.4,722.9 L645.1,722.9 L645.8,722.9 L646.5,722.9 L647.2,722.9 L647.9,722.9 L648.6,722.9 L649.3,723.0 L650.0,723.0 L650.7,723.0 L651.4,723.0 L652.1,723.0 L652.8,723.0 L653.5,723.0 L654.1,723.0 L654.8,723.0 L655.5,723.0 L656.2,723.1 L656.9,723.1 L657.6,723.1 L658.3,723.1 L659.0,723.1 L659.7,723.1 L660.4,723.1 L661.1,723.1 L661.8,723.1 L662.5,723.1 L663.2,723.1 L663.9,723.1 L664.6,723.2 L665.3,723.2 L666.0,723.2 L666.7,723.2 L667.4,723.2 L668.1,723.2 L668.8,723.2 L669.5,723.2 L670.2,723.2 L670.9,723.2 L671.6,723.2 L672.3,723.2 L673.0,723.2 L673.7,723.2 L674.4,723.3 L675.1,723.3 L675.8,723.3 L676.5,723.3 L677.2,723.3 L677.9,723.3 L678.6,723.3 L679.3,723.3 L680.0,723.3 L680.7,723.3 L681.4,723.3 L682.1,723.3 L682.7,723.3 L683.4,723.3 L684.1,723.3 L684.8,723.3 L685.5,723.4 L686.2,723.4 L686.9,723.4 L687.6,723.4 L688.3,723.4 L689.0,723.4 L689.7,723.4 L690.4,723.4 L691.1,723.4 L691.8,723.4 L692.5,723.4 L693.2,723.4 L693.9,723.4 L694.6,723.4 L695.3,723.4 L696.0,723.4 L696.7,723.4 L697.4,723.4 L698.1,723.5 L698.8,723.5 L699.5,723.5 L700.2,723.5 L700.9,723.5 L701.6,723.5 L702.3,723.5 L703.0,723.5 L703.7,723.5 L704.4,723.5 L705.1,723.5 L705.8,723.5 L706.5,723.5 L707.2,723.5 L707.9,723.5 L708.6,723.5 L709.3,723.5 L710.0,723.5 L710.6,723.5 L711.3,723.5 L712.0,723.5 L712.7,723.5 L713.4,723.6 L714.1,723.6 L714.8,723.6 L715.5,723.6 L716.2,723.6 L716.9,723.6 L717.6,723.6 L718.3,723.6 L719.0,723.6 L719.7,723.6 L720.4,723.6 L721.1,723.6 L721.8,723.6 L722.5,723.6 L723.2,723.6 L723.9,723.6 L724.6,723.6 L725.3,723.6 L726.0,723.6 L726.7,723.6 L727.4,723.6 L728.1,723.6 L728.8,723.6 L729.5,723.6 L730.2,723.6 L730.9,723.6 L731.6,723.6 L732.3,723.7 L733.0,723.7 L733.7,723.7 L734.4,723.7 L735.1,723.7 L735.8,723.7 L736.5,723.7 L737.2,723.7 L737.9,723.7 L738.5,723.7 L739.2,723.7 L739.9,723.7 L740.6,723.7 L741.3,723.7 L742.0,723.7 L742.7,723.7 L743.4,723.7 L744.1,723.7 L744.8,723.7 L745.5,723.7 L746.2,723.7 L746.9,723.7 L747.6,723.7 L748.3,723.7 L749.0,723.7 L749.7,723.7 L750.4,723.7 L751.1,723.7 L751.8,723.7 L752.5,723.7 L753.2,723.7 L753.9,723.7 L754.6,723.7 L755.3,723.8 L756.0,723.8 L756.7,723.8 L757.4,723.8 L758.1,723.8" fill="none" stroke="#d8504c" stroke-width="1.3"/>
<path d="M410.0,715.3 L410.7,715.0 L411.4,714.7 L412.1,714.4 L412.8,714.1 L413.5,713.7 L414.2,713.3 L414.9,712.9 L415.6,712.5 L416.3,712.1 L416.9,711.7 L417.6,711.2 L418.3,710.8 L419.0,710.3 L419.7,709.8 L420.4,709.2 L421.1,708.7 L421.8,708.1 L422.5,707.6 L423.2,707.0 L423.9,706.3 L424.6,705.7 L425.3,705.0 L426.0,704.3 L426.7,703.5 L427.3,702.7 L428.0,701.8 L428.7,700.9 L429.4,700.0 L430.1,699.1 L430.8,698.2 L431.5,697.3 L432.2,696.5 L432.9,695.7 L433.6,695.0 L434.3,694.3 L435.0,693.5 L435.7,692.8 L436.4,692.1 L437.0,691.4 L437.7,690.7 L438.4,690.0 L439.1,689.4 L439.8,688.9 L440.5,688.4 L441.2,688.0 L441.9,687.7 L442.6,687.4 L443.3,687.2 L444.0,686.9 L444.7,686.7 L445.4,686.5 L446.1,686.3 L446.8,686.2 L447.4,686.1 L448.1,686.0 L448.8,686.0 L449.5,686.2 L450.2,686.5 L450.9,686.9 L451.6,687.4 L452.3,687.9 L453.0,688.5 L453.7,689.1 L454.4,689.6 L455.1,690.2 L455.8,690.7 L456.5,691.2 L457.1,691.7 L457.8,692.3 L458.5,692.8 L459.2,693.4 L459.9,694.0 L460.6,694.6 L461.3,695.2 L462.0,695.7 L462.7,696.3 L463.4,696.9 L464.1,697.4 L464.8,698.0 L465.5,698.5 L466.2,699.1 L466.9,699.6 L467.5,700.2 L468.2,700.7 L468.9,701.3 L469.6,701.8 L470.3,702.4 L471.0,702.9 L471.7,703.5 L472.4,704.0 L473.1,704.6 L473.8,705.2 L474.5,705.9 L475.2,706.5 L475.9,707.1 L476.6,707.7 L477.2,708.2 L477.9,708.8 L478.6,709.3 L479.3,709.7 L480.0,710.1 L480.7,710.5 L481.4,710.8 L482.1,711.2 L482.8,711.5 L483.5,711.8 L484.2,712.1 L484.9,712.3 L485.6,712.5 L486.3,712.6 L486.9,712.7 L487.6,712.6 L488.3,712.4 L489.0,712.1 L489.7,711.8 L490.4,711.4 L491.1,710.9 L491.8,710.3 L492.5,709.5 L493.2,707.9 L493.9,705.8 L494.6,703.2 L495.3,700.2 L496.0,696.9 L496.7,693.3 L497.3,689.2 L498.0,683.5 L498.7,676.8 L499.4,669.6 L500.1,662.6 L500.8,655.9 L501.5,649.1 L502.2,642.1 L502.9,634.9 L503.6,627.3 L504.3,617.1 L505.0,609.1 L505.7,609.0 L506.4,611.7 L507.0,615.8 L507.7,620.5 L508.4,627.4 L509.1,636.4 L509.8,644.9 L510.5,650.7 L511.2,655.5 L511.9,659.9 L512.6,663.9 L513.3,667.4 L514.0,670.6 L514.7,673.3 L515.4,675.7 L516.1,677.8 L516.8,679.9 L517.4,681.8 L518.1,683.5 L518.8,685.1 L519.5,686.6 L520.2,687.8 L520.9,689.0 L521.6,689.9 L522.3,690.7 L523.0,691.4 L523.7,692.1 L524.4,692.8 L525.1,693.4 L525.8,693.9 L526.5,694.5 L527.1,695.0 L527.8,695.5 L528.5,695.9 L529.2,696.3 L529.9,696.7 L530.6,697.1 L531.3,697.5 L532.0,697.8 L532.7,698.1 L533.4,698.4 L534.1,698.7 L534.8,698.9 L535.5,699.2 L536.2,699.4 L536.9,699.7 L537.5,699.9 L538.2,700.1 L538.9,700.4 L539.6,700.6 L540.3,700.8 L541.0,701.0 L541.7,701.2 L542.4,701.4 L543.1,701.6 L543.8,701.7 L544.5,701.9 L545.2,702.1 L545.9,702.3 L546.6,702.4 L547.2,702.6 L547.9,702.8 L548.6,702.9 L549.3,703.1 L550.0,703.2 L550.7,703.4 L551.4,703.5 L552.1,703.6 L552.8,703.8 L553.5,703.9 L554.2,704.1 L554.9,704.2 L555.6,704.3 L556.3,704.5 L557.0,704.6 L557.6,704.7 L558.3,704.9 L559.0,705.0 L559.7,705.2 L560.4,705.3 L561.1,705.4 L561.8,705.6 L562.5,705.7 L563.2,705.8 L563.9,705.9 L564.6,706.1 L565.3,706.2 L566.0,706.3 L566.7,706.4 L567.3,706.5 L568.0,706.7 L568.7,706.8 L569.4,706.9 L570.1,707.0 L570.8,707.1 L571.5,707.2 L572.2,707.3 L572.9,707.4 L573.6,707.5 L574.3,707.7 L575.0,707.8 L575.7,707.9 L576.4,708.0 L577.0,708.1 L577.7,708.2 L578.4,708.3 L579.1,708.4 L579.8,708.5 L580.5,708.6 L581.2,708.7 L581.9,708.8 L582.6,708.9 L583.3,709.0 L584.0,709.1 L584.7,709.2 L585.4,709.3 L586.1,709.4 L586.8,709.5 L587.4,709.6 L588.1,709.7 L588.8,709.8 L589.5,709.9 L590.2,710.0 L590.9,710.1 L591.6,710.3 L592.3,710.4 L593.0,710.5 L593.7,710.6 L594.4,710.7 L595.1,710.8 L595.8,710.9 L596.5,711.0 L597.1,711.0 L597.8,711.1 L598.5,711.2 L599.2,711.3 L599.9,711.4 L600.6,711.5 L601.3,711.6 L602.0,711.7 L602.7,711.8 L603.4,711.9 L604.1,712.0 L604.8,712.1 L605.5,712.2 L606.2,712.3 L606.9,712.4 L607.5,712.5 L608.2,712.6 L608.9,712.7 L609.6,712.8 L610.3,712.9 L611.0,713.0 L611.7,713.1 L612.4,713.3 L613.1,713.4 L613.8,713.5 L614.5,713.6 L615.2,713.8 L615.9,713.9 L616.6,714.1 L617.2,714.3 L617.9,714.5 L618.6,714.6 L619.3,714.8 L620.0,715.0 L620.7,715.1 L621.4,715.3 L622.1,715.4 L622.8,715.5 L623.5,715.5 L624.2,715.6 L624.9,715.6 L625.6,715.5 L626.3,715.3 L627.0,715.1 L627.6,714.9 L628.3,714.6 L629.0,714.3 L629.7,714.0 L630.4,713.6 L631.1,713.3 L631.8,713.0 L632.5,712.7 L633.2,712.5 L633.9,712.2 L634.6,712.1 L635.3,712.0 L636.0,712.0 L636.7,712.1 L637.3,712.3 L638.0,712.7 L638.7,713.1 L639.4,713.6 L640.1,714.2 L640.8,714.8 L641.5,715.4 L642.2,715.9 L642.9,716.5 L643.6,717.0 L644.3,717.4 L645.0,717.7 L645.7,717.9 L646.4,718.0 L647.1,718.2 L647.7,718.3 L648.4,718.5 L649.1,718.6 L649.8,718.8 L650.5,718.9 L651.2,719.1 L651.9,719.2 L652.6,719.3 L653.3,719.5 L654.0,719.6 L654.7,719.7 L655.4,719.8 L656.1,719.9 L656.8,720.1 L657.4,720.2 L658.1,720.3 L658.8,720.4 L659.5,720.5 L660.2,720.6 L660.9,720.7 L661.6,720.7 L662.3,720.8 L663.0,720.9 L663.7,721.0 L664.4,721.1 L665.1,721.1 L665.8,721.2 L666.5,721.3 L667.1,721.3 L667.8,721.4 L668.5,721.5 L669.2,721.5 L669.9,721.6 L670.6,721.6 L671.3,721.7 L672.0,721.7 L672.7,721.8 L673.4,721.8 L674.1,721.8 L674.8,721.9 L675.5,721.9 L676.2,721.9 L676.9,721.9 L677.5,722.0 L678.2,722.0 L678.9,722.0 L679.6,722.0 L680.3,722.1 L681.0,722.1 L681.7,722.1 L682.4,722.1 L683.1,722.1 L683.8,722.1 L684.5,722.2 L685.2,722.2 L685.9,722.2 L686.6,722.2 L687.2,722.2 L687.9,722.3 L688.6,722.3 L689.3,722.3 L690.0,722.3 L690.7,722.3 L691.4,722.3 L692.1,722.4 L692.8,722.4 L693.5,722.4 L694.2,722.4 L694.9,722.4 L695.6,722.4 L696.3,722.5 L697.0,722.5 L697.6,722.5 L698.3,722.5 L699.0,722.5 L699.7,722.5 L700.4,722.6 L701.1,722.6 L701.8,722.6 L702.5,722.6 L703.2,722.6 L703.9,722.6 L704.6,722.6 L705.3,722.7 L706.0,722.7 L706.7,722.7 L707.3,722.7 L708.0,722.7 L708.7,722.7 L709.4,722.7 L710.1,722.7 L710.8,722.8 L711.5,722.8 L712.2,722.8 L712.9,722.8 L713.6,722.8 L714.3,722.8 L715.0,722.8 L715.7,722.8 L716.4,722.8 L717.1,722.9 L717.7,722.9 L718.4,722.9 L719.1,722.9 L719.8,722.9 L720.5,722.9 L721.2,722.9 L721.9,722.9 L722.6,722.9 L723.3,722.9 L724.0,722.9 L724.7,723.0 L725.4,723.0 L726.1,723.0 L726.8,723.0 L727.4,723.0 L728.1,723.0 L728.8,723.0 L729.5,723.0 L730.2,723.0 L730.9,723.0 L731.6,723.0 L732.3,723.0 L733.0,723.0 L733.7,723.0 L734.4,723.0 L735.1,723.1 L735.8,723.1 L736.5,723.1 L737.2,723.1 L737.8,723.1 L738.5,723.1 L739.2,723.1 L739.9,723.1 L740.6,723.1 L741.3,723.1 L742.0,723.1 L742.7,723.1 L743.4,723.1 L744.1,723.1 L744.8,723.1 L745.5,723.1 L746.2,723.1 L746.9,723.1 L747.5,723.1 L748.2,723.1 L748.9,723.1 L749.6,723.1 L750.3,723.1 L751.0,723.1 L751.7,723.1 L752.4,723.1 L753.1,723.1 L753.8,723.1 L754.5,723.1 L755.2,723.1 L755.9,723.1" fill="none" stroke="#34344e" stroke-width="1.7"/>
<g fill="none" stroke="#6c78b0" stroke-width="1.4"><circle cx="410.0" cy="722.8" r="2.5"/><circle cx="415.3" cy="718.4" r="2.5"/><circle cx="420.5" cy="714.8" r="2.5"/><circle cx="425.8" cy="706.7" r="2.5"/><circle cx="431.0" cy="698.0" r="2.5"/><circle cx="436.3" cy="692.9" r="2.5"/><circle cx="441.6" cy="688.6" r="2.5"/><circle cx="446.8" cy="687.1" r="2.5"/><circle cx="452.1" cy="689.7" r="2.5"/><circle cx="457.3" cy="695.9" r="2.5"/><circle cx="462.6" cy="698.7" r="2.5"/><circle cx="467.8" cy="700.1" r="2.5"/><circle cx="473.1" cy="702.1" r="2.5"/><circle cx="478.4" cy="704.1" r="2.5"/><circle cx="483.6" cy="704.4" r="2.5"/><circle cx="488.9" cy="704.3" r="2.5"/><circle cx="494.1" cy="693.4" r="2.5"/><circle cx="499.4" cy="665.8" r="2.5"/><circle cx="504.6" cy="612.1" r="2.5"/><circle cx="509.9" cy="632.5" r="2.5"/><circle cx="515.1" cy="663.2" r="2.5"/><circle cx="520.4" cy="683.8" r="2.5"/><circle cx="525.7" cy="688.4" r="2.5"/><circle cx="530.9" cy="688.4" r="2.5"/><circle cx="536.2" cy="687.8" r="2.5"/><circle cx="541.4" cy="688.2" r="2.5"/><circle cx="546.7" cy="689.7" r="2.5"/><circle cx="551.9" cy="692.8" r="2.5"/><circle cx="557.2" cy="696.5" r="2.5"/><circle cx="562.5" cy="699.8" r="2.5"/><circle cx="567.7" cy="702.6" r="2.5"/><circle cx="573.0" cy="704.6" r="2.5"/><circle cx="578.2" cy="706.1" r="2.5"/><circle cx="583.5" cy="707.3" r="2.5"/><circle cx="588.7" cy="708.4" r="2.5"/><circle cx="594.0" cy="709.6" r="2.5"/><circle cx="599.2" cy="710.8" r="2.5"/><circle cx="604.5" cy="711.9" r="2.5"/><circle cx="609.8" cy="712.9" r="2.5"/><circle cx="615.0" cy="713.6" r="2.5"/><circle cx="620.3" cy="714.3" r="2.5"/><circle cx="625.5" cy="714.5" r="2.5"/><circle cx="630.8" cy="713.3" r="2.5"/><circle cx="636.0" cy="712.4" r="2.5"/><circle cx="641.3" cy="714.0" r="2.5"/><circle cx="646.6" cy="715.9" r="2.5"/><circle cx="651.8" cy="717.1" r="2.5"/><circle cx="657.1" cy="717.9" r="2.5"/><circle cx="662.3" cy="718.6" r="2.5"/><circle cx="667.6" cy="719.1" r="2.5"/><circle cx="672.8" cy="719.5" r="2.5"/><circle cx="678.1" cy="719.9" r="2.5"/><circle cx="683.4" cy="720.2" r="2.5"/><circle cx="688.6" cy="720.5" r="2.5"/><circle cx="693.9" cy="720.7" r="2.5"/><circle cx="699.1" cy="720.9" r="2.5"/><circle cx="704.4" cy="721.1" r="2.5"/><circle cx="709.6" cy="721.3" r="2.5"/><circle cx="714.9" cy="721.5" r="2.5"/><circle cx="720.1" cy="721.7" r="2.5"/><circle cx="725.4" cy="721.9" r="2.5"/><circle cx="730.7" cy="722.0" r="2.5"/><circle cx="735.9" cy="722.2" r="2.5"/><circle cx="741.2" cy="722.3" r="2.5"/><circle cx="746.4" cy="722.5" r="2.5"/><circle cx="751.7" cy="722.6" r="2.5"/><circle cx="756.9" cy="722.7" r="2.5"/></g>
<line x1="377.5" y1="724.3" x2="758.5" y2="724.3" stroke="#8c8c8c" stroke-width="2.2"/>
<text x="395.5" y="606.5" font-size="17" fill="#5a5a5a" text-anchor="start" font-family="'Liberation Sans', Arial, sans-serif" textLength="77" lengthAdjust="spacingAndGlyphs"><tspan font-style="italic">W</tspan> = 20 μm</text>
<text x="394" y="41.7" font-size="15" fill="#222" text-anchor="start" font-weight="bold" font-style="normal" font-family="'Liberation Sans', Arial, sans-serif" >E</text>
<line x1="410.7" y1="31" x2="410.7" y2="41.5" stroke="#444" stroke-width="1.2"/>
<line x1="405" y1="41.5" x2="416.5" y2="41.5" stroke="#444" stroke-width="1.2"/>
<text x="394.5" y="77.2" font-size="16" fill="#555" font-family="'Liberation Sans', Arial, sans-serif" textLength="48.5" lengthAdjust="spacingAndGlyphs"><tspan font-style="italic">T</tspan> = 6 K</text>
<line x1="378.1" y1="724.3" x2="378.1" y2="731" stroke="#9a9a9a" stroke-width="1.2"/>
<text x="378.1" y="750.5" font-size="16" fill="#5a5a5a" text-anchor="middle" font-weight="normal" font-style="normal" font-family="'Liberation Sans', Arial, sans-serif" >0</text>
<line x1="504.8" y1="724.3" x2="504.8" y2="731" stroke="#9a9a9a" stroke-width="1.2"/>
<text x="504.8" y="750.5" font-size="16" fill="#5a5a5a" text-anchor="middle" font-weight="normal" font-style="normal" font-family="'Liberation Sans', Arial, sans-serif" >2</text>
<line x1="631.4" y1="724.3" x2="631.4" y2="731" stroke="#9a9a9a" stroke-width="1.2"/>
<text x="631.4" y="750.5" font-size="16" fill="#5a5a5a" text-anchor="middle" font-weight="normal" font-style="normal" font-family="'Liberation Sans', Arial, sans-serif" >4</text>
<line x1="758.1" y1="724.3" x2="758.1" y2="731" stroke="#9a9a9a" stroke-width="1.2"/>
<text x="758.1" y="750.5" font-size="16" fill="#5a5a5a" text-anchor="middle" font-weight="normal" font-style="normal" font-family="'Liberation Sans', Arial, sans-serif" >6</text>
<text x="569" y="775" font-size="15" fill="#555" text-anchor="middle" font-family="'Liberation Sans', Arial, sans-serif"><tspan font-style="italic">ν</tspan> (THz)</text>
<rect x="585.4" y="585.6" width="170.5" height="84.1" fill="#fff"/>
<line x1="585.4" y1="585.6" x2="585.4" y2="669.7" stroke="#8c8c8c" stroke-width="1.2"/>
<line x1="585.4" y1="669.7" x2="755.6" y2="669.7" stroke="#8c8c8c" stroke-width="1.2"/>
<line x1="613.9" y1="669.7" x2="613.9" y2="673.7" stroke="#999" stroke-width="1"/>
<line x1="642.3" y1="669.7" x2="642.3" y2="674.7" stroke="#999" stroke-width="1"/>
<line x1="670.8" y1="669.7" x2="670.8" y2="673.7" stroke="#999" stroke-width="1"/>
<line x1="699.2" y1="669.7" x2="699.2" y2="674.7" stroke="#999" stroke-width="1"/>
<line x1="727.6" y1="669.7" x2="727.6" y2="673.7" stroke="#999" stroke-width="1"/>
<line x1="580" y1="636.4" x2="585.4" y2="636.4" stroke="#999" stroke-width="1"/>
<line x1="580" y1="603.1" x2="585.4" y2="603.1" stroke="#999" stroke-width="1"/>
<text x="577.5" y="675.7" font-size="17" fill="#5a5a5a" text-anchor="end" font-weight="normal" font-style="normal" font-family="'Liberation Sans', Arial, sans-serif" >0</text>
<text x="577.5" y="642.4" font-size="17" fill="#5a5a5a" text-anchor="end" font-weight="normal" font-style="normal" font-family="'Liberation Sans', Arial, sans-serif" >1</text>
<text x="577.5" y="609.1" font-size="17" fill="#5a5a5a" text-anchor="end" font-weight="normal" font-style="normal" font-family="'Liberation Sans', Arial, sans-serif" >2</text>
<text x="585.4" y="690.5" font-size="16.5" fill="#5a5a5a" text-anchor="middle" font-weight="normal" font-style="normal" font-family="'Liberation Sans', Arial, sans-serif" >0</text>
<text x="642.3" y="690.5" font-size="16.5" fill="#5a5a5a" text-anchor="middle" font-weight="normal" font-style="normal" font-family="'Liberation Sans', Arial, sans-serif" >10</text>
<text x="699.2" y="690.5" font-size="16.5" fill="#5a5a5a" text-anchor="middle" font-weight="normal" font-style="normal" font-family="'Liberation Sans', Arial, sans-serif" >20</text>
<text x="671" y="708" font-size="15" fill="#555" text-anchor="middle" font-family="'Liberation Sans', Arial, sans-serif"><tspan font-style="italic">W</tspan> (μm)</text>
<text transform="translate(559,627) rotate(-90)" font-size="16.5" fill="#555" text-anchor="middle" font-family="'Liberation Sans', Arial, sans-serif">Γ<tspan font-size="11.5" dy="3.5">p</tspan><tspan dy="-3.5"> (THz)</tspan></text>
<line x1="586" y1="652.1" x2="755" y2="652.1" stroke="#444" stroke-width="1.4" stroke-dasharray="4,4.5"/>
<path d="M594.6,583.1 L595.1,587.1 L595.7,590.7 L596.2,593.9 L596.7,596.8 L597.3,599.4 L597.8,601.8 L598.3,604.0 L598.9,606.0 L599.4,607.8 L599.9,609.5 L600.5,611.1 L601.0,612.5 L601.5,613.9 L602.0,615.1 L602.6,616.3 L603.1,617.4 L603.6,618.5 L604.2,619.4 L604.7,620.3 L605.2,621.2 L605.8,622.0 L606.3,622.8 L606.8,623.5 L607.4,624.2 L607.9,624.9 L608.4,625.5 L608.9,626.1 L609.5,626.7 L610.0,627.2 L610.5,627.7 L611.1,628.2 L611.6,628.7 L612.1,629.2 L612.7,629.6 L613.2,630.0 L613.7,630.4 L614.2,630.8 L614.8,631.2 L615.3,631.5 L615.8,631.9 L616.4,632.2 L616.9,632.5 L617.4,632.8 L618.0,633.1 L618.5,633.4 L619.0,633.7 L619.6,634.0 L620.1,634.2 L620.6,634.5 L621.1,634.7 L621.7,635.0 L622.2,635.2 L622.7,635.4 L623.3,635.6 L623.8,635.8 L624.3,636.0 L624.9,636.2 L625.4,636.4 L625.9,636.6 L626.5,636.8 L627.0,637.0 L627.5,637.1 L628.0,637.3 L628.6,637.5 L629.1,637.6 L629.6,637.8 L630.2,637.9 L630.7,638.1 L631.2,638.2 L631.8,638.4 L632.3,638.5 L632.8,638.6 L633.3,638.8 L633.9,638.9 L634.4,639.0 L634.9,639.1 L635.5,639.2 L636.0,639.4 L636.5,639.5 L637.1,639.6 L637.6,639.7 L638.1,639.8 L638.7,639.9 L639.2,640.0 L639.7,640.1 L640.2,640.2 L640.8,640.3 L641.3,640.4 L641.8,640.5 L642.4,640.6 L642.9,640.7 L643.4,640.7 L644.0,640.8 L644.5,640.9 L645.0,641.0 L645.6,641.1 L646.1,641.2 L646.6,641.2 L647.1,641.3 L647.7,641.4 L648.2,641.5 L648.7,641.5 L649.3,641.6 L649.8,641.7 L650.3,641.7 L650.9,641.8 L651.4,641.9 L651.9,641.9 L652.4,642.0 L653.0,642.1 L653.5,642.1 L654.0,642.2 L654.6,642.2 L655.1,642.3 L655.6,642.4 L656.2,642.4 L656.7,642.5 L657.2,642.5 L657.8,642.6 L658.3,642.6 L658.8,642.7 L659.3,642.7 L659.9,642.8 L660.4,642.8 L660.9,642.9 L661.5,642.9 L662.0,643.0 L662.5,643.0 L663.1,643.1 L663.6,643.1 L664.1,643.2 L664.7,643.2 L665.2,643.2 L665.7,643.3 L666.2,643.3 L666.8,643.4 L667.3,643.4 L667.8,643.5 L668.4,643.5 L668.9,643.5 L669.4,643.6 L670.0,643.6 L670.5,643.7 L671.0,643.7 L671.5,643.7 L672.1,643.8 L672.6,643.8 L673.1,643.8 L673.7,643.9 L674.2,643.9 L674.7,643.9 L675.3,644.0 L675.8,644.0 L676.3,644.0 L676.9,644.1 L677.4,644.1 L677.9,644.1 L678.4,644.2 L679.0,644.2 L679.5,644.2 L680.0,644.3 L680.6,644.3 L681.1,644.3 L681.6,644.4 L682.2,644.4 L682.7,644.4 L683.2,644.4 L683.8,644.5 L684.3,644.5 L684.8,644.5 L685.3,644.5 L685.9,644.6 L686.4,644.6 L686.9,644.6 L687.5,644.7 L688.0,644.7 L688.5,644.7 L689.1,644.7 L689.6,644.8 L690.1,644.8 L690.6,644.8 L691.2,644.8 L691.7,644.9 L692.2,644.9 L692.8,644.9 L693.3,644.9 L693.8,644.9 L694.4,645.0 L694.9,645.0 L695.4,645.0 L696.0,645.0 L696.5,645.1 L697.0,645.1 L697.5,645.1 L698.1,645.1 L698.6,645.1 L699.1,645.2 L699.7,645.2 L700.2,645.2 L700.7,645.2 L701.3,645.2 L701.8,645.3 L702.3,645.3 L702.9,645.3 L703.4,645.3 L703.9,645.3 L704.4,645.4 L705.0,645.4 L705.5,645.4 L706.0,645.4 L706.6,645.4 L707.1,645.4 L707.6,645.5 L708.2,645.5 L708.7,645.5 L709.2,645.5 L709.7,645.5 L710.3,645.5 L710.8,645.6 L711.3,645.6 L711.9,645.6 L712.4,645.6 L712.9,645.6 L713.5,645.6 L714.0,645.7 L714.5,645.7 L715.1,645.7 L715.6,645.7 L716.1,645.7 L716.6,645.7 L717.2,645.8 L717.7,645.8 L718.2,645.8 L718.8,645.8 L719.3,645.8 L719.8,645.8 L720.4,645.8 L720.9,645.9 L721.4,645.9 L722.0,645.9 L722.5,645.9 L723.0,645.9 L723.5,645.9 L724.1,645.9 L724.6,646.0 L725.1,646.0 L725.7,646.0 L726.2,646.0 L726.7,646.0 L727.3,646.0 L727.8,646.0 L728.3,646.0 L728.8,646.1 L729.4,646.1 L729.9,646.1 L730.4,646.1 L731.0,646.1 L731.5,646.1 L732.0,646.1 L732.6,646.1 L733.1,646.2 L733.6,646.2 L734.2,646.2 L734.7,646.2 L735.2,646.2 L735.7,646.2 L736.3,646.2 L736.8,646.2 L737.3,646.2 L737.9,646.3 L738.4,646.3 L738.9,646.3 L739.5,646.3 L740.0,646.3 L740.5,646.3 L741.1,646.3 L741.6,646.3 L742.1,646.3 L742.6,646.3 L743.2,646.4 L743.7,646.4 L744.2,646.4 L744.8,646.4 L745.3,646.4 L745.8,646.4 L746.4,646.4 L746.9,646.4 L747.4,646.4 L747.9,646.4 L748.5,646.5 L749.0,646.5 L749.5,646.5 L750.1,646.5 L750.6,646.5 L751.1,646.5 L751.7,646.5 L752.2,646.5 L752.7,646.5 L753.3,646.5" fill="none" stroke="#555" stroke-width="1.5" stroke-dasharray="11,10"/>
<circle cx="596.8" cy="609.8" r="5.3" fill="#e01818"/>
<circle cx="599.6" cy="615.8" r="5.3" fill="#e01818"/>
<circle cx="608.2" cy="621.4" r="5.3" fill="#e01818"/>
<circle cx="630.9" cy="633.1" r="5.3" fill="#e01818"/>
<circle cx="699.2" cy="648.1" r="5.3" fill="#e01818"/>
</g>
<g id="panel-c">
<defs><filter id="blur2" x="-50%" y="-50%" width="200%" height="200%"><feGaussianBlur stdDeviation="2.6"/></filter><filter id="blur4" x="-50%" y="-50%" width="200%" height="200%"><feGaussianBlur stdDeviation="5.5"/></filter><filter id="blur15" x="-50%" y="-50%" width="200%" height="200%"><feGaussianBlur stdDeviation="1.8"/></filter><filter id="blur05" x="-20%" y="-50%" width="140%" height="200%"><feGaussianBlur stdDeviation="0.7"/></filter></defs>
<clipPath id="clipT0"><rect x="900.6" y="6.2" width="190" height="189.3"/></clipPath>
<g clip-path="url(#clipT0)">
<rect x="900.6" y="6.2" width="190" height="189.3" fill="#595959"/>
<g filter="url(#blur4)"><ellipse cx="930.5" cy="41.2" rx="24.2" ry="16.9" fill="#8a8a8a"/><ellipse cx="993.1" cy="41.2" rx="24.2" ry="16.9" fill="#8a8a8a"/><ellipse cx="1055.8" cy="41.2" rx="24.2" ry="16.9" fill="#8a8a8a"/><ellipse cx="930.5" cy="105" rx="24.2" ry="16.9" fill="#8a8a8a"/><ellipse cx="993.1" cy="105" rx="24.2" ry="16.9" fill="#8a8a8a"/><ellipse cx="1055.8" cy="105" rx="24.2" ry="16.9" fill="#8a8a8a"/><ellipse cx="930.5" cy="168.3" rx="24.2" ry="16.9" fill="#8a8a8a"/><ellipse cx="993.1" cy="168.3" rx="24.2" ry="16.9" fill="#8a8a8a"/><ellipse cx="1055.8" cy="168.3" rx="24.2" ry="16.9" fill="#8a8a8a"/></g>
<g filter="url(#blur15)"><rect x="914.2" y="32.3" width="32.5" height="17.8" rx="10.1" ry="8.9" fill="#c4c4c4"/><rect x="976.9" y="32.3" width="32.5" height="17.8" rx="10.1" ry="8.9" fill="#c4c4c4"/><rect x="1039.5" y="32.3" width="32.5" height="17.8" rx="10.1" ry="8.9" fill="#c4c4c4"/><rect x="914.2" y="96.1" width="32.5" height="17.8" rx="10.1" ry="8.9" fill="#c4c4c4"/><rect x="976.9" y="96.1" width="32.5" height="17.8" rx="10.1" ry="8.9" fill="#c4c4c4"/><rect x="1039.5" y="96.1" width="32.5" height="17.8" rx="10.1" ry="8.9" fill="#c4c4c4"/><rect x="914.2" y="159.4" width="32.5" height="17.8" rx="10.1" ry="8.9" fill="#c4c4c4"/><rect x="976.9" y="159.4" width="32.5" height="17.8" rx="10.1" ry="8.9" fill="#c4c4c4"/><rect x="1039.5" y="159.4" width="32.5" height="17.8" rx="10.1" ry="8.9" fill="#c4c4c4"/></g>
<g filter="url(#blur15)"></g>
<g filter="url(#blur05)"><rect x="917.2" y="35.3" width="26.5" height="11.8" rx="7.1" ry="5.9" fill="#0a0a0a"/><rect x="979.9" y="35.3" width="26.5" height="11.8" rx="7.1" ry="5.9" fill="#0a0a0a"/><rect x="1042.5" y="35.3" width="26.5" height="11.8" rx="7.1" ry="5.9" fill="#0a0a0a"/><rect x="917.2" y="99.1" width="26.5" height="11.8" rx="7.1" ry="5.9" fill="#0a0a0a"/><rect x="979.9" y="99.1" width="26.5" height="11.8" rx="7.1" ry="5.9" fill="#0a0a0a"/><rect x="1042.5" y="99.1" width="26.5" height="11.8" rx="7.1" ry="5.9" fill="#0a0a0a"/><rect x="917.2" y="162.4" width="26.5" height="11.8" rx="7.1" ry="5.9" fill="#0a0a0a"/><rect x="979.9" y="162.4" width="26.5" height="11.8" rx="7.1" ry="5.9" fill="#0a0a0a"/><rect x="1042.5" y="162.4" width="26.5" height="11.8" rx="7.1" ry="5.9" fill="#0a0a0a"/></g>
</g>
<text x="1084.1" y="27.8" font-size="19.5" fill="#fff" stroke="#fff" stroke-width="0.45" text-anchor="end" font-family="'Liberation Sans', Arial, sans-serif" textLength="88" lengthAdjust="spacingAndGlyphs"><tspan font-style="italic">D</tspan>=125 nm</text>
<clipPath id="clipT1"><rect x="1098.7" y="6.2" width="190.6" height="189.3"/></clipPath>
<g clip-path="url(#clipT1)">
<rect x="1098.7" y="6.2" width="190.6" height="189.3" fill="#595959"/>
<g filter="url(#blur4)"><ellipse cx="1126.7" cy="40.8" rx="26.5" ry="16.2" fill="#8a8a8a"/><ellipse cx="1189.6" cy="40.8" rx="26.5" ry="16.2" fill="#8a8a8a"/><ellipse cx="1252.9" cy="40.8" rx="26.5" ry="16.2" fill="#8a8a8a"/><ellipse cx="1126.7" cy="103.5" rx="26.5" ry="16.2" fill="#8a8a8a"/><ellipse cx="1189.6" cy="103.5" rx="26.5" ry="16.2" fill="#8a8a8a"/><ellipse cx="1252.9" cy="103.5" rx="26.5" ry="16.2" fill="#8a8a8a"/><ellipse cx="1126.7" cy="166.3" rx="26.5" ry="16.2" fill="#8a8a8a"/><ellipse cx="1189.6" cy="166.3" rx="26.5" ry="16.2" fill="#8a8a8a"/><ellipse cx="1252.9" cy="166.3" rx="26.5" ry="16.2" fill="#8a8a8a"/></g>
<g filter="url(#blur15)"><rect x="1108.2" y="32.5" width="37" height="16.5" rx="9.3" ry="8.2" fill="#c4c4c4"/><rect x="1171.1" y="32.5" width="37" height="16.5" rx="9.3" ry="8.2" fill="#c4c4c4"/><rect x="1234.4" y="32.5" width="37" height="16.5" rx="9.3" ry="8.2" fill="#c4c4c4"/><rect x="1108.2" y="95.2" width="37" height="16.5" rx="9.3" ry="8.2" fill="#c4c4c4"/><rect x="1171.1" y="95.2" width="37" height="16.5" rx="9.3" ry="8.2" fill="#c4c4c4"/><rect x="1234.4" y="95.2" width="37" height="16.5" rx="9.3" ry="8.2" fill="#c4c4c4"/><rect x="1108.2" y="158.1" width="37" height="16.5" rx="9.3" ry="8.2" fill="#c4c4c4"/><rect x="1171.1" y="158.1" width="37" height="16.5" rx="9.3" ry="8.2" fill="#c4c4c4"/><rect x="1234.4" y="158.1" width="37" height="16.5" rx="9.3" ry="8.2" fill="#c4c4c4"/></g>
<g filter="url(#blur15)"></g>
<g filter="url(#blur05)"><rect x="1111.2" y="35.5" width="31" height="10.5" rx="6.3" ry="5.2" fill="#0a0a0a"/><rect x="1174.1" y="35.5" width="31" height="10.5" rx="6.3" ry="5.2" fill="#0a0a0a"/><rect x="1237.4" y="35.5" width="31" height="10.5" rx="6.3" ry="5.2" fill="#0a0a0a"/><rect x="1111.2" y="98.2" width="31" height="10.5" rx="6.3" ry="5.2" fill="#0a0a0a"/><rect x="1174.1" y="98.2" width="31" height="10.5" rx="6.3" ry="5.2" fill="#0a0a0a"/><rect x="1237.4" y="98.2" width="31" height="10.5" rx="6.3" ry="5.2" fill="#0a0a0a"/><rect x="1111.2" y="161.1" width="31" height="10.5" rx="6.3" ry="5.2" fill="#0a0a0a"/><rect x="1174.1" y="161.1" width="31" height="10.5" rx="6.3" ry="5.2" fill="#0a0a0a"/><rect x="1237.4" y="161.1" width="31" height="10.5" rx="6.3" ry="5.2" fill="#0a0a0a"/></g>
</g>
<text x="1282.8" y="27.8" font-size="19.5" fill="#fff" stroke="#fff" stroke-width="0.45" text-anchor="end" font-family="'Liberation Sans', Arial, sans-serif" textLength="88" lengthAdjust="spacingAndGlyphs"><tspan font-style="italic">D</tspan>=150 nm</text>
<clipPath id="clipT2"><rect x="900.4" y="205" width="188.9" height="190.5"/></clipPath>
<g clip-path="url(#clipT2)">
<rect x="900.4" y="205" width="188.9" height="190.5" fill="#595959"/>
<g filter="url(#blur4)"><rect x="890.4" y="221.4" width="208.9" height="37.8" fill="#7e7e7e"/><ellipse cx="928.9" cy="240.3" rx="31" ry="15.9" fill="#8a8a8a"/><ellipse cx="991.5" cy="240.3" rx="31" ry="15.9" fill="#8a8a8a"/><ellipse cx="1054.7" cy="240.3" rx="31" ry="15.9" fill="#8a8a8a"/><rect x="890.4" y="282.6" width="208.9" height="37.8" fill="#7e7e7e"/><ellipse cx="928.9" cy="301.5" rx="31" ry="15.9" fill="#8a8a8a"/><ellipse cx="991.5" cy="301.5" rx="31" ry="15.9" fill="#8a8a8a"/><ellipse cx="1054.7" cy="301.5" rx="31" ry="15.9" fill="#8a8a8a"/><rect x="890.4" y="343.7" width="208.9" height="37.8" fill="#7e7e7e"/><ellipse cx="928.9" cy="362.6" rx="31" ry="15.9" fill="#8a8a8a"/><ellipse cx="991.5" cy="362.6" rx="31" ry="15.9" fill="#8a8a8a"/><ellipse cx="1054.7" cy="362.6" rx="31" ry="15.9" fill="#8a8a8a"/></g>
<g filter="url(#blur15)"><rect x="905.9" y="232.4" width="46" height="15.8" rx="8.9" ry="7.9" fill="#c4c4c4"/><rect x="968.5" y="232.4" width="46" height="15.8" rx="8.9" ry="7.9" fill="#c4c4c4"/><rect x="1031.7" y="232.4" width="46" height="15.8" rx="8.9" ry="7.9" fill="#c4c4c4"/><rect x="905.9" y="293.6" width="46" height="15.8" rx="8.9" ry="7.9" fill="#c4c4c4"/><rect x="968.5" y="293.6" width="46" height="15.8" rx="8.9" ry="7.9" fill="#c4c4c4"/><rect x="1031.7" y="293.6" width="46" height="15.8" rx="8.9" ry="7.9" fill="#c4c4c4"/><rect x="905.9" y="354.7" width="46" height="15.8" rx="8.9" ry="7.9" fill="#c4c4c4"/><rect x="968.5" y="354.7" width="46" height="15.8" rx="8.9" ry="7.9" fill="#c4c4c4"/><rect x="1031.7" y="354.7" width="46" height="15.8" rx="8.9" ry="7.9" fill="#c4c4c4"/></g>
<g filter="url(#blur15)"></g>
<g filter="url(#blur05)"><rect x="908.9" y="235.4" width="40" height="9.8" rx="5.9" ry="4.9" fill="#0a0a0a"/><rect x="971.5" y="235.4" width="40" height="9.8" rx="5.9" ry="4.9" fill="#0a0a0a"/><rect x="1034.7" y="235.4" width="40" height="9.8" rx="5.9" ry="4.9" fill="#0a0a0a"/><rect x="908.9" y="296.6" width="40" height="9.8" rx="5.9" ry="4.9" fill="#0a0a0a"/><rect x="971.5" y="296.6" width="40" height="9.8" rx="5.9" ry="4.9" fill="#0a0a0a"/><rect x="1034.7" y="296.6" width="40" height="9.8" rx="5.9" ry="4.9" fill="#0a0a0a"/><rect x="908.9" y="357.7" width="40" height="9.8" rx="5.9" ry="4.9" fill="#0a0a0a"/><rect x="971.5" y="357.7" width="40" height="9.8" rx="5.9" ry="4.9" fill="#0a0a0a"/><rect x="1034.7" y="357.7" width="40" height="9.8" rx="5.9" ry="4.9" fill="#0a0a0a"/></g>
</g>
<text x="1082.8" y="226.6" font-size="19.5" fill="#fff" stroke="#fff" stroke-width="0.45" text-anchor="end" font-family="'Liberation Sans', Arial, sans-serif" textLength="88" lengthAdjust="spacingAndGlyphs"><tspan font-style="italic">D</tspan>=200 nm</text>
<clipPath id="clipT3"><rect x="1099.5" y="205" width="189.8" height="190.5"/></clipPath>
<g clip-path="url(#clipT3)">
<rect x="1099.5" y="205" width="189.8" height="190.5" fill="#595959"/>
<g filter="url(#blur4)"><rect x="1089.5" y="223.8" width="209.8" height="37.5" fill="#7e7e7e"/><ellipse cx="1129.7" cy="242.6" rx="32.5" ry="15.8" fill="#8a8a8a"/><ellipse cx="1192.3" cy="242.6" rx="32.5" ry="15.8" fill="#8a8a8a"/><ellipse cx="1254.7" cy="242.6" rx="32.5" ry="15.8" fill="#8a8a8a"/><rect x="1089.5" y="286.4" width="209.8" height="37.5" fill="#7e7e7e"/><ellipse cx="1129.7" cy="305.2" rx="32.5" ry="15.8" fill="#8a8a8a"/><ellipse cx="1192.3" cy="305.2" rx="32.5" ry="15.8" fill="#8a8a8a"/><ellipse cx="1254.7" cy="305.2" rx="32.5" ry="15.8" fill="#8a8a8a"/><rect x="1089.5" y="348.9" width="209.8" height="37.5" fill="#7e7e7e"/><ellipse cx="1129.7" cy="367.6" rx="32.5" ry="15.8" fill="#8a8a8a"/><ellipse cx="1192.3" cy="367.6" rx="32.5" ry="15.8" fill="#8a8a8a"/><ellipse cx="1254.7" cy="367.6" rx="32.5" ry="15.8" fill="#8a8a8a"/></g>
<g filter="url(#blur15)"><rect x="1105.2" y="234.8" width="49" height="15.5" rx="8.7" ry="7.8" fill="#c4c4c4"/><rect x="1167.8" y="234.8" width="49" height="15.5" rx="8.7" ry="7.8" fill="#c4c4c4"/><rect x="1230.2" y="234.8" width="49" height="15.5" rx="8.7" ry="7.8" fill="#c4c4c4"/><rect x="1105.2" y="297.4" width="49" height="15.5" rx="8.7" ry="7.8" fill="#c4c4c4"/><rect x="1167.8" y="297.4" width="49" height="15.5" rx="8.7" ry="7.8" fill="#c4c4c4"/><rect x="1230.2" y="297.4" width="49" height="15.5" rx="8.7" ry="7.8" fill="#c4c4c4"/><rect x="1105.2" y="359.9" width="49" height="15.5" rx="8.7" ry="7.8" fill="#c4c4c4"/><rect x="1167.8" y="359.9" width="49" height="15.5" rx="8.7" ry="7.8" fill="#c4c4c4"/><rect x="1230.2" y="359.9" width="49" height="15.5" rx="8.7" ry="7.8" fill="#c4c4c4"/></g>
<g filter="url(#blur15)"><rect x="1129.7" y="239.6" width="62.6" height="6" fill="#5e5e5e"/><rect x="1192.3" y="239.6" width="62.4" height="6" fill="#5e5e5e"/><rect x="1094.5" y="239.6" width="35.2" height="6" fill="#5e5e5e"/><rect x="1254.7" y="239.6" width="39.6" height="6" fill="#5e5e5e"/><rect x="1129.7" y="302.2" width="62.6" height="6" fill="#5e5e5e"/><rect x="1192.3" y="302.2" width="62.4" height="6" fill="#5e5e5e"/><rect x="1094.5" y="302.2" width="35.2" height="6" fill="#5e5e5e"/><rect x="1254.7" y="302.2" width="39.6" height="6" fill="#5e5e5e"/><rect x="1129.7" y="364.6" width="62.6" height="6" fill="#5e5e5e"/><rect x="1192.3" y="364.6" width="62.4" height="6" fill="#5e5e5e"/><rect x="1094.5" y="364.6" width="35.2" height="6" fill="#5e5e5e"/><rect x="1254.7" y="364.6" width="39.6" height="6" fill="#5e5e5e"/></g>
<g filter="url(#blur05)"><rect x="1108.2" y="237.8" width="43" height="9.5" rx="5.7" ry="4.8" fill="#0a0a0a"/><rect x="1170.8" y="237.8" width="43" height="9.5" rx="5.7" ry="4.8" fill="#0a0a0a"/><rect x="1233.2" y="237.8" width="43" height="9.5" rx="5.7" ry="4.8" fill="#0a0a0a"/><rect x="1108.2" y="300.4" width="43" height="9.5" rx="5.7" ry="4.8" fill="#0a0a0a"/><rect x="1170.8" y="300.4" width="43" height="9.5" rx="5.7" ry="4.8" fill="#0a0a0a"/><rect x="1233.2" y="300.4" width="43" height="9.5" rx="5.7" ry="4.8" fill="#0a0a0a"/><rect x="1108.2" y="362.9" width="43" height="9.5" rx="5.7" ry="4.8" fill="#0a0a0a"/><rect x="1170.8" y="362.9" width="43" height="9.5" rx="5.7" ry="4.8" fill="#0a0a0a"/><rect x="1233.2" y="362.9" width="43" height="9.5" rx="5.7" ry="4.8" fill="#0a0a0a"/></g>
</g>
<text x="1282.8" y="226.6" font-size="19.5" fill="#fff" stroke="#fff" stroke-width="0.45" text-anchor="end" font-family="'Liberation Sans', Arial, sans-serif" textLength="88" lengthAdjust="spacingAndGlyphs"><tspan font-style="italic">D</tspan>=225 nm</text>
<rect x="1156.8" y="71.7" width="65.2" height="63.2" fill="none" stroke="#fff" stroke-width="3.4" stroke-dasharray="4.6,3.4"/>
<line x1="1131" y1="103.5" x2="1163" y2="103.5" stroke="#ee2030" stroke-width="1.4"/>
<line x1="1218" y1="103.5" x2="1246.5" y2="103.5" stroke="#ee2030" stroke-width="1.4"/>
<path d="M1173.5,103.5 L1162,98.8 L1162,108.2 Z" fill="#ee2030"/>
<path d="M1207.5,103.5 L1219,98.8 L1219,108.2 Z" fill="#ee2030"/>
<circle cx="1166" cy="103.5" r="3.5" fill="#ee2030"/>
<circle cx="1215" cy="103.5" r="3.5" fill="#ee2030"/>
<text x="1228.5" y="90.5" font-size="17" fill="#ee2030" text-anchor="start" font-weight="normal" font-style="italic" font-family="'Liberation Sans', Arial, sans-serif" >D</text>
<text x="1118.5" y="152.5" font-size="17" fill="#fff" text-anchor="start" font-weight="normal" font-style="normal" font-family="'Liberation Sans', Arial, sans-serif" textLength="27" lengthAdjust="spacingAndGlyphs" >UC</text>
<rect x="1236" y="345.5" width="41" height="6.8" fill="#fff"/>
<clipPath id="clipS"><rect x="1422.6" y="8.9" width="332.2" height="337.5"/></clipPath>
<g clip-path="url(#clipS)">
<path d="M1422.3,304.3 L1422.8,303.5 L1423.3,303.1 L1423.9,302.4 L1424.4,301.5 L1424.9,300.5 L1425.4,299.6 L1425.9,298.7 L1426.4,297.8 L1426.9,296.9 L1427.4,295.8 L1428.0,294.7 L1428.5,293.3 L1429.0,292.4 L1429.5,291.4 L1430.0,290.5 L1430.5,289.4 L1431.0,287.9 L1431.5,286.7 L1432.0,285.3 L1432.6,284.1 L1433.1,282.5 L1433.6,281.0 L1434.1,279.9 L1434.6,279.0 L1435.1,278.0 L1435.6,277.0 L1436.1,276.2 L1436.6,275.5 L1437.2,274.6 L1437.7,273.4 L1438.2,272.7 L1438.7,272.1 L1439.2,271.7 L1439.7,271.2 L1440.2,270.7 L1440.7,270.3 L1441.3,269.6 L1441.8,269.3 L1442.3,269.2 L1442.8,269.4 L1443.3,269.6 L1443.8,270.0 L1444.3,270.7 L1444.8,271.3 L1445.3,271.9 L1445.9,272.5 L1446.4,273.5 L1446.9,274.2 L1447.4,274.9 L1447.9,275.4 L1448.4,276.0 L1448.9,276.7 L1449.4,277.3 L1449.9,278.3 L1450.5,279.1 L1451.0,280.2 L1451.5,281.0 L1452.0,282.1 L1452.5,282.6 L1453.0,283.3 L1453.5,283.9 L1454.0,284.7 L1454.5,285.7 L1455.1,286.5 L1455.6,287.4 L1456.1,288.2 L1456.6,288.8 L1457.1,289.3 L1457.6,289.8 L1458.1,290.3 L1458.6,291.0 L1459.2,291.2 L1459.7,291.7 L1460.2,292.1 L1460.7,292.7 L1461.2,293.1 L1461.7,293.8 L1462.2,294.1 L1462.7,294.7 L1463.2,294.9 L1463.8,295.3 L1464.3,295.6 L1464.8,295.9 L1465.3,296.2 L1465.8,296.4 L1466.3,296.7 L1466.8,297.4 L1467.3,297.7 L1467.8,297.9 L1468.4,297.9 L1468.9,298.1 L1469.4,298.2 L1469.9,298.4 L1470.4,298.5 L1470.9,298.6 L1471.4,298.9 L1471.9,299.1 L1472.5,299.1 L1473.0,299.1 L1473.5,299.4 L1474.0,299.8 L1474.5,300.0 L1475.0,299.8 L1475.5,300.0 L1476.0,300.2 L1476.5,300.6 L1477.1,300.7 L1477.6,300.7 L1478.1,300.9 L1478.6,301.1 L1479.1,301.3 L1479.6,301.3 L1480.1,301.4 L1480.6,301.5 L1481.1,301.6 L1481.7,301.5 L1482.2,301.8 L1482.7,301.8 L1483.2,302.1 L1483.7,302.0 L1484.2,302.4 L1484.7,302.6 L1485.2,302.7 L1485.8,302.6 L1486.3,302.5 L1486.8,302.6 L1487.3,302.8 L1487.8,302.9 L1488.3,303.0 L1488.8,302.8 L1489.3,302.7 L1489.8,302.8 L1490.4,303.0 L1490.9,303.2 L1491.4,303.3 L1491.9,303.3 L1492.4,303.4 L1492.9,303.6 L1493.4,303.8 L1493.9,303.8 L1494.4,303.6 L1495.0,303.5 L1495.5,303.6 L1496.0,303.6 L1496.5,303.7 L1497.0,303.7 L1497.5,303.7 L1498.0,303.8 L1498.5,303.9 L1499.1,303.9 L1499.6,304.1 L1500.1,304.1 L1500.6,304.2 L1501.1,304.1 L1501.6,304.2 L1502.1,304.3 L1502.6,304.4 L1503.1,304.2 L1503.7,304.3 L1504.2,304.4 L1504.7,304.5 L1505.2,304.6 L1505.7,304.4 L1506.2,304.4 L1506.7,304.5 L1507.2,304.7 L1507.7,304.8 L1508.3,304.7 L1508.8,304.8 L1509.3,304.8 L1509.8,304.9 L1510.3,305.1 L1510.8,305.1 L1511.3,305.3 L1511.8,305.4 L1512.3,305.5 L1512.9,305.2 L1513.4,305.1 L1513.9,304.9 L1514.4,305.0 L1514.9,305.2 L1515.4,305.4 L1515.9,305.8 L1516.4,305.9 L1517.0,306.0 L1517.5,305.8 L1518.0,305.7 L1518.5,305.7 L1519.0,305.9 L1519.5,306.1 L1520.0,306.1 L1520.5,306.1 L1521.0,305.9 L1521.6,306.1 L1522.1,305.9 L1522.6,305.9 L1523.1,305.9 L1523.6,306.2 L1524.1,306.4 L1524.6,306.4 L1525.1,306.4 L1525.6,306.4 L1526.2,306.4 L1526.7,306.3 L1527.2,306.2 L1527.7,306.4 L1528.2,306.5 L1528.7,306.8 L1529.2,306.9 L1529.7,306.7 L1530.3,306.8 L1530.8,306.6 L1531.3,306.9 L1531.8,306.8 L1532.3,307.0 L1532.8,307.0 L1533.3,307.0 L1533.8,307.2 L1534.3,307.5 L1534.9,307.7 L1535.4,308.2 L1535.9,306.8 L1536.4,306.9 L1536.9,305.3 L1537.4,308.3 L1537.9,308.2 L1538.4,309.0 L1538.9,307.4 L1539.5,306.7 L1540.0,306.7 L1540.5,306.7 L1541.0,307.2 L1541.5,305.8 L1542.0,305.5 L1542.5,305.6 L1543.0,307.9 L1543.6,308.0 L1544.1,309.1 L1544.6,309.0 L1545.1,307.4 L1545.6,305.9 L1546.1,305.4 L1546.6,306.3 L1547.1,305.8 L1547.6,305.9 L1548.2,305.3 L1548.7,305.9 L1549.2,306.3 L1549.7,306.5 L1550.2,308.9 L1550.7,309.5 L1551.2,310.5 L1551.7,309.6 L1552.2,309.4 L1552.8,310.1 L1553.3,310.0 L1553.8,308.2 L1554.3,307.6 L1554.8,307.8 L1555.3,310.4 L1555.8,313.9 L1556.3,316.5 L1556.8,318.7 L1557.4,316.1 L1557.9,314.6 L1558.4,311.6 L1558.9,311.2 L1559.4,310.5 L1559.9,310.0 L1560.4,310.1 L1560.9,307.1 L1561.5,306.1 L1562.0,304.5 L1562.5,306.3 L1563.0,307.5 L1563.5,310.6 L1564.0,311.4 L1564.5,312.8 L1565.0,311.5 L1565.5,311.6 L1566.1,310.9 L1566.6,311.7 L1567.1,310.5 L1567.6,309.4 L1568.1,309.0 L1568.6,310.3 L1569.1,311.7 L1569.6,310.8 L1570.1,310.6 L1570.7,310.9 L1571.2,311.8 L1571.7,312.2 L1572.2,312.2 L1572.7,312.3 L1573.2,312.2 L1573.7,312.1 L1574.2,311.8 L1574.8,311.7 L1575.3,311.6 L1575.8,311.8 L1576.3,312.0 L1576.8,311.7 L1577.3,311.7 L1577.8,311.8 L1578.3,312.0 L1578.8,312.0 L1579.4,312.0 L1579.9,311.9 L1580.4,312.0 L1580.9,312.0 L1581.4,312.4 L1581.9,312.5 L1582.4,312.6 L1582.9,312.8 L1583.4,312.7 L1584.0,312.8 L1584.5,312.5 L1585.0,312.5 L1585.5,312.0 L1586.0,311.8 L1586.5,311.3 L1587.0,311.2 L1587.5,311.2 L1588.1,311.4 L1588.6,311.3 L1589.1,311.0 L1589.6,310.6 L1590.1,310.4 L1590.6,310.3 L1591.1,310.4 L1591.6,310.5 L1592.1,310.4 L1592.7,310.3 L1593.2,310.5 L1593.7,310.8 L1594.2,310.8 L1594.7,310.5 L1595.2,310.6 L1595.7,310.5 L1596.2,310.7 L1596.7,310.4 L1597.3,310.2 L1597.8,309.7 L1598.3,309.8 L1598.8,309.8 L1599.3,310.2 L1599.8,309.9 L1600.3,309.9 L1600.8,309.7 L1601.4,309.7 L1601.9,309.7 L1602.4,309.5 L1602.9,309.7 L1603.4,309.8 L1603.9,310.2 L1604.4,310.5 L1604.9,310.8 L1605.4,310.7 L1606.0,310.7 L1606.5,310.6 L1607.0,310.9 L1607.5,311.0 L1608.0,311.2 L1608.5,311.1 L1609.0,311.0 L1609.5,311.1 L1610.0,310.8 L1610.6,310.8 L1611.1,310.6 L1611.6,310.6 L1612.1,310.4 L1612.6,310.6 L1613.1,310.4 L1613.6,310.6 L1614.1,310.4 L1614.6,310.3 L1615.2,310.4 L1615.7,310.6 L1616.2,310.9 L1616.7,310.8 L1617.2,310.9 L1617.7,310.8 L1618.2,311.0 L1618.7,310.9 L1619.3,311.0 L1619.8,310.7 L1620.3,310.6 L1620.8,310.5 L1621.3,310.4 L1621.8,310.2 L1622.3,310.2 L1622.8,310.1 L1623.3,309.9 L1623.9,309.3 L1624.4,308.9 L1624.9,308.7 L1625.4,308.7 L1625.9,309.0 L1626.4,309.0 L1626.9,309.0 L1627.4,308.8 L1627.9,308.9 L1628.5,309.1 L1629.0,309.2 L1629.5,309.1 L1630.0,309.2 L1630.5,309.4 L1631.0,309.7 L1631.5,309.9 L1632.0,309.9 L1632.6,309.8 L1633.1,309.6 L1633.6,309.4 L1634.1,309.3 L1634.6,309.4 L1635.1,309.4 L1635.6,309.5 L1636.1,309.4 L1636.6,309.3 L1637.2,309.3 L1637.7,309.5 L1638.2,309.7 L1638.7,309.8 L1639.2,309.9 L1639.7,310.1 L1640.2,310.0 L1640.7,309.8 L1641.2,309.9 L1641.8,310.0 L1642.3,310.1 L1642.8,310.2 L1643.3,310.4 L1643.8,310.5 L1644.3,310.3 L1644.8,310.4 L1645.3,310.4 L1645.9,310.1 L1646.4,309.7 L1646.9,309.3 L1647.4,309.3 L1647.9,309.0 L1648.4,309.0 L1648.9,309.0 L1649.4,309.0 L1649.9,309.0 L1650.5,308.7 L1651.0,308.8 L1651.5,308.6 L1652.0,308.7 L1652.5,308.7 L1653.0,308.8 L1653.5,308.8 L1654.0,308.9 L1654.5,308.9 L1655.1,309.0 L1655.6,309.0 L1656.1,309.2 L1656.6,309.2 L1657.1,309.1 L1657.6,308.8 L1658.1,308.7 L1658.6,308.5 L1659.1,308.7 L1659.7,308.6 L1660.2,308.4 L1660.7,308.1 L1661.2,308.1 L1661.7,308.3 L1662.2,308.6 L1662.7,308.7 L1663.2,308.9 L1663.8,309.1 L1664.3,309.1 L1664.8,309.2 L1665.3,309.2 L1665.8,309.4 L1666.3,309.8 L1666.8,310.1 L1667.3,310.3 L1667.8,310.1 L1668.4,310.1 L1668.9,310.0 L1669.4,310.1 L1669.9,310.4 L1670.4,310.3 L1670.9,310.1 L1671.4,310.0 L1671.9,310.1 L1672.4,310.0 L1673.0,309.9 L1673.5,309.7 L1674.0,309.9 L1674.5,309.9 L1675.0,310.0 L1675.5,309.9 L1676.0,310.0 L1676.5,310.1 L1677.1,310.4 L1677.6,310.2 L1678.1,310.4 L1678.6,310.2 L1679.1,310.4 L1679.6,310.3 L1680.1,310.1 L1680.6,310.1 L1681.1,309.9 L1681.7,309.9 L1682.2,309.7 L1682.7,309.6 L1683.2,309.5 L1683.7,309.3 L1684.2,309.0 L1684.7,308.8 L1685.2,308.4 L1685.7,308.4 L1686.3,308.4 L1686.8,308.7 L1687.3,308.8 L1687.8,308.7 L1688.3,308.6 L1688.8,308.6 L1689.3,308.6 L1689.8,308.9 L1690.4,309.0 L1690.9,309.2 L1691.4,308.8 L1691.9,308.7 L1692.4,308.8 L1692.9,309.0 L1693.4,308.9 L1693.9,308.6 L1694.4,308.7 L1695.0,308.8 L1695.5,308.8 L1696.0,308.6 L1696.5,308.3 L1697.0,308.1 L1697.5,308.2 L1698.0,308.5 L1698.5,308.8 L1699.0,308.8 L1699.6,308.8 L1700.1,308.8 L1700.6,308.9 L1701.1,309.0 L1701.6,309.2 L1702.1,309.4 L1702.6,309.8 L1703.1,310.0 L1703.7,310.1 L1704.2,310.1 L1704.7,309.9 L1705.2,309.7 L1705.7,309.4 L1706.2,309.5 L1706.7,309.5 L1707.2,309.5 L1707.7,309.0 L1708.3,308.9 L1708.8,308.7 L1709.3,308.6 L1709.8,308.3 L1710.3,308.3 L1710.8,308.2 L1711.3,308.3 L1711.8,308.2 L1712.3,308.1 L1712.9,308.2 L1713.4,308.3 L1713.9,308.5 L1714.4,308.3 L1714.9,308.1 L1715.4,308.0 L1715.9,308.2 L1716.4,308.4 L1716.9,308.4 L1717.5,308.2 L1718.0,308.1 L1718.5,308.0 L1719.0,307.8 L1719.5,307.5 L1720.0,307.5 L1720.5,307.4 L1721.0,307.6 L1721.6,307.5 L1722.1,307.5 L1722.6,307.3 L1723.1,307.0 L1723.6,307.0 L1724.1,307.3 L1724.6,307.7 L1725.1,308.0 L1725.6,308.2 L1726.2,308.6 L1726.7,308.4 L1727.2,308.5 L1727.7,308.4 L1728.2,308.7 L1728.7,308.8 L1729.2,308.8 L1729.7,308.7 L1730.2,308.8 L1730.8,309.0 L1731.3,308.9 L1731.8,308.8 L1732.3,308.5 L1732.8,308.5 L1733.3,308.7 L1733.8,308.6 L1734.3,308.6 L1734.9,308.6 L1735.4,308.7 L1735.9,308.7 L1736.4,308.7 L1736.9,308.7 L1737.4,308.7 L1737.9,308.8 L1738.4,308.7 L1738.9,308.8 L1739.5,309.0 L1740.0,309.2 L1740.5,309.2 L1741.0,309.0 L1741.5,308.8 L1742.0,308.7 L1742.5,308.6 L1743.0,308.6 L1743.5,308.3 L1744.1,308.2 L1744.6,307.9 L1745.1,308.0 L1745.6,307.9 L1746.1,307.9 L1746.6,307.6 L1747.1,307.5 L1747.6,307.5 L1748.2,307.9 L1748.7,308.1 L1749.2,308.1 L1749.7,307.9 L1750.2,308.1 L1750.7,308.4 L1751.2,308.7 L1751.7,308.7 L1752.2,308.8 L1752.8,308.9 L1753.3,308.7 L1753.8,308.7 L1754.3,308.7 L1754.8,308.7" fill="none" stroke="#101010" stroke-width="1.9" stroke-linejoin="round"/>
<path d="M1422.3,259.8 L1422.8,258.0 L1423.3,256.0 L1423.9,254.3 L1424.4,252.6 L1424.9,251.0 L1425.4,249.5 L1425.9,247.7 L1426.4,246.4 L1426.9,244.7 L1427.4,243.4 L1428.0,241.7 L1428.5,240.4 L1429.0,239.0 L1429.5,237.8 L1430.0,236.6 L1430.5,235.6 L1431.0,234.4 L1431.5,233.3 L1432.0,231.9 L1432.6,230.8 L1433.1,229.4 L1433.6,228.5 L1434.1,227.6 L1434.6,227.1 L1435.1,226.2 L1435.6,225.7 L1436.1,224.9 L1436.6,224.4 L1437.2,223.7 L1437.7,223.3 L1438.2,222.6 L1438.7,221.7 L1439.2,220.9 L1439.7,220.3 L1440.2,219.7 L1440.7,219.3 L1441.3,219.2 L1441.8,218.8 L1442.3,218.4 L1442.8,218.1 L1443.3,218.3 L1443.8,218.6 L1444.3,218.5 L1444.8,218.7 L1445.3,218.9 L1445.9,219.6 L1446.4,220.0 L1446.9,220.5 L1447.4,221.1 L1447.9,221.9 L1448.4,222.5 L1448.9,223.0 L1449.4,223.5 L1449.9,224.0 L1450.5,224.7 L1451.0,225.3 L1451.5,225.9 L1452.0,226.6 L1452.5,227.1 L1453.0,227.7 L1453.5,228.5 L1454.0,229.3 L1454.5,230.1 L1455.1,230.7 L1455.6,231.5 L1456.1,232.2 L1456.6,233.2 L1457.1,233.9 L1457.6,234.6 L1458.1,235.4 L1458.6,236.0 L1459.2,236.9 L1459.7,237.5 L1460.2,238.6 L1460.7,239.2 L1461.2,240.0 L1461.7,240.5 L1462.2,241.2 L1462.7,241.8 L1463.2,242.4 L1463.8,243.2 L1464.3,243.5 L1464.8,243.8 L1465.3,244.1 L1465.8,244.5 L1466.3,245.0 L1466.8,245.4 L1467.3,246.0 L1467.8,246.1 L1468.4,246.5 L1468.9,247.1 L1469.4,247.8 L1469.9,248.0 L1470.4,248.3 L1470.9,248.6 L1471.4,249.1 L1471.9,249.5 L1472.5,249.7 L1473.0,249.9 L1473.5,250.2 L1474.0,250.5 L1474.5,251.1 L1475.0,251.4 L1475.5,251.8 L1476.0,252.0 L1476.5,252.2 L1477.1,252.4 L1477.6,252.8 L1478.1,253.1 L1478.6,253.6 L1479.1,253.5 L1479.6,253.6 L1480.1,253.6 L1480.6,254.0 L1481.1,254.3 L1481.7,254.4 L1482.2,254.6 L1482.7,254.9 L1483.2,255.0 L1483.7,254.9 L1484.2,254.9 L1484.7,255.0 L1485.2,255.2 L1485.8,255.3 L1486.3,255.5 L1486.8,255.8 L1487.3,255.9 L1487.8,256.1 L1488.3,255.8 L1488.8,255.9 L1489.3,255.9 L1489.8,256.3 L1490.4,256.5 L1490.9,256.6 L1491.4,256.6 L1491.9,256.7 L1492.4,256.6 L1492.9,256.9 L1493.4,256.9 L1493.9,257.0 L1494.4,257.1 L1495.0,257.2 L1495.5,257.3 L1496.0,257.3 L1496.5,257.5 L1497.0,257.8 L1497.5,257.7 L1498.0,257.8 L1498.5,257.8 L1499.1,257.9 L1499.6,258.1 L1500.1,257.9 L1500.6,258.0 L1501.1,257.8 L1501.6,258.0 L1502.1,258.3 L1502.6,258.6 L1503.1,258.5 L1503.7,258.5 L1504.2,258.4 L1504.7,258.5 L1505.2,258.6 L1505.7,258.6 L1506.2,258.9 L1506.7,258.9 L1507.2,259.1 L1507.7,259.2 L1508.3,259.1 L1508.8,259.0 L1509.3,259.3 L1509.8,259.8 L1510.3,259.9 L1510.8,259.7 L1511.3,259.6 L1511.8,259.6 L1512.3,259.8 L1512.9,259.7 L1513.4,259.9 L1513.9,259.7 L1514.4,259.9 L1514.9,259.9 L1515.4,260.1 L1515.9,260.2 L1516.4,260.3 L1517.0,260.4 L1517.5,260.5 L1518.0,260.5 L1518.5,260.5 L1519.0,260.3 L1519.5,260.5 L1520.0,260.6 L1520.5,260.9 L1521.0,261.1 L1521.6,261.2 L1522.1,261.2 L1522.6,261.3 L1523.1,261.1 L1523.6,261.4 L1524.1,261.5 L1524.6,261.8 L1525.1,261.6 L1525.6,261.6 L1526.2,261.6 L1526.7,262.0 L1527.2,262.1 L1527.7,262.3 L1528.2,262.1 L1528.7,262.0 L1529.2,261.9 L1529.7,262.1 L1530.3,262.0 L1530.8,262.3 L1531.3,262.5 L1531.8,262.9 L1532.3,262.8 L1532.8,262.6 L1533.3,262.7 L1533.8,262.7 L1534.3,261.7 L1534.9,262.3 L1535.4,262.9 L1535.9,265.3 L1536.4,264.6 L1536.9,263.6 L1537.4,262.0 L1537.9,261.7 L1538.4,261.4 L1538.9,261.9 L1539.5,261.8 L1540.0,263.5 L1540.5,264.2 L1541.0,264.7 L1541.5,264.7 L1542.0,263.9 L1542.5,263.2 L1543.0,262.4 L1543.6,263.4 L1544.1,264.9 L1544.6,264.3 L1545.1,264.4 L1545.6,263.9 L1546.1,265.0 L1546.6,264.5 L1547.1,263.9 L1547.6,264.1 L1548.2,265.2 L1548.7,265.0 L1549.2,264.6 L1549.7,263.2 L1550.2,264.2 L1550.7,263.9 L1551.2,263.6 L1551.7,262.7 L1552.2,263.5 L1552.8,264.7 L1553.3,265.4 L1553.8,265.2 L1554.3,264.7 L1554.8,266.1 L1555.3,269.4 L1555.8,272.4 L1556.3,274.6 L1556.8,274.2 L1557.4,272.0 L1557.9,268.8 L1558.4,266.7 L1558.9,265.7 L1559.4,265.8 L1559.9,264.4 L1560.4,264.3 L1560.9,262.7 L1561.5,262.0 L1562.0,261.6 L1562.5,263.6 L1563.0,265.2 L1563.5,268.1 L1564.0,267.4 L1564.5,267.1 L1565.0,264.3 L1565.5,264.4 L1566.1,265.6 L1566.6,268.1 L1567.1,267.1 L1567.6,267.6 L1568.1,266.0 L1568.6,268.9 L1569.1,268.0 L1569.6,268.1 L1570.1,266.5 L1570.7,266.5 L1571.2,267.6 L1571.7,267.6 L1572.2,267.5 L1572.7,267.3 L1573.2,267.2 L1573.7,267.2 L1574.2,267.4 L1574.8,267.3 L1575.3,267.2 L1575.8,267.2 L1576.3,267.4 L1576.8,267.5 L1577.3,267.5 L1577.8,267.4 L1578.3,267.3 L1578.8,267.3 L1579.4,267.4 L1579.9,267.3 L1580.4,267.3 L1580.9,267.2 L1581.4,267.2 L1581.9,266.9 L1582.4,266.7 L1582.9,266.6 L1583.4,266.5 L1584.0,266.6 L1584.5,266.4 L1585.0,266.0 L1585.5,265.8 L1586.0,265.7 L1586.5,265.7 L1587.0,265.6 L1587.5,265.5 L1588.1,265.7 L1588.6,265.9 L1589.1,265.9 L1589.6,266.0 L1590.1,266.1 L1590.6,266.3 L1591.1,266.4 L1591.6,266.3 L1592.1,266.5 L1592.7,266.3 L1593.2,266.4 L1593.7,266.2 L1594.2,266.3 L1594.7,266.4 L1595.2,266.1 L1595.7,266.0 L1596.2,265.9 L1596.7,266.0 L1597.3,266.0 L1597.8,266.0 L1598.3,266.0 L1598.8,266.2 L1599.3,266.0 L1599.8,266.2 L1600.3,266.4 L1600.8,266.6 L1601.4,267.0 L1601.9,267.1 L1602.4,267.6 L1602.9,267.6 L1603.4,267.4 L1603.9,267.2 L1604.4,266.8 L1604.9,267.0 L1605.4,266.9 L1606.0,266.9 L1606.5,266.8 L1607.0,266.8 L1607.5,266.5 L1608.0,266.2 L1608.5,266.0 L1609.0,265.9 L1609.5,266.0 L1610.0,265.9 L1610.6,266.0 L1611.1,265.8 L1611.6,265.9 L1612.1,265.7 L1612.6,265.9 L1613.1,265.8 L1613.6,265.8 L1614.1,265.7 L1614.6,265.8 L1615.2,265.8 L1615.7,265.7 L1616.2,265.6 L1616.7,265.5 L1617.2,265.3 L1617.7,265.1 L1618.2,265.3 L1618.7,265.1 L1619.3,264.8 L1619.8,264.6 L1620.3,264.8 L1620.8,265.2 L1621.3,265.0 L1621.8,265.0 L1622.3,264.7 L1622.8,265.1 L1623.3,265.1 L1623.9,265.3 L1624.4,265.2 L1624.9,265.5 L1625.4,265.7 L1625.9,265.9 L1626.4,266.0 L1626.9,266.1 L1627.4,266.2 L1627.9,266.3 L1628.5,266.3 L1629.0,266.3 L1629.5,266.2 L1630.0,266.4 L1630.5,266.2 L1631.0,266.3 L1631.5,266.0 L1632.0,266.4 L1632.6,266.3 L1633.1,266.5 L1633.6,266.1 L1634.1,265.9 L1634.6,265.9 L1635.1,266.1 L1635.6,266.1 L1636.1,266.0 L1636.6,266.0 L1637.2,266.3 L1637.7,266.6 L1638.2,266.6 L1638.7,266.2 L1639.2,266.1 L1639.7,266.1 L1640.2,266.4 L1640.7,266.1 L1641.2,266.1 L1641.8,265.9 L1642.3,266.1 L1642.8,265.9 L1643.3,265.6 L1643.8,265.1 L1644.3,265.0 L1644.8,264.8 L1645.3,264.8 L1645.9,264.6 L1646.4,264.8 L1646.9,264.9 L1647.4,265.0 L1647.9,264.8 L1648.4,264.8 L1648.9,264.8 L1649.4,264.9 L1649.9,265.1 L1650.5,265.1 L1651.0,265.3 L1651.5,265.1 L1652.0,265.1 L1652.5,265.1 L1653.0,265.1 L1653.5,265.1 L1654.0,265.0 L1654.5,265.0 L1655.1,265.1 L1655.6,265.2 L1656.1,265.0 L1656.6,265.0 L1657.1,264.9 L1657.6,264.8 L1658.1,264.7 L1658.6,264.8 L1659.1,265.2 L1659.7,265.5 L1660.2,265.5 L1660.7,265.5 L1661.2,265.6 L1661.7,265.6 L1662.2,265.8 L1662.7,266.0 L1663.2,266.4 L1663.8,266.4 L1664.3,266.3 L1664.8,266.3 L1665.3,266.2 L1665.8,266.1 L1666.3,266.0 L1666.8,266.2 L1667.3,266.0 L1667.8,265.9 L1668.4,265.6 L1668.9,265.6 L1669.4,265.5 L1669.9,265.4 L1670.4,265.3 L1670.9,265.2 L1671.4,265.1 L1671.9,265.2 L1672.4,265.2 L1673.0,265.4 L1673.5,265.3 L1674.0,265.3 L1674.5,265.2 L1675.0,265.4 L1675.5,265.4 L1676.0,265.3 L1676.5,264.9 L1677.1,264.8 L1677.6,264.8 L1678.1,264.9 L1678.6,264.6 L1679.1,264.5 L1679.6,264.3 L1680.1,264.4 L1680.6,264.4 L1681.1,264.1 L1681.7,264.0 L1682.2,263.8 L1682.7,264.0 L1683.2,264.2 L1683.7,264.2 L1684.2,264.1 L1684.7,263.9 L1685.2,264.1 L1685.7,264.5 L1686.3,265.0 L1686.8,265.3 L1687.3,265.1 L1687.8,265.2 L1688.3,265.2 L1688.8,265.4 L1689.3,265.3 L1689.8,265.2 L1690.4,265.2 L1690.9,265.5 L1691.4,265.7 L1691.9,265.4 L1692.4,265.1 L1692.9,265.0 L1693.4,265.2 L1693.9,265.1 L1694.4,265.1 L1695.0,265.0 L1695.5,265.3 L1696.0,265.4 L1696.5,265.5 L1697.0,265.5 L1697.5,265.4 L1698.0,265.7 L1698.5,266.0 L1699.0,266.1 L1699.6,265.9 L1700.1,265.9 L1700.6,265.9 L1701.1,265.9 L1701.6,265.6 L1702.1,265.5 L1702.6,265.3 L1703.1,265.0 L1703.7,264.7 L1704.2,264.4 L1704.7,264.3 L1705.2,264.3 L1705.7,264.3 L1706.2,264.2 L1706.7,264.1 L1707.2,263.9 L1707.7,264.0 L1708.3,264.0 L1708.8,264.1 L1709.3,264.4 L1709.8,264.5 L1710.3,264.7 L1710.8,264.5 L1711.3,264.6 L1711.8,264.6 L1712.3,264.7 L1712.9,264.6 L1713.4,264.5 L1713.9,264.5 L1714.4,264.5 L1714.9,264.5 L1715.4,264.3 L1715.9,264.3 L1716.4,264.3 L1716.9,264.4 L1717.5,264.5 L1718.0,264.5 L1718.5,264.5 L1719.0,264.6 L1719.5,264.5 L1720.0,264.8 L1720.5,264.8 L1721.0,265.1 L1721.6,265.4 L1722.1,265.6 L1722.6,266.0 L1723.1,266.0 L1723.6,266.0 L1724.1,265.7 L1724.6,265.6 L1725.1,265.9 L1725.6,266.1 L1726.2,266.0 L1726.7,265.7 L1727.2,265.3 L1727.7,265.5 L1728.2,265.4 L1728.7,265.7 L1729.2,265.5 L1729.7,265.2 L1730.2,265.1 L1730.8,265.0 L1731.3,265.0 L1731.8,264.8 L1732.3,265.0 L1732.8,265.1 L1733.3,265.0 L1733.8,265.1 L1734.3,265.1 L1734.9,265.2 L1735.4,265.0 L1735.9,264.9 L1736.4,265.3 L1736.9,265.3 L1737.4,265.6 L1737.9,265.2 L1738.4,265.0 L1738.9,264.7 L1739.5,264.6 L1740.0,264.4 L1740.5,264.5 L1741.0,264.2 L1741.5,264.3 L1742.0,264.2 L1742.5,264.5 L1743.0,264.7 L1743.5,264.7 L1744.1,264.6 L1744.6,264.4 L1745.1,264.4 L1745.6,264.7 L1746.1,265.3 L1746.6,265.5 L1747.1,265.7 L1747.6,265.6 L1748.2,265.8 L1748.7,265.4 L1749.2,265.6 L1749.7,265.6 L1750.2,265.7 L1750.7,265.5 L1751.2,265.6 L1751.7,265.6 L1752.2,265.7 L1752.8,265.8 L1753.3,266.1 L1753.8,265.8 L1754.3,265.6 L1754.8,265.5" fill="none" stroke="#e8141e" stroke-width="1.9" stroke-linejoin="round"/>
<path d="M1422.3,208.5 L1422.8,206.9 L1423.3,205.3 L1423.9,203.9 L1424.4,202.2 L1424.9,200.7 L1425.4,199.2 L1425.9,197.7 L1426.4,196.2 L1426.9,194.6 L1427.4,193.6 L1428.0,192.6 L1428.5,191.5 L1429.0,190.3 L1429.5,189.1 L1430.0,188.0 L1430.5,186.8 L1431.0,185.8 L1431.5,184.7 L1432.0,183.8 L1432.6,182.7 L1433.1,181.8 L1433.6,180.7 L1434.1,179.7 L1434.6,178.9 L1435.1,178.1 L1435.6,177.3 L1436.1,176.4 L1436.6,175.7 L1437.2,175.0 L1437.7,174.3 L1438.2,173.8 L1438.7,173.4 L1439.2,172.9 L1439.7,172.1 L1440.2,171.3 L1440.7,170.6 L1441.3,170.0 L1441.8,169.2 L1442.3,168.4 L1442.8,167.8 L1443.3,167.3 L1443.8,167.0 L1444.3,166.5 L1444.8,166.4 L1445.3,166.3 L1445.9,166.3 L1446.4,166.0 L1446.9,166.0 L1447.4,166.2 L1447.9,166.5 L1448.4,166.5 L1448.9,167.0 L1449.4,167.5 L1449.9,167.9 L1450.5,168.1 L1451.0,168.6 L1451.5,169.1 L1452.0,169.9 L1452.5,170.5 L1453.0,171.3 L1453.5,172.0 L1454.0,172.7 L1454.5,173.3 L1455.1,173.8 L1455.6,174.3 L1456.1,174.8 L1456.6,175.6 L1457.1,176.2 L1457.6,177.2 L1458.1,178.0 L1458.6,178.9 L1459.2,179.4 L1459.7,180.0 L1460.2,180.7 L1460.7,181.4 L1461.2,182.2 L1461.7,183.2 L1462.2,183.9 L1462.7,184.8 L1463.2,185.5 L1463.8,186.1 L1464.3,186.8 L1464.8,187.3 L1465.3,188.1 L1465.8,188.7 L1466.3,189.6 L1466.8,190.2 L1467.3,190.9 L1467.8,191.3 L1468.4,191.6 L1468.9,192.1 L1469.4,192.6 L1469.9,193.2 L1470.4,193.4 L1470.9,193.8 L1471.4,194.3 L1471.9,194.9 L1472.5,195.3 L1473.0,195.6 L1473.5,196.0 L1474.0,196.4 L1474.5,196.7 L1475.0,197.0 L1475.5,197.4 L1476.0,197.8 L1476.5,198.0 L1477.1,198.2 L1477.6,198.6 L1478.1,199.0 L1478.6,199.4 L1479.1,199.7 L1479.6,200.0 L1480.1,200.5 L1480.6,200.8 L1481.1,201.1 L1481.7,201.1 L1482.2,201.4 L1482.7,201.7 L1483.2,202.2 L1483.7,202.6 L1484.2,203.1 L1484.7,203.2 L1485.2,203.1 L1485.8,202.8 L1486.3,203.1 L1486.8,203.4 L1487.3,203.7 L1487.8,203.8 L1488.3,204.3 L1488.8,204.5 L1489.3,204.7 L1489.8,204.7 L1490.4,204.8 L1490.9,204.9 L1491.4,204.9 L1491.9,205.1 L1492.4,205.4 L1492.9,205.7 L1493.4,206.0 L1493.9,206.1 L1494.4,206.1 L1495.0,206.3 L1495.5,206.5 L1496.0,206.7 L1496.5,207.0 L1497.0,207.1 L1497.5,207.2 L1498.0,207.3 L1498.5,207.4 L1499.1,207.6 L1499.6,207.7 L1500.1,208.1 L1500.6,207.8 L1501.1,208.1 L1501.6,208.1 L1502.1,208.3 L1502.6,208.4 L1503.1,208.6 L1503.7,209.0 L1504.2,209.1 L1504.7,209.1 L1505.2,208.9 L1505.7,209.1 L1506.2,209.3 L1506.7,209.5 L1507.2,209.4 L1507.7,209.6 L1508.3,209.4 L1508.8,209.7 L1509.3,209.6 L1509.8,209.9 L1510.3,209.9 L1510.8,210.1 L1511.3,210.4 L1511.8,210.4 L1512.3,210.9 L1512.9,211.0 L1513.4,211.3 L1513.9,211.2 L1514.4,211.4 L1514.9,211.4 L1515.4,211.4 L1515.9,211.6 L1516.4,211.6 L1517.0,212.0 L1517.5,212.1 L1518.0,212.5 L1518.5,212.4 L1519.0,212.4 L1519.5,212.3 L1520.0,212.5 L1520.5,212.4 L1521.0,212.5 L1521.6,212.6 L1522.1,213.0 L1522.6,213.3 L1523.1,213.5 L1523.6,213.3 L1524.1,213.2 L1524.6,213.3 L1525.1,213.3 L1525.6,213.5 L1526.2,213.7 L1526.7,213.9 L1527.2,213.8 L1527.7,213.7 L1528.2,214.0 L1528.7,214.1 L1529.2,214.3 L1529.7,214.3 L1530.3,214.4 L1530.8,214.5 L1531.3,214.6 L1531.8,214.9 L1532.3,214.9 L1532.8,215.2 L1533.3,215.2 L1533.8,215.3 L1534.3,214.8 L1534.9,215.2 L1535.4,215.2 L1535.9,215.1 L1536.4,215.7 L1536.9,215.9 L1537.4,216.3 L1537.9,216.5 L1538.4,217.3 L1538.9,216.6 L1539.5,215.1 L1540.0,215.1 L1540.5,215.8 L1541.0,216.3 L1541.5,214.9 L1542.0,214.7 L1542.5,216.7 L1543.0,218.0 L1543.6,217.9 L1544.1,215.3 L1544.6,215.6 L1545.1,217.4 L1545.6,218.5 L1546.1,218.6 L1546.6,217.8 L1547.1,218.9 L1547.6,218.0 L1548.2,217.7 L1548.7,216.7 L1549.2,218.0 L1549.7,219.6 L1550.2,220.9 L1550.7,219.9 L1551.2,220.0 L1551.7,218.8 L1552.2,218.0 L1552.8,217.3 L1553.3,218.0 L1553.8,218.6 L1554.3,217.8 L1554.8,218.7 L1555.3,221.1 L1555.8,224.6 L1556.3,227.6 L1556.8,228.7 L1557.4,227.1 L1557.9,223.0 L1558.4,221.8 L1558.9,219.8 L1559.4,219.6 L1559.9,218.2 L1560.4,218.1 L1560.9,216.8 L1561.5,215.2 L1562.0,215.0 L1562.5,216.2 L1563.0,218.4 L1563.5,220.4 L1564.0,222.0 L1564.5,222.3 L1565.0,221.4 L1565.5,220.4 L1566.1,219.7 L1566.6,218.9 L1567.1,219.6 L1567.6,220.2 L1568.1,221.7 L1568.6,222.3 L1569.1,222.1 L1569.6,220.7 L1570.1,220.2 L1570.7,220.0 L1571.2,220.9 L1571.7,220.7 L1572.2,220.8 L1572.7,220.8 L1573.2,220.9 L1573.7,220.8 L1574.2,221.2 L1574.8,221.0 L1575.3,221.0 L1575.8,220.9 L1576.3,220.8 L1576.8,220.9 L1577.3,220.5 L1577.8,220.5 L1578.3,220.2 L1578.8,220.1 L1579.4,220.1 L1579.9,219.8 L1580.4,219.6 L1580.9,219.5 L1581.4,219.6 L1581.9,219.7 L1582.4,219.6 L1582.9,219.9 L1583.4,219.9 L1584.0,219.9 L1584.5,219.9 L1585.0,219.9 L1585.5,220.0 L1586.0,220.3 L1586.5,220.6 L1587.0,220.9 L1587.5,221.0 L1588.1,220.8 L1588.6,220.8 L1589.1,220.7 L1589.6,221.1 L1590.1,221.0 L1590.6,221.0 L1591.1,221.1 L1591.6,221.1 L1592.1,221.0 L1592.7,220.6 L1593.2,220.4 L1593.7,220.6 L1594.2,220.7 L1594.7,220.8 L1595.2,220.8 L1595.7,220.9 L1596.2,220.7 L1596.7,220.8 L1597.3,220.8 L1597.8,221.1 L1598.3,221.2 L1598.8,221.5 L1599.3,221.5 L1599.8,221.4 L1600.3,221.2 L1600.8,221.2 L1601.4,221.1 L1601.9,220.9 L1602.4,220.6 L1602.9,220.4 L1603.4,220.3 L1603.9,219.9 L1604.4,219.7 L1604.9,219.7 L1605.4,219.7 L1606.0,219.3 L1606.5,219.0 L1607.0,219.2 L1607.5,219.6 L1608.0,219.6 L1608.5,219.5 L1609.0,219.3 L1609.5,219.5 L1610.0,219.4 L1610.6,219.5 L1611.1,219.6 L1611.6,219.7 L1612.1,219.9 L1612.6,219.8 L1613.1,219.8 L1613.6,219.9 L1614.1,219.9 L1614.6,220.0 L1615.2,219.9 L1615.7,219.6 L1616.2,219.3 L1616.7,219.1 L1617.2,219.3 L1617.7,219.6 L1618.2,219.6 L1618.7,219.5 L1619.3,219.5 L1619.8,219.8 L1620.3,220.1 L1620.8,220.0 L1621.3,220.1 L1621.8,220.1 L1622.3,220.6 L1622.8,220.5 L1623.3,220.6 L1623.9,220.5 L1624.4,220.7 L1624.9,220.7 L1625.4,220.5 L1625.9,220.6 L1626.4,220.4 L1626.9,220.5 L1627.4,220.3 L1627.9,220.3 L1628.5,220.0 L1629.0,220.0 L1629.5,219.9 L1630.0,219.8 L1630.5,219.7 L1631.0,219.6 L1631.5,219.6 L1632.0,219.6 L1632.6,219.6 L1633.1,219.6 L1633.6,219.7 L1634.1,219.6 L1634.6,219.8 L1635.1,219.8 L1635.6,219.8 L1636.1,219.8 L1636.6,219.6 L1637.2,219.6 L1637.7,219.2 L1638.2,219.0 L1638.7,218.9 L1639.2,218.9 L1639.7,218.6 L1640.2,218.5 L1640.7,218.3 L1641.2,218.1 L1641.8,218.0 L1642.3,218.0 L1642.8,218.3 L1643.3,218.4 L1643.8,218.6 L1644.3,218.7 L1644.8,218.8 L1645.3,218.8 L1645.9,218.7 L1646.4,218.9 L1646.9,219.0 L1647.4,219.3 L1647.9,219.1 L1648.4,219.0 L1648.9,218.9 L1649.4,219.0 L1649.9,219.3 L1650.5,219.2 L1651.0,219.2 L1651.5,219.4 L1652.0,219.3 L1652.5,219.3 L1653.0,219.1 L1653.5,219.3 L1654.0,219.2 L1654.5,219.2 L1655.1,219.0 L1655.6,219.0 L1656.1,219.2 L1656.6,219.5 L1657.1,219.6 L1657.6,219.8 L1658.1,220.0 L1658.6,220.2 L1659.1,220.0 L1659.7,220.1 L1660.2,219.8 L1660.7,219.9 L1661.2,219.9 L1661.7,219.7 L1662.2,219.2 L1662.7,218.9 L1663.2,218.7 L1663.8,218.8 L1664.3,218.7 L1664.8,218.5 L1665.3,218.3 L1665.8,218.1 L1666.3,218.1 L1666.8,217.8 L1667.3,218.0 L1667.8,218.0 L1668.4,218.2 L1668.9,218.3 L1669.4,218.3 L1669.9,218.4 L1670.4,218.5 L1670.9,218.6 L1671.4,218.7 L1671.9,218.6 L1672.4,218.4 L1673.0,218.3 L1673.5,218.2 L1674.0,218.2 L1674.5,218.2 L1675.0,218.1 L1675.5,218.1 L1676.0,218.0 L1676.5,218.2 L1677.1,218.1 L1677.6,217.9 L1678.1,217.6 L1678.6,217.7 L1679.1,217.9 L1679.6,218.1 L1680.1,218.4 L1680.6,218.7 L1681.1,218.7 L1681.7,218.8 L1682.2,218.8 L1682.7,218.9 L1683.2,219.0 L1683.7,219.1 L1684.2,219.3 L1684.7,219.4 L1685.2,219.3 L1685.7,219.3 L1686.3,219.1 L1686.8,219.0 L1687.3,219.0 L1687.8,219.2 L1688.3,219.2 L1688.8,219.0 L1689.3,218.8 L1689.8,218.6 L1690.4,218.5 L1690.9,218.5 L1691.4,218.5 L1691.9,218.7 L1692.4,218.6 L1692.9,218.6 L1693.4,218.3 L1693.9,218.5 L1694.4,218.6 L1695.0,218.7 L1695.5,218.7 L1696.0,218.7 L1696.5,218.6 L1697.0,218.5 L1697.5,218.2 L1698.0,218.3 L1698.5,218.0 L1699.0,217.9 L1699.6,217.7 L1700.1,217.5 L1700.6,217.2 L1701.1,217.1 L1701.6,217.0 L1702.1,216.9 L1702.6,216.8 L1703.1,217.0 L1703.7,217.2 L1704.2,217.2 L1704.7,217.3 L1705.2,217.3 L1705.7,217.5 L1706.2,217.6 L1706.7,217.8 L1707.2,217.9 L1707.7,217.8 L1708.3,218.0 L1708.8,218.1 L1709.3,218.2 L1709.8,218.2 L1710.3,218.2 L1710.8,218.1 L1711.3,218.1 L1711.8,218.1 L1712.3,218.1 L1712.9,217.9 L1713.4,217.9 L1713.9,217.9 L1714.4,218.1 L1714.9,218.3 L1715.4,218.2 L1715.9,218.2 L1716.4,218.2 L1716.9,218.4 L1717.5,218.6 L1718.0,218.9 L1718.5,219.2 L1719.0,219.2 L1719.5,219.2 L1720.0,219.0 L1720.5,219.0 L1721.0,219.0 L1721.6,218.7 L1722.1,218.9 L1722.6,218.6 L1723.1,218.7 L1723.6,218.4 L1724.1,218.2 L1724.6,218.0 L1725.1,217.8 L1725.6,217.8 L1726.2,217.5 L1726.7,217.4 L1727.2,217.3 L1727.7,217.2 L1728.2,217.2 L1728.7,217.2 L1729.2,217.3 L1729.7,217.4 L1730.2,217.6 L1730.8,217.7 L1731.3,217.7 L1731.8,217.5 L1732.3,217.6 L1732.8,217.7 L1733.3,217.7 L1733.8,217.7 L1734.3,217.6 L1734.9,217.6 L1735.4,217.6 L1735.9,217.2 L1736.4,217.3 L1736.9,217.1 L1737.4,217.2 L1737.9,217.2 L1738.4,217.3 L1738.9,217.5 L1739.5,217.3 L1740.0,217.4 L1740.5,217.3 L1741.0,217.5 L1741.5,217.8 L1742.0,217.9 L1742.5,218.0 L1743.0,218.0 L1743.5,218.6 L1744.1,218.9 L1744.6,219.1 L1745.1,219.0 L1745.6,218.8 L1746.1,218.4 L1746.6,218.5 L1747.1,218.5 L1747.6,218.7 L1748.2,218.4 L1748.7,218.2 L1749.2,218.2 L1749.7,218.2 L1750.2,218.1 L1750.7,217.9 L1751.2,218.0 L1751.7,218.2 L1752.2,218.3 L1752.8,218.4 L1753.3,218.3 L1753.8,218.3 L1754.3,218.2 L1754.8,218.4" fill="none" stroke="#f07c20" stroke-width="1.9" stroke-linejoin="round"/>
<path d="M1422.3,157.3 L1422.8,156.0 L1423.3,154.7 L1423.9,153.8 L1424.4,152.6 L1424.9,151.2 L1425.4,149.6 L1425.9,148.4 L1426.4,147.5 L1426.9,146.5 L1427.4,145.3 L1428.0,143.9 L1428.5,142.9 L1429.0,141.9 L1429.5,141.2 L1430.0,140.3 L1430.5,139.4 L1431.0,138.4 L1431.5,137.4 L1432.0,136.4 L1432.6,135.8 L1433.1,134.9 L1433.6,134.5 L1434.1,133.7 L1434.6,133.2 L1435.1,132.7 L1435.6,132.3 L1436.1,132.0 L1436.6,131.2 L1437.2,130.4 L1437.7,129.7 L1438.2,129.3 L1438.7,128.9 L1439.2,128.6 L1439.7,127.9 L1440.2,127.6 L1440.7,127.0 L1441.3,126.8 L1441.8,126.3 L1442.3,126.1 L1442.8,125.6 L1443.3,125.4 L1443.8,124.8 L1444.3,124.5 L1444.8,123.9 L1445.3,123.4 L1445.9,122.7 L1446.4,122.1 L1446.9,121.6 L1447.4,121.1 L1447.9,120.5 L1448.4,120.0 L1448.9,119.6 L1449.4,119.2 L1449.9,119.0 L1450.5,118.6 L1451.0,118.7 L1451.5,118.1 L1452.0,118.1 L1452.5,117.8 L1453.0,117.9 L1453.5,117.9 L1454.0,118.1 L1454.5,118.6 L1455.1,118.9 L1455.6,118.9 L1456.1,119.1 L1456.6,119.4 L1457.1,120.0 L1457.6,120.6 L1458.1,121.4 L1458.6,122.0 L1459.2,122.4 L1459.7,122.8 L1460.2,123.2 L1460.7,123.6 L1461.2,124.0 L1461.7,124.5 L1462.2,125.0 L1462.7,125.3 L1463.2,125.6 L1463.8,126.1 L1464.3,126.6 L1464.8,126.9 L1465.3,127.2 L1465.8,127.5 L1466.3,127.9 L1466.8,128.3 L1467.3,128.7 L1467.8,129.1 L1468.4,129.7 L1468.9,130.1 L1469.4,130.4 L1469.9,130.6 L1470.4,130.8 L1470.9,131.1 L1471.4,131.4 L1471.9,132.0 L1472.5,132.2 L1473.0,132.5 L1473.5,132.7 L1474.0,133.2 L1474.5,133.7 L1475.0,134.1 L1475.5,134.6 L1476.0,135.0 L1476.5,135.4 L1477.1,135.8 L1477.6,136.1 L1478.1,136.2 L1478.6,136.2 L1479.1,136.7 L1479.6,137.1 L1480.1,137.4 L1480.6,137.8 L1481.1,138.3 L1481.7,138.5 L1482.2,138.6 L1482.7,138.6 L1483.2,139.1 L1483.7,139.6 L1484.2,140.1 L1484.7,140.4 L1485.2,140.7 L1485.8,141.1 L1486.3,141.3 L1486.8,141.3 L1487.3,141.5 L1487.8,141.9 L1488.3,142.4 L1488.8,142.6 L1489.3,142.8 L1489.8,142.8 L1490.4,143.3 L1490.9,143.8 L1491.4,143.9 L1491.9,144.1 L1492.4,144.1 L1492.9,144.7 L1493.4,145.0 L1493.9,145.3 L1494.4,145.5 L1495.0,145.8 L1495.5,146.3 L1496.0,146.7 L1496.5,146.8 L1497.0,146.9 L1497.5,147.2 L1498.0,147.4 L1498.5,147.5 L1499.1,147.5 L1499.6,148.1 L1500.1,148.5 L1500.6,148.7 L1501.1,148.8 L1501.6,149.2 L1502.1,149.6 L1502.6,149.9 L1503.1,150.1 L1503.7,150.2 L1504.2,150.1 L1504.7,150.2 L1505.2,150.5 L1505.7,150.9 L1506.2,151.3 L1506.7,151.6 L1507.2,151.9 L1507.7,152.2 L1508.3,152.4 L1508.8,152.5 L1509.3,152.7 L1509.8,152.9 L1510.3,153.0 L1510.8,153.3 L1511.3,153.7 L1511.8,154.1 L1512.3,154.0 L1512.9,154.0 L1513.4,154.1 L1513.9,154.6 L1514.4,154.9 L1514.9,155.1 L1515.4,155.2 L1515.9,155.4 L1516.4,155.4 L1517.0,155.7 L1517.5,156.0 L1518.0,156.3 L1518.5,156.5 L1519.0,156.6 L1519.5,156.8 L1520.0,156.8 L1520.5,157.0 L1521.0,157.0 L1521.6,157.5 L1522.1,157.8 L1522.6,158.2 L1523.1,158.3 L1523.6,158.7 L1524.1,158.8 L1524.6,159.2 L1525.1,159.1 L1525.6,159.2 L1526.2,159.3 L1526.7,159.5 L1527.2,159.8 L1527.7,160.1 L1528.2,160.2 L1528.7,160.3 L1529.2,160.4 L1529.7,160.4 L1530.3,160.7 L1530.8,161.0 L1531.3,161.4 L1531.8,161.8 L1532.3,161.9 L1532.8,162.1 L1533.3,162.0 L1533.8,162.1 L1534.3,161.0 L1534.9,162.6 L1535.4,162.6 L1535.9,163.3 L1536.4,161.9 L1536.9,162.6 L1537.4,163.4 L1537.9,163.7 L1538.4,163.5 L1538.9,163.6 L1539.5,163.2 L1540.0,163.3 L1540.5,163.4 L1541.0,164.2 L1541.5,164.2 L1542.0,165.1 L1542.5,164.8 L1543.0,165.5 L1543.6,164.6 L1544.1,165.5 L1544.6,165.5 L1545.1,166.4 L1545.6,166.8 L1546.1,166.2 L1546.6,166.0 L1547.1,165.4 L1547.6,165.4 L1548.2,166.0 L1548.7,166.2 L1549.2,166.4 L1549.7,164.7 L1550.2,164.7 L1550.7,164.5 L1551.2,166.1 L1551.7,166.8 L1552.2,167.7 L1552.8,167.1 L1553.3,166.5 L1553.8,166.7 L1554.3,168.5 L1554.8,170.8 L1555.3,172.6 L1555.8,175.8 L1556.3,177.6 L1556.8,179.8 L1557.4,177.4 L1557.9,173.7 L1558.4,171.7 L1558.9,170.5 L1559.4,170.7 L1559.9,168.4 L1560.4,167.7 L1560.9,167.0 L1561.5,166.9 L1562.0,165.2 L1562.5,166.0 L1563.0,167.1 L1563.5,169.5 L1564.0,170.4 L1564.5,171.3 L1565.0,172.9 L1565.5,172.9 L1566.1,171.9 L1566.6,170.5 L1567.1,171.3 L1567.6,170.8 L1568.1,171.9 L1568.6,171.3 L1569.1,171.2 L1569.6,170.1 L1570.1,169.5 L1570.7,170.4 L1571.2,170.5 L1571.7,170.5 L1572.2,170.7 L1572.7,170.7 L1573.2,170.7 L1573.7,170.5 L1574.2,170.5 L1574.8,170.4 L1575.3,170.7 L1575.8,170.8 L1576.3,170.7 L1576.8,170.5 L1577.3,170.3 L1577.8,170.4 L1578.3,170.5 L1578.8,170.5 L1579.4,170.7 L1579.9,171.1 L1580.4,171.2 L1580.9,171.2 L1581.4,171.1 L1581.9,171.3 L1582.4,171.6 L1582.9,171.8 L1583.4,171.8 L1584.0,171.8 L1584.5,171.9 L1585.0,172.1 L1585.5,172.3 L1586.0,172.3 L1586.5,172.3 L1587.0,172.2 L1587.5,172.3 L1588.1,172.1 L1588.6,172.0 L1589.1,171.8 L1589.6,171.8 L1590.1,171.8 L1590.6,171.6 L1591.1,171.7 L1591.6,171.6 L1592.1,171.7 L1592.7,171.7 L1593.2,171.9 L1593.7,172.0 L1594.2,172.0 L1594.7,172.0 L1595.2,172.2 L1595.7,172.0 L1596.2,171.7 L1596.7,171.5 L1597.3,171.4 L1597.8,171.3 L1598.3,171.0 L1598.8,171.0 L1599.3,170.9 L1599.8,170.8 L1600.3,170.3 L1600.8,170.2 L1601.4,170.1 L1601.9,170.2 L1602.4,170.1 L1602.9,170.3 L1603.4,170.4 L1603.9,170.4 L1604.4,170.4 L1604.9,170.6 L1605.4,170.9 L1606.0,171.0 L1606.5,171.1 L1607.0,171.1 L1607.5,171.3 L1608.0,171.4 L1608.5,171.6 L1609.0,171.6 L1609.5,171.5 L1610.0,171.2 L1610.6,171.2 L1611.1,171.1 L1611.6,171.4 L1612.1,171.3 L1612.6,171.3 L1613.1,171.1 L1613.6,171.0 L1614.1,171.3 L1614.6,171.1 L1615.2,171.0 L1615.7,171.1 L1616.2,171.6 L1616.7,172.0 L1617.2,172.0 L1617.7,172.1 L1618.2,172.0 L1618.7,172.2 L1619.3,171.9 L1619.8,171.9 L1620.3,171.9 L1620.8,171.9 L1621.3,171.8 L1621.8,171.6 L1622.3,171.7 L1622.8,171.5 L1623.3,171.3 L1623.9,171.1 L1624.4,171.1 L1624.9,171.0 L1625.4,170.9 L1625.9,170.7 L1626.4,170.3 L1626.9,170.2 L1627.4,170.2 L1627.9,170.3 L1628.5,170.3 L1629.0,170.5 L1629.5,170.6 L1630.0,170.9 L1630.5,170.9 L1631.0,171.0 L1631.5,170.7 L1632.0,170.5 L1632.6,170.4 L1633.1,170.2 L1633.6,170.1 L1634.1,170.0 L1634.6,170.0 L1635.1,169.8 L1635.6,169.6 L1636.1,169.5 L1636.6,169.7 L1637.2,169.7 L1637.7,169.5 L1638.2,169.5 L1638.7,169.5 L1639.2,169.8 L1639.7,169.9 L1640.2,170.0 L1640.7,170.1 L1641.2,170.3 L1641.8,170.5 L1642.3,170.7 L1642.8,171.0 L1643.3,171.2 L1643.8,171.2 L1644.3,171.1 L1644.8,171.0 L1645.3,170.9 L1645.9,170.9 L1646.4,171.0 L1646.9,170.8 L1647.4,170.6 L1647.9,170.5 L1648.4,170.6 L1648.9,170.5 L1649.4,170.3 L1649.9,170.2 L1650.5,170.2 L1651.0,170.3 L1651.5,170.3 L1652.0,170.2 L1652.5,170.3 L1653.0,170.3 L1653.5,170.6 L1654.0,170.6 L1654.5,170.6 L1655.1,170.7 L1655.6,170.7 L1656.1,170.8 L1656.6,170.7 L1657.1,170.5 L1657.6,170.1 L1658.1,169.9 L1658.6,169.7 L1659.1,169.8 L1659.7,169.3 L1660.2,169.3 L1660.7,169.1 L1661.2,169.1 L1661.7,169.0 L1662.2,168.9 L1662.7,169.0 L1663.2,169.0 L1663.8,168.9 L1664.3,168.8 L1664.8,169.1 L1665.3,169.3 L1665.8,169.2 L1666.3,169.4 L1666.8,169.7 L1667.3,169.9 L1667.8,169.9 L1668.4,169.9 L1668.9,169.9 L1669.4,169.8 L1669.9,169.7 L1670.4,169.5 L1670.9,169.5 L1671.4,169.6 L1671.9,169.9 L1672.4,169.9 L1673.0,169.8 L1673.5,169.5 L1674.0,169.6 L1674.5,169.5 L1675.0,169.7 L1675.5,169.7 L1676.0,169.9 L1676.5,169.8 L1677.1,169.8 L1677.6,170.0 L1678.1,170.2 L1678.6,170.4 L1679.1,170.5 L1679.6,170.6 L1680.1,170.5 L1680.6,170.7 L1681.1,170.8 L1681.7,170.8 L1682.2,170.5 L1682.7,170.4 L1683.2,170.4 L1683.7,170.3 L1684.2,169.9 L1684.7,169.6 L1685.2,169.3 L1685.7,169.2 L1686.3,169.1 L1686.8,169.0 L1687.3,169.0 L1687.8,168.7 L1688.3,168.9 L1688.8,168.9 L1689.3,169.3 L1689.8,169.4 L1690.4,169.5 L1690.9,169.4 L1691.4,169.3 L1691.9,169.4 L1692.4,169.3 L1692.9,169.5 L1693.4,169.4 L1693.9,169.2 L1694.4,168.9 L1695.0,168.6 L1695.5,168.8 L1696.0,168.8 L1696.5,168.7 L1697.0,168.4 L1697.5,168.1 L1698.0,168.2 L1698.5,168.2 L1699.0,168.4 L1699.6,168.4 L1700.1,168.6 L1700.6,168.8 L1701.1,168.9 L1701.6,169.1 L1702.1,169.1 L1702.6,169.6 L1703.1,169.9 L1703.7,170.1 L1704.2,170.0 L1704.7,169.8 L1705.2,169.8 L1705.7,169.9 L1706.2,169.9 L1706.7,169.9 L1707.2,169.8 L1707.7,169.8 L1708.3,169.7 L1708.8,169.6 L1709.3,169.8 L1709.8,169.7 L1710.3,169.6 L1710.8,169.5 L1711.3,169.4 L1711.8,169.5 L1712.3,169.5 L1712.9,169.4 L1713.4,169.4 L1713.9,169.5 L1714.4,169.8 L1714.9,169.8 L1715.4,170.0 L1715.9,169.8 L1716.4,169.7 L1716.9,169.7 L1717.5,169.8 L1718.0,169.5 L1718.5,169.2 L1719.0,168.7 L1719.5,168.6 L1720.0,168.4 L1720.5,168.3 L1721.0,167.9 L1721.6,167.9 L1722.1,167.9 L1722.6,168.2 L1723.1,168.1 L1723.6,168.4 L1724.1,168.2 L1724.6,168.4 L1725.1,168.3 L1725.6,168.3 L1726.2,168.2 L1726.7,168.3 L1727.2,168.8 L1727.7,168.9 L1728.2,169.2 L1728.7,169.2 L1729.2,169.2 L1729.7,168.9 L1730.2,168.7 L1730.8,168.7 L1731.3,168.7 L1731.8,168.8 L1732.3,168.8 L1732.8,168.6 L1733.3,168.5 L1733.8,168.5 L1734.3,168.6 L1734.9,168.8 L1735.4,169.0 L1735.9,169.4 L1736.4,169.3 L1736.9,169.4 L1737.4,169.5 L1737.9,169.8 L1738.4,169.8 L1738.9,169.7 L1739.5,169.6 L1740.0,169.8 L1740.5,169.8 L1741.0,169.9 L1741.5,169.8 L1742.0,169.8 L1742.5,169.8 L1743.0,169.8 L1743.5,169.6 L1744.1,169.2 L1744.6,169.0 L1745.1,169.0 L1745.6,169.0 L1746.1,168.7 L1746.6,168.6 L1747.1,168.6 L1747.6,168.7 L1748.2,168.6 L1748.7,168.2 L1749.2,168.2 L1749.7,168.3 L1750.2,168.7 L1750.7,168.6 L1751.2,168.7 L1751.7,168.6 L1752.2,168.7 L1752.8,168.8 L1753.3,168.7 L1753.8,168.5 L1754.3,168.3 L1754.8,168.3" fill="none" stroke="#eef020" stroke-width="2.2" stroke-linejoin="round"/>
<path d="M1422.3,106.1 L1422.8,105.1 L1423.3,104.4 L1423.9,103.5 L1424.4,102.9 L1424.9,101.9 L1425.4,100.7 L1425.9,99.7 L1426.4,98.9 L1426.9,98.2 L1427.4,97.4 L1428.0,96.9 L1428.5,96.3 L1429.0,95.6 L1429.5,94.9 L1430.0,94.2 L1430.5,93.5 L1431.0,92.5 L1431.5,91.8 L1432.0,91.2 L1432.6,90.9 L1433.1,90.6 L1433.6,90.3 L1434.1,89.8 L1434.6,89.5 L1435.1,88.9 L1435.6,88.2 L1436.1,87.6 L1436.6,87.1 L1437.2,87.0 L1437.7,86.7 L1438.2,86.3 L1438.7,85.9 L1439.2,85.3 L1439.7,84.9 L1440.2,84.4 L1440.7,84.2 L1441.3,83.8 L1441.8,83.4 L1442.3,83.1 L1442.8,82.9 L1443.3,82.6 L1443.8,82.2 L1444.3,81.9 L1444.8,81.9 L1445.3,81.7 L1445.9,81.2 L1446.4,80.9 L1446.9,80.6 L1447.4,80.6 L1447.9,80.3 L1448.4,80.1 L1448.9,79.7 L1449.4,79.6 L1449.9,79.4 L1450.5,79.0 L1451.0,78.7 L1451.5,78.4 L1452.0,78.4 L1452.5,78.2 L1453.0,77.7 L1453.5,77.5 L1454.0,77.3 L1454.5,77.2 L1455.1,77.2 L1455.6,77.0 L1456.1,76.8 L1456.6,76.4 L1457.1,76.1 L1457.6,76.2 L1458.1,76.1 L1458.6,76.0 L1459.2,75.8 L1459.7,75.3 L1460.2,75.3 L1460.7,75.2 L1461.2,75.4 L1461.7,75.3 L1462.2,75.1 L1462.7,74.9 L1463.2,74.7 L1463.8,75.1 L1464.3,75.2 L1464.8,75.2 L1465.3,75.2 L1465.8,75.5 L1466.3,75.4 L1466.8,75.6 L1467.3,75.5 L1467.8,75.9 L1468.4,75.9 L1468.9,76.1 L1469.4,76.4 L1469.9,76.5 L1470.4,76.9 L1470.9,76.8 L1471.4,76.9 L1471.9,77.1 L1472.5,77.6 L1473.0,77.8 L1473.5,78.1 L1474.0,78.2 L1474.5,78.8 L1475.0,79.0 L1475.5,79.2 L1476.0,79.3 L1476.5,79.5 L1477.1,79.6 L1477.6,79.7 L1478.1,80.0 L1478.6,80.5 L1479.1,81.2 L1479.6,81.4 L1480.1,81.7 L1480.6,81.6 L1481.1,82.0 L1481.7,82.0 L1482.2,82.3 L1482.7,82.5 L1483.2,82.9 L1483.7,83.1 L1484.2,83.2 L1484.7,83.5 L1485.2,83.8 L1485.8,84.1 L1486.3,84.5 L1486.8,84.8 L1487.3,85.4 L1487.8,85.6 L1488.3,86.0 L1488.8,86.2 L1489.3,86.8 L1489.8,86.9 L1490.4,87.2 L1490.9,87.5 L1491.4,87.9 L1491.9,88.3 L1492.4,88.4 L1492.9,88.8 L1493.4,89.1 L1493.9,89.6 L1494.4,90.1 L1495.0,90.4 L1495.5,90.6 L1496.0,90.9 L1496.5,91.3 L1497.0,91.6 L1497.5,91.7 L1498.0,92.0 L1498.5,92.3 L1499.1,92.8 L1499.6,93.1 L1500.1,93.5 L1500.6,93.8 L1501.1,94.2 L1501.6,94.7 L1502.1,94.8 L1502.6,95.4 L1503.1,95.5 L1503.7,95.8 L1504.2,96.1 L1504.7,96.4 L1505.2,96.8 L1505.7,97.1 L1506.2,97.4 L1506.7,97.8 L1507.2,98.1 L1507.7,98.6 L1508.3,98.8 L1508.8,99.0 L1509.3,99.0 L1509.8,99.3 L1510.3,99.6 L1510.8,99.9 L1511.3,100.1 L1511.8,100.5 L1512.3,100.7 L1512.9,101.2 L1513.4,101.4 L1513.9,101.5 L1514.4,101.7 L1514.9,102.1 L1515.4,102.5 L1515.9,102.9 L1516.4,102.9 L1517.0,103.3 L1517.5,103.5 L1518.0,104.0 L1518.5,104.3 L1519.0,104.5 L1519.5,104.6 L1520.0,104.7 L1520.5,105.0 L1521.0,105.5 L1521.6,105.8 L1522.1,106.1 L1522.6,106.2 L1523.1,106.6 L1523.6,106.8 L1524.1,107.4 L1524.6,107.6 L1525.1,108.0 L1525.6,108.3 L1526.2,108.4 L1526.7,108.6 L1527.2,108.8 L1527.7,109.2 L1528.2,109.5 L1528.7,109.7 L1529.2,109.7 L1529.7,109.9 L1530.3,110.0 L1530.8,110.4 L1531.3,110.5 L1531.8,110.9 L1532.3,111.0 L1532.8,111.5 L1533.3,111.7 L1533.8,111.9 L1534.3,111.9 L1534.9,112.2 L1535.4,113.1 L1535.9,113.0 L1536.4,111.7 L1536.9,110.8 L1537.4,110.9 L1537.9,112.6 L1538.4,112.4 L1538.9,113.2 L1539.5,111.3 L1540.0,112.1 L1540.5,112.0 L1541.0,113.3 L1541.5,114.3 L1542.0,114.9 L1542.5,116.4 L1543.0,115.9 L1543.6,114.4 L1544.1,114.7 L1544.6,113.1 L1545.1,113.7 L1545.6,112.2 L1546.1,113.8 L1546.6,115.6 L1547.1,117.5 L1547.6,117.0 L1548.2,116.3 L1548.7,115.4 L1549.2,116.2 L1549.7,115.1 L1550.2,114.6 L1550.7,114.7 L1551.2,115.7 L1551.7,116.1 L1552.2,117.1 L1552.8,117.7 L1553.3,119.4 L1553.8,119.4 L1554.3,120.2 L1554.8,119.4 L1555.3,120.6 L1555.8,121.4 L1556.3,125.5 L1556.8,126.7 L1557.4,126.8 L1557.9,123.0 L1558.4,120.1 L1558.9,118.6 L1559.4,118.3 L1559.9,118.9 L1560.4,118.5 L1560.9,118.2 L1561.5,115.8 L1562.0,115.5 L1562.5,116.3 L1563.0,117.8 L1563.5,118.6 L1564.0,119.5 L1564.5,121.2 L1565.0,121.7 L1565.5,121.6 L1566.1,121.0 L1566.6,121.5 L1567.1,121.7 L1567.6,121.2 L1568.1,119.3 L1568.6,117.7 L1569.1,118.5 L1569.6,119.3 L1570.1,120.3 L1570.7,119.8 L1571.2,120.0 L1571.7,119.9 L1572.2,119.9 L1572.7,119.8 L1573.2,119.9 L1573.7,120.3 L1574.2,120.5 L1574.8,120.9 L1575.3,120.8 L1575.8,121.0 L1576.3,121.1 L1576.8,121.5 L1577.3,121.9 L1577.8,122.2 L1578.3,122.4 L1578.8,122.6 L1579.4,122.8 L1579.9,122.9 L1580.4,123.0 L1580.9,123.0 L1581.4,123.0 L1581.9,122.9 L1582.4,122.6 L1582.9,122.6 L1583.4,122.4 L1584.0,122.2 L1584.5,121.6 L1585.0,121.1 L1585.5,121.0 L1586.0,120.9 L1586.5,120.8 L1587.0,120.7 L1587.5,120.9 L1588.1,120.8 L1588.6,120.7 L1589.1,120.8 L1589.6,121.2 L1590.1,121.3 L1590.6,121.4 L1591.1,121.4 L1591.6,121.4 L1592.1,121.4 L1592.7,121.4 L1593.2,121.4 L1593.7,121.2 L1594.2,120.8 L1594.7,120.6 L1595.2,120.4 L1595.7,120.3 L1596.2,120.2 L1596.7,120.0 L1597.3,119.9 L1597.8,119.8 L1598.3,120.0 L1598.8,120.3 L1599.3,120.3 L1599.8,120.4 L1600.3,120.7 L1600.8,121.3 L1601.4,121.6 L1601.9,122.0 L1602.4,122.1 L1602.9,122.5 L1603.4,122.7 L1603.9,122.9 L1604.4,122.9 L1604.9,122.8 L1605.4,123.0 L1606.0,123.0 L1606.5,122.9 L1607.0,122.7 L1607.5,122.6 L1608.0,122.4 L1608.5,122.2 L1609.0,122.1 L1609.5,122.0 L1610.0,121.9 L1610.6,122.0 L1611.1,122.1 L1611.6,121.9 L1612.1,122.0 L1612.6,122.2 L1613.1,122.4 L1613.6,122.5 L1614.1,122.7 L1614.6,122.9 L1615.2,123.1 L1615.7,122.8 L1616.2,122.5 L1616.7,122.4 L1617.2,122.4 L1617.7,122.5 L1618.2,122.2 L1618.7,121.8 L1619.3,121.2 L1619.8,120.7 L1620.3,120.5 L1620.8,120.1 L1621.3,119.9 L1621.8,119.7 L1622.3,119.6 L1622.8,119.7 L1623.3,119.4 L1623.9,119.5 L1624.4,119.3 L1624.9,119.7 L1625.4,120.0 L1625.9,120.4 L1626.4,120.7 L1626.9,120.9 L1627.4,121.2 L1627.9,121.1 L1628.5,121.0 L1629.0,120.8 L1629.5,120.8 L1630.0,120.7 L1630.5,120.6 L1631.0,120.6 L1631.5,120.4 L1632.0,120.3 L1632.6,120.4 L1633.1,120.5 L1633.6,120.4 L1634.1,120.4 L1634.6,120.3 L1635.1,120.4 L1635.6,120.5 L1636.1,120.7 L1636.6,121.0 L1637.2,121.2 L1637.7,121.7 L1638.2,122.1 L1638.7,122.4 L1639.2,122.2 L1639.7,122.4 L1640.2,122.5 L1640.7,122.7 L1641.2,122.3 L1641.8,122.2 L1642.3,122.2 L1642.8,122.1 L1643.3,121.7 L1643.8,121.2 L1644.3,120.9 L1644.8,120.6 L1645.3,120.5 L1645.9,120.2 L1646.4,120.0 L1646.9,119.8 L1647.4,119.9 L1647.9,120.0 L1648.4,119.9 L1648.9,119.9 L1649.4,119.8 L1649.9,119.9 L1650.5,119.9 L1651.0,120.0 L1651.5,120.0 L1652.0,119.7 L1652.5,119.6 L1653.0,119.6 L1653.5,119.7 L1654.0,119.9 L1654.5,119.5 L1655.1,119.2 L1655.6,118.7 L1656.1,118.8 L1656.6,118.5 L1657.1,118.2 L1657.6,118.0 L1658.1,118.2 L1658.6,118.4 L1659.1,118.3 L1659.7,118.4 L1660.2,118.5 L1660.7,118.9 L1661.2,119.3 L1661.7,119.7 L1662.2,120.1 L1662.7,120.2 L1663.2,120.4 L1663.8,120.4 L1664.3,120.8 L1664.8,121.0 L1665.3,121.3 L1665.8,121.3 L1666.3,121.3 L1666.8,121.0 L1667.3,120.8 L1667.8,120.5 L1668.4,120.4 L1668.9,120.5 L1669.4,120.4 L1669.9,120.4 L1670.4,120.3 L1670.9,120.3 L1671.4,120.1 L1671.9,120.2 L1672.4,120.3 L1673.0,120.5 L1673.5,120.7 L1674.0,120.8 L1674.5,120.9 L1675.0,120.8 L1675.5,120.7 L1676.0,120.6 L1676.5,120.8 L1677.1,120.7 L1677.6,120.6 L1678.1,120.1 L1678.6,119.8 L1679.1,119.6 L1679.6,119.3 L1680.1,119.1 L1680.6,118.9 L1681.1,118.6 L1681.7,118.2 L1682.2,117.9 L1682.7,117.7 L1683.2,117.8 L1683.7,117.6 L1684.2,117.9 L1684.7,117.9 L1685.2,118.1 L1685.7,118.2 L1686.3,118.3 L1686.8,118.4 L1687.3,118.6 L1687.8,118.6 L1688.3,118.8 L1688.8,119.0 L1689.3,119.2 L1689.8,118.9 L1690.4,118.7 L1690.9,118.8 L1691.4,119.0 L1691.9,118.8 L1692.4,118.5 L1692.9,118.3 L1693.4,118.2 L1693.9,118.1 L1694.4,118.2 L1695.0,118.3 L1695.5,118.7 L1696.0,118.9 L1696.5,119.0 L1697.0,119.3 L1697.5,119.7 L1698.0,120.0 L1698.5,120.1 L1699.0,120.3 L1699.6,120.4 L1700.1,120.6 L1700.6,120.8 L1701.1,121.1 L1701.6,121.3 L1702.1,121.1 L1702.6,121.0 L1703.1,120.6 L1703.7,120.3 L1704.2,120.2 L1704.7,119.9 L1705.2,119.7 L1705.7,119.2 L1706.2,119.1 L1706.7,119.2 L1707.2,119.2 L1707.7,119.1 L1708.3,118.8 L1708.8,118.8 L1709.3,119.0 L1709.8,119.2 L1710.3,119.3 L1710.8,119.4 L1711.3,119.3 L1711.8,119.2 L1712.3,119.0 L1712.9,118.9 L1713.4,118.8 L1713.9,118.7 L1714.4,118.5 L1714.9,118.4 L1715.4,118.2 L1715.9,117.9 L1716.4,117.6 L1716.9,117.4 L1717.5,117.2 L1718.0,117.0 L1718.5,116.9 L1719.0,116.8 L1719.5,116.9 L1720.0,117.3 L1720.5,117.8 L1721.0,118.4 L1721.6,118.8 L1722.1,118.6 L1722.6,118.7 L1723.1,119.0 L1723.6,119.4 L1724.1,119.5 L1724.6,119.6 L1725.1,119.7 L1725.6,119.9 L1726.2,120.0 L1726.7,120.1 L1727.2,120.4 L1727.7,120.3 L1728.2,120.1 L1728.7,119.8 L1729.2,119.6 L1729.7,119.7 L1730.2,119.8 L1730.8,119.8 L1731.3,119.9 L1731.8,119.8 L1732.3,120.0 L1732.8,119.9 L1733.3,120.2 L1733.8,120.3 L1734.3,120.7 L1734.9,120.6 L1735.4,120.8 L1735.9,120.8 L1736.4,120.8 L1736.9,120.6 L1737.4,120.6 L1737.9,120.5 L1738.4,120.5 L1738.9,120.0 L1739.5,119.6 L1740.0,119.3 L1740.5,119.1 L1741.0,119.0 L1741.5,118.6 L1742.0,118.3 L1742.5,118.0 L1743.0,117.9 L1743.5,118.1 L1744.1,117.9 L1744.6,118.1 L1745.1,118.0 L1745.6,118.3 L1746.1,118.2 L1746.6,118.4 L1747.1,118.6 L1747.6,119.0 L1748.2,119.0 L1748.7,119.2 L1749.2,119.0 L1749.7,119.0 L1750.2,118.6 L1750.7,118.8 L1751.2,119.0 L1751.7,119.0 L1752.2,118.7 L1752.8,118.7 L1753.3,118.5 L1753.8,118.8 L1754.3,118.6 L1754.8,118.8" fill="none" stroke="#2e7a2a" stroke-width="1.9" stroke-linejoin="round"/>
<path d="M1422.3,62.4 L1422.8,61.6 L1423.3,60.9 L1423.9,60.4 L1424.4,59.6 L1424.9,59.1 L1425.4,58.3 L1425.9,57.9 L1426.4,57.3 L1426.9,56.7 L1427.4,56.2 L1428.0,56.0 L1428.5,55.5 L1429.0,55.1 L1429.5,54.7 L1430.0,54.8 L1430.5,54.5 L1431.0,54.3 L1431.5,54.2 L1432.0,54.2 L1432.6,54.2 L1433.1,54.6 L1433.6,55.0 L1434.1,55.5 L1434.6,55.4 L1435.1,55.4 L1435.6,55.6 L1436.1,55.7 L1436.6,55.9 L1437.2,55.8 L1437.7,56.2 L1438.2,56.3 L1438.7,56.4 L1439.2,56.4 L1439.7,56.5 L1440.2,56.7 L1440.7,56.6 L1441.3,56.5 L1441.8,56.6 L1442.3,56.3 L1442.8,56.2 L1443.3,55.8 L1443.8,55.6 L1444.3,55.5 L1444.8,55.2 L1445.3,54.8 L1445.9,54.1 L1446.4,53.7 L1446.9,53.2 L1447.4,52.9 L1447.9,52.4 L1448.4,52.1 L1448.9,51.6 L1449.4,51.0 L1449.9,50.7 L1450.5,50.3 L1451.0,49.9 L1451.5,49.2 L1452.0,48.7 L1452.5,48.2 L1453.0,47.8 L1453.5,47.5 L1454.0,47.2 L1454.5,46.5 L1455.1,45.9 L1455.6,45.3 L1456.1,45.1 L1456.6,44.1 L1457.1,43.7 L1457.6,42.9 L1458.1,42.5 L1458.6,42.0 L1459.2,41.4 L1459.7,40.7 L1460.2,40.0 L1460.7,39.3 L1461.2,38.8 L1461.7,38.0 L1462.2,37.3 L1462.7,36.9 L1463.2,36.5 L1463.8,36.3 L1464.3,35.8 L1464.8,35.4 L1465.3,35.0 L1465.8,34.5 L1466.3,34.1 L1466.8,34.0 L1467.3,33.8 L1467.8,33.8 L1468.4,33.2 L1468.9,32.7 L1469.4,32.2 L1469.9,32.0 L1470.4,31.7 L1470.9,31.4 L1471.4,31.0 L1471.9,30.8 L1472.5,30.6 L1473.0,30.3 L1473.5,30.0 L1474.0,29.7 L1474.5,29.6 L1475.0,29.3 L1475.5,29.1 L1476.0,29.0 L1476.5,28.9 L1477.1,28.9 L1477.6,28.7 L1478.1,28.5 L1478.6,28.5 L1479.1,28.3 L1479.6,28.5 L1480.1,28.3 L1480.6,28.6 L1481.1,28.6 L1481.7,28.6 L1482.2,28.6 L1482.7,28.6 L1483.2,28.6 L1483.7,28.9 L1484.2,28.9 L1484.7,29.3 L1485.2,29.5 L1485.8,29.8 L1486.3,29.9 L1486.8,30.2 L1487.3,30.6 L1487.8,30.8 L1488.3,31.1 L1488.8,31.2 L1489.3,31.5 L1489.8,31.7 L1490.4,32.1 L1490.9,32.5 L1491.4,32.8 L1491.9,33.0 L1492.4,33.3 L1492.9,33.7 L1493.4,34.2 L1493.9,34.4 L1494.4,34.7 L1495.0,34.9 L1495.5,35.4 L1496.0,35.6 L1496.5,36.1 L1497.0,36.5 L1497.5,37.1 L1498.0,37.3 L1498.5,37.6 L1499.1,38.0 L1499.6,38.3 L1500.1,39.0 L1500.6,39.4 L1501.1,39.8 L1501.6,40.2 L1502.1,40.8 L1502.6,41.8 L1503.1,42.5 L1503.7,43.0 L1504.2,43.3 L1504.7,43.9 L1505.2,44.4 L1505.7,44.9 L1506.2,45.4 L1506.7,45.9 L1507.2,46.0 L1507.7,46.5 L1508.3,47.0 L1508.8,47.6 L1509.3,48.0 L1509.8,48.5 L1510.3,49.0 L1510.8,49.4 L1511.3,49.9 L1511.8,50.1 L1512.3,50.6 L1512.9,50.8 L1513.4,51.3 L1513.9,51.5 L1514.4,52.0 L1514.9,52.6 L1515.4,53.0 L1515.9,53.6 L1516.4,54.1 L1517.0,54.3 L1517.5,54.8 L1518.0,55.2 L1518.5,55.8 L1519.0,56.2 L1519.5,56.2 L1520.0,56.6 L1520.5,57.0 L1521.0,57.7 L1521.6,58.2 L1522.1,58.7 L1522.6,59.0 L1523.1,59.4 L1523.6,59.6 L1524.1,59.8 L1524.6,60.0 L1525.1,60.3 L1525.6,60.9 L1526.2,61.4 L1526.7,61.9 L1527.2,62.2 L1527.7,62.5 L1528.2,62.9 L1528.7,63.1 L1529.2,63.5 L1529.7,63.6 L1530.3,64.1 L1530.8,64.3 L1531.3,64.8 L1531.8,65.2 L1532.3,65.5 L1532.8,65.8 L1533.3,66.2 L1533.8,66.0 L1534.3,67.3 L1534.9,68.5 L1535.4,68.5 L1535.9,68.4 L1536.4,68.2 L1536.9,70.1 L1537.4,70.3 L1537.9,70.8 L1538.4,69.9 L1538.9,70.6 L1539.5,70.4 L1540.0,70.8 L1540.5,70.6 L1541.0,71.3 L1541.5,72.8 L1542.0,74.3 L1542.5,75.3 L1543.0,74.5 L1543.6,74.3 L1544.1,73.9 L1544.6,74.6 L1545.1,74.4 L1545.6,73.8 L1546.1,74.0 L1546.6,74.7 L1547.1,76.5 L1547.6,76.9 L1548.2,77.2 L1548.7,76.8 L1549.2,78.1 L1549.7,78.2 L1550.2,78.0 L1550.7,77.8 L1551.2,78.0 L1551.7,78.9 L1552.2,79.3 L1552.8,79.3 L1553.3,79.9 L1553.8,79.9 L1554.3,82.2 L1554.8,82.4 L1555.3,84.8 L1555.8,87.0 L1556.3,91.4 L1556.8,92.8 L1557.4,92.0 L1557.9,89.7 L1558.4,87.3 L1558.9,85.6 L1559.4,85.0 L1559.9,84.6 L1560.4,83.7 L1560.9,83.0 L1561.5,82.1 L1562.0,82.2 L1562.5,83.8 L1563.0,86.7 L1563.5,90.2 L1564.0,89.3 L1564.5,89.5 L1565.0,88.8 L1565.5,89.8 L1566.1,88.9 L1566.6,88.8 L1567.1,88.5 L1567.6,89.2 L1568.1,87.4 L1568.6,89.4 L1569.1,90.9 L1569.6,94.2 L1570.1,93.8 L1570.7,93.8 L1571.2,94.1 L1571.7,94.6 L1572.2,94.7 L1572.7,95.1 L1573.2,95.0 L1573.7,95.3 L1574.2,95.7 L1574.8,96.0 L1575.3,96.4 L1575.8,96.6 L1576.3,96.6 L1576.8,96.0 L1577.3,95.8 L1577.8,95.7 L1578.3,95.3 L1578.8,95.0 L1579.4,94.4 L1579.9,94.3 L1580.4,94.2 L1580.9,93.7 L1581.4,93.3 L1581.9,92.6 L1582.4,92.6 L1582.9,92.4 L1583.4,92.3 L1584.0,92.3 L1584.5,92.5 L1585.0,93.0 L1585.5,93.3 L1586.0,93.8 L1586.5,94.0 L1587.0,94.2 L1587.5,94.5 L1588.1,94.8 L1588.6,94.8 L1589.1,94.7 L1589.6,94.4 L1590.1,94.5 L1590.6,94.4 L1591.1,94.4 L1591.6,94.2 L1592.1,94.0 L1592.7,94.0 L1593.2,94.4 L1593.7,94.7 L1594.2,94.8 L1594.7,94.9 L1595.2,95.0 L1595.7,95.3 L1596.2,95.5 L1596.7,96.0 L1597.3,96.5 L1597.8,97.0 L1598.3,97.5 L1598.8,98.0 L1599.3,98.4 L1599.8,98.7 L1600.3,98.7 L1600.8,98.8 L1601.4,98.9 L1601.9,98.7 L1602.4,98.3 L1602.9,97.8 L1603.4,97.5 L1603.9,97.3 L1604.4,97.0 L1604.9,96.8 L1605.4,96.5 L1606.0,96.4 L1606.5,96.2 L1607.0,95.8 L1607.5,95.8 L1608.0,95.9 L1608.5,96.1 L1609.0,96.1 L1609.5,96.4 L1610.0,96.4 L1610.6,96.6 L1611.1,96.5 L1611.6,96.5 L1612.1,96.5 L1612.6,96.5 L1613.1,96.6 L1613.6,96.5 L1614.1,96.1 L1614.6,95.6 L1615.2,95.1 L1615.7,94.7 L1616.2,94.3 L1616.7,94.0 L1617.2,93.9 L1617.7,93.8 L1618.2,93.8 L1618.7,93.5 L1619.3,93.4 L1619.8,93.7 L1620.3,94.2 L1620.8,94.6 L1621.3,94.9 L1621.8,95.2 L1622.3,95.8 L1622.8,96.2 L1623.3,96.7 L1623.9,97.2 L1624.4,97.6 L1624.9,97.9 L1625.4,97.9 L1625.9,97.8 L1626.4,97.9 L1626.9,97.9 L1627.4,97.7 L1627.9,97.4 L1628.5,97.3 L1629.0,97.3 L1629.5,97.5 L1630.0,97.5 L1630.5,97.7 L1631.0,97.6 L1631.5,97.6 L1632.0,97.6 L1632.6,97.7 L1633.1,98.2 L1633.6,98.5 L1634.1,98.9 L1634.6,99.1 L1635.1,99.3 L1635.6,99.3 L1636.1,99.4 L1636.6,99.6 L1637.2,99.5 L1637.7,99.2 L1638.2,98.6 L1638.7,98.1 L1639.2,97.8 L1639.7,97.1 L1640.2,96.8 L1640.7,95.9 L1641.2,95.4 L1641.8,94.8 L1642.3,94.9 L1642.8,94.8 L1643.3,94.7 L1643.8,94.7 L1644.3,94.8 L1644.8,94.8 L1645.3,94.9 L1645.9,94.9 L1646.4,95.1 L1646.9,95.3 L1647.4,95.7 L1647.9,96.0 L1648.4,96.2 L1648.9,96.3 L1649.4,96.4 L1649.9,96.0 L1650.5,95.9 L1651.0,95.9 L1651.5,95.9 L1652.0,96.0 L1652.5,95.4 L1653.0,95.3 L1653.5,95.1 L1654.0,95.3 L1654.5,95.5 L1655.1,95.7 L1655.6,95.9 L1656.1,96.2 L1656.6,96.6 L1657.1,97.2 L1657.6,97.3 L1658.1,97.7 L1658.6,98.1 L1659.1,98.8 L1659.7,99.3 L1660.2,99.5 L1660.7,99.7 L1661.2,99.9 L1661.7,99.6 L1662.2,99.3 L1662.7,98.9 L1663.2,99.0 L1663.8,99.1 L1664.3,98.8 L1664.8,98.3 L1665.3,97.9 L1665.8,97.7 L1666.3,97.4 L1666.8,97.0 L1667.3,97.0 L1667.8,96.9 L1668.4,97.2 L1668.9,97.1 L1669.4,97.4 L1669.9,97.4 L1670.4,97.4 L1670.9,97.3 L1671.4,97.3 L1671.9,97.4 L1672.4,97.3 L1673.0,97.2 L1673.5,96.8 L1674.0,96.7 L1674.5,96.3 L1675.0,95.9 L1675.5,95.5 L1676.0,95.0 L1676.5,94.6 L1677.1,94.1 L1677.6,94.1 L1678.1,93.9 L1678.6,93.9 L1679.1,93.7 L1679.6,93.9 L1680.1,93.8 L1680.6,94.1 L1681.1,94.6 L1681.7,95.1 L1682.2,95.3 L1682.7,95.8 L1683.2,96.2 L1683.7,96.8 L1684.2,97.0 L1684.7,97.3 L1685.2,97.5 L1685.7,97.5 L1686.3,97.3 L1686.8,97.5 L1687.3,97.3 L1687.8,97.4 L1688.3,97.2 L1688.8,97.4 L1689.3,97.2 L1689.8,97.2 L1690.4,96.8 L1690.9,97.2 L1691.4,97.0 L1691.9,97.5 L1692.4,97.7 L1692.9,98.1 L1693.4,98.1 L1693.9,98.2 L1694.4,98.4 L1695.0,98.7 L1695.5,98.8 L1696.0,99.0 L1696.5,99.0 L1697.0,99.1 L1697.5,98.8 L1698.0,98.9 L1698.5,98.4 L1699.0,97.8 L1699.6,97.2 L1700.1,96.4 L1700.6,96.1 L1701.1,95.6 L1701.6,95.5 L1702.1,95.1 L1702.6,94.8 L1703.1,94.4 L1703.7,94.3 L1704.2,94.5 L1704.7,94.8 L1705.2,94.9 L1705.7,94.9 L1706.2,95.1 L1706.7,95.2 L1707.2,95.0 L1707.7,95.1 L1708.3,95.0 L1708.8,95.3 L1709.3,95.4 L1709.8,95.8 L1710.3,95.7 L1710.8,95.4 L1711.3,94.7 L1711.8,94.7 L1712.3,94.7 L1712.9,94.9 L1713.4,94.6 L1713.9,94.5 L1714.4,94.5 L1714.9,94.6 L1715.4,94.9 L1715.9,95.2 L1716.4,95.5 L1716.9,95.7 L1717.5,96.1 L1718.0,96.8 L1718.5,97.5 L1719.0,97.9 L1719.5,98.1 L1720.0,98.2 L1720.5,98.6 L1721.0,98.8 L1721.6,99.1 L1722.1,98.7 L1722.6,98.6 L1723.1,98.3 L1723.6,98.4 L1724.1,98.0 L1724.6,97.8 L1725.1,97.3 L1725.6,96.9 L1726.2,96.5 L1726.7,96.3 L1727.2,96.3 L1727.7,96.2 L1728.2,96.2 L1728.7,96.1 L1729.2,96.4 L1729.7,96.4 L1730.2,96.6 L1730.8,96.4 L1731.3,96.5 L1731.8,96.6 L1732.3,96.7 L1732.8,96.7 L1733.3,96.4 L1733.8,96.3 L1734.3,96.0 L1734.9,95.6 L1735.4,95.0 L1735.9,94.5 L1736.4,94.1 L1736.9,93.9 L1737.4,93.4 L1737.9,93.3 L1738.4,92.9 L1738.9,92.8 L1739.5,92.6 L1740.0,93.0 L1740.5,93.3 L1741.0,93.7 L1741.5,93.9 L1742.0,94.1 L1742.5,94.6 L1743.0,95.0 L1743.5,95.4 L1744.1,95.5 L1744.6,95.8 L1745.1,95.9 L1745.6,96.0 L1746.1,96.3 L1746.6,96.2 L1747.1,96.4 L1747.6,96.1 L1748.2,96.2 L1748.7,95.9 L1749.2,95.9 L1749.7,95.5 L1750.2,95.7 L1750.7,95.6 L1751.2,95.7 L1751.7,95.6 L1752.2,96.0 L1752.8,96.1 L1753.3,96.5 L1753.8,96.7 L1754.3,97.1 L1754.8,97.4" fill="none" stroke="#1c1c8c" stroke-width="1.9" stroke-linejoin="round"/>
<path d="M1442.0,272.0 L1442.0,267.9 L1442.1,263.8 L1442.2,259.7 L1442.2,255.6 L1442.3,251.5 L1442.4,247.5 L1442.6,243.4 L1442.7,239.4 L1442.8,235.3 L1442.9,231.3 L1443.1,227.3 L1443.2,223.3 L1443.4,219.3 L1443.5,215.3 L1443.7,211.3 L1443.9,207.3 L1444.1,203.3 L1444.3,199.3 L1444.6,195.3 L1444.8,191.4 L1445.1,187.4 L1445.4,183.5 L1445.6,179.6 L1445.9,175.7 L1446.3,171.8 L1446.6,168.0 L1446.9,164.2 L1447.3,160.3 L1447.7,156.5 L1448.2,152.7 L1448.6,149.0 L1449.1,145.2 L1449.6,141.5 L1450.2,137.8 L1450.7,134.1 L1451.3,130.4 L1451.9,126.8 L1452.5,123.3 L1453.1,119.7 L1453.7,116.3 L1454.3,112.9 L1455.0,109.5 L1455.7,106.2 L1456.4,102.9 L1457.1,99.7 L1457.8,96.4 L1458.6,93.2 L1459.4,90.0 L1460.2,86.8 L1461.0,83.6 L1461.9,80.4 L1462.8,77.2 L1463.7,73.9 L1464.7,70.5 L1465.8,66.9 L1467.0,63.3 L1468.2,59.6 L1469.5,55.9 L1470.8,52.2 L1472.1,48.6 L1473.3,45.2 L1474.5,41.9 L1475.7,38.9 L1476.8,36.2 L1477.8,33.7 L1478.6,31.7 L1479.5,29.8 L1480.2,27.9 L1481.0,26.1 L1481.8,24.4 L1482.5,22.7 L1483.2,21.1 L1483.8,19.7 L1484.5,18.3 L1485.1,17.2 L1485.6,16.1 L1486.1,15.2 L1486.6,14.5 L1487.0,14.0" fill="none" stroke="#5b8fcc" stroke-width="3" stroke-dasharray="7,4.5"/>
<path d="M1493,6 L1481.5,16.5 L1490.5,21.5 Z" fill="#5b8fcc"/>
</g>
<rect x="1422.6" y="8.9" width="332.2" height="337.5" fill="none" stroke="#1a1a1a" stroke-width="1.4"/>
<line x1="1447.9" y1="346.4" x2="1447.9" y2="339.9" stroke="#1a1a1a" stroke-width="1.3"/>
<line x1="1447.9" y1="8.9" x2="1447.9" y2="15.4" stroke="#1a1a1a" stroke-width="1.3"/>
<text x="1447.9" y="366.6" font-size="14.5" fill="#1c1c1c" text-anchor="middle" font-weight="normal" font-style="normal" font-family="'Liberation Sans', Arial, sans-serif" textLength="29.5" lengthAdjust="spacingAndGlyphs" stroke="#1c1c1c" stroke-width="0.3">400</text>
<line x1="1473.5" y1="346.4" x2="1473.5" y2="342.4" stroke="#1a1a1a" stroke-width="1.3"/>
<line x1="1473.5" y1="8.9" x2="1473.5" y2="12.9" stroke="#1a1a1a" stroke-width="1.3"/>
<line x1="1499.1" y1="346.4" x2="1499.1" y2="339.9" stroke="#1a1a1a" stroke-width="1.3"/>
<line x1="1499.1" y1="8.9" x2="1499.1" y2="15.4" stroke="#1a1a1a" stroke-width="1.3"/>
<text x="1499.1" y="366.6" font-size="14.5" fill="#1c1c1c" text-anchor="middle" font-weight="normal" font-style="normal" font-family="'Liberation Sans', Arial, sans-serif" textLength="29.5" lengthAdjust="spacingAndGlyphs" stroke="#1c1c1c" stroke-width="0.3">600</text>
<line x1="1524.6" y1="346.4" x2="1524.6" y2="342.4" stroke="#1a1a1a" stroke-width="1.3"/>
<line x1="1524.6" y1="8.9" x2="1524.6" y2="12.9" stroke="#1a1a1a" stroke-width="1.3"/>
<line x1="1550.2" y1="346.4" x2="1550.2" y2="339.9" stroke="#1a1a1a" stroke-width="1.3"/>
<line x1="1550.2" y1="8.9" x2="1550.2" y2="15.4" stroke="#1a1a1a" stroke-width="1.3"/>
<text x="1550.2" y="366.6" font-size="14.5" fill="#1c1c1c" text-anchor="middle" font-weight="normal" font-style="normal" font-family="'Liberation Sans', Arial, sans-serif" textLength="29.5" lengthAdjust="spacingAndGlyphs" stroke="#1c1c1c" stroke-width="0.3">800</text>
<line x1="1575.8" y1="346.4" x2="1575.8" y2="342.4" stroke="#1a1a1a" stroke-width="1.3"/>
<line x1="1575.8" y1="8.9" x2="1575.8" y2="12.9" stroke="#1a1a1a" stroke-width="1.3"/>
<line x1="1601.4" y1="346.4" x2="1601.4" y2="339.9" stroke="#1a1a1a" stroke-width="1.3"/>
<line x1="1601.4" y1="8.9" x2="1601.4" y2="15.4" stroke="#1a1a1a" stroke-width="1.3"/>
<text x="1601.4" y="366.6" font-size="14.5" fill="#1c1c1c" text-anchor="middle" font-weight="normal" font-style="normal" font-family="'Liberation Sans', Arial, sans-serif" textLength="40.5" lengthAdjust="spacingAndGlyphs" stroke="#1c1c1c" stroke-width="0.3">1,000</text>
<line x1="1626.9" y1="346.4" x2="1626.9" y2="342.4" stroke="#1a1a1a" stroke-width="1.3"/>
<line x1="1626.9" y1="8.9" x2="1626.9" y2="12.9" stroke="#1a1a1a" stroke-width="1.3"/>
<line x1="1652.5" y1="346.4" x2="1652.5" y2="339.9" stroke="#1a1a1a" stroke-width="1.3"/>
<line x1="1652.5" y1="8.9" x2="1652.5" y2="15.4" stroke="#1a1a1a" stroke-width="1.3"/>
<text x="1652.5" y="366.6" font-size="14.5" fill="#1c1c1c" text-anchor="middle" font-weight="normal" font-style="normal" font-family="'Liberation Sans', Arial, sans-serif" textLength="40.5" lengthAdjust="spacingAndGlyphs" stroke="#1c1c1c" stroke-width="0.3">1,200</text>
<line x1="1678.1" y1="346.4" x2="1678.1" y2="342.4" stroke="#1a1a1a" stroke-width="1.3"/>
<line x1="1678.1" y1="8.9" x2="1678.1" y2="12.9" stroke="#1a1a1a" stroke-width="1.3"/>
<line x1="1703.7" y1="346.4" x2="1703.7" y2="339.9" stroke="#1a1a1a" stroke-width="1.3"/>
<line x1="1703.7" y1="8.9" x2="1703.7" y2="15.4" stroke="#1a1a1a" stroke-width="1.3"/>
<text x="1703.7" y="366.6" font-size="14.5" fill="#1c1c1c" text-anchor="middle" font-weight="normal" font-style="normal" font-family="'Liberation Sans', Arial, sans-serif" textLength="40.5" lengthAdjust="spacingAndGlyphs" stroke="#1c1c1c" stroke-width="0.3">1,400</text>
<line x1="1729.2" y1="346.4" x2="1729.2" y2="342.4" stroke="#1a1a1a" stroke-width="1.3"/>
<line x1="1729.2" y1="8.9" x2="1729.2" y2="12.9" stroke="#1a1a1a" stroke-width="1.3"/>
<line x1="1754.8" y1="346.4" x2="1754.8" y2="339.9" stroke="#1a1a1a" stroke-width="1.3"/>
<line x1="1754.8" y1="8.9" x2="1754.8" y2="15.4" stroke="#1a1a1a" stroke-width="1.3"/>
<text x="1754.8" y="366.6" font-size="14.5" fill="#1c1c1c" text-anchor="middle" font-weight="normal" font-style="normal" font-family="'Liberation Sans', Arial, sans-serif" textLength="40.5" lengthAdjust="spacingAndGlyphs" stroke="#1c1c1c" stroke-width="0.3">1,600</text>
<line x1="1422.6" y1="319.4" x2="1426.6" y2="319.4" stroke="#1a1a1a" stroke-width="1.3"/>
<line x1="1754.8" y1="319.4" x2="1750.8" y2="319.4" stroke="#1a1a1a" stroke-width="1.3"/>
<line x1="1422.6" y1="292.4" x2="1429.1" y2="292.4" stroke="#1a1a1a" stroke-width="1.3"/>
<line x1="1754.8" y1="292.4" x2="1748.3" y2="292.4" stroke="#1a1a1a" stroke-width="1.3"/>
<line x1="1422.6" y1="265.4" x2="1426.6" y2="265.4" stroke="#1a1a1a" stroke-width="1.3"/>
<line x1="1754.8" y1="265.4" x2="1750.8" y2="265.4" stroke="#1a1a1a" stroke-width="1.3"/>
<line x1="1422.6" y1="238.4" x2="1429.1" y2="238.4" stroke="#1a1a1a" stroke-width="1.3"/>
<line x1="1754.8" y1="238.4" x2="1748.3" y2="238.4" stroke="#1a1a1a" stroke-width="1.3"/>
<line x1="1422.6" y1="211.4" x2="1426.6" y2="211.4" stroke="#1a1a1a" stroke-width="1.3"/>
<line x1="1754.8" y1="211.4" x2="1750.8" y2="211.4" stroke="#1a1a1a" stroke-width="1.3"/>
<line x1="1422.6" y1="184.4" x2="1429.1" y2="184.4" stroke="#1a1a1a" stroke-width="1.3"/>
<line x1="1754.8" y1="184.4" x2="1748.3" y2="184.4" stroke="#1a1a1a" stroke-width="1.3"/>
<line x1="1422.6" y1="157.4" x2="1426.6" y2="157.4" stroke="#1a1a1a" stroke-width="1.3"/>
<line x1="1754.8" y1="157.4" x2="1750.8" y2="157.4" stroke="#1a1a1a" stroke-width="1.3"/>
<line x1="1422.6" y1="130.4" x2="1429.1" y2="130.4" stroke="#1a1a1a" stroke-width="1.3"/>
<line x1="1754.8" y1="130.4" x2="1748.3" y2="130.4" stroke="#1a1a1a" stroke-width="1.3"/>
<line x1="1422.6" y1="103.4" x2="1426.6" y2="103.4" stroke="#1a1a1a" stroke-width="1.3"/>
<line x1="1754.8" y1="103.4" x2="1750.8" y2="103.4" stroke="#1a1a1a" stroke-width="1.3"/>
<line x1="1422.6" y1="76.4" x2="1429.1" y2="76.4" stroke="#1a1a1a" stroke-width="1.3"/>
<line x1="1754.8" y1="76.4" x2="1748.3" y2="76.4" stroke="#1a1a1a" stroke-width="1.3"/>
<line x1="1422.6" y1="49.4" x2="1426.6" y2="49.4" stroke="#1a1a1a" stroke-width="1.3"/>
<line x1="1754.8" y1="49.4" x2="1750.8" y2="49.4" stroke="#1a1a1a" stroke-width="1.3"/>
<line x1="1422.6" y1="22.4" x2="1429.1" y2="22.4" stroke="#1a1a1a" stroke-width="1.3"/>
<line x1="1754.8" y1="22.4" x2="1748.3" y2="22.4" stroke="#1a1a1a" stroke-width="1.3"/>
<text x="1415.5" y="351.6" font-size="14.8" fill="#1c1c1c" text-anchor="end" font-weight="normal" font-style="normal" font-family="'Liberation Sans', Arial, sans-serif" textLength="19.6" lengthAdjust="spacingAndGlyphs" stroke="#1c1c1c" stroke-width="0.3">60</text>
<text x="1415.5" y="297.6" font-size="14.8" fill="#1c1c1c" text-anchor="end" font-weight="normal" font-style="normal" font-family="'Liberation Sans', Arial, sans-serif" textLength="19.6" lengthAdjust="spacingAndGlyphs" stroke="#1c1c1c" stroke-width="0.3">80</text>
<text x="1415.5" y="243.6" font-size="14.8" fill="#1c1c1c" text-anchor="end" font-weight="normal" font-style="normal" font-family="'Liberation Sans', Arial, sans-serif" textLength="29" lengthAdjust="spacingAndGlyphs" stroke="#1c1c1c" stroke-width="0.3">100</text>
<text x="1415.5" y="189.6" font-size="14.8" fill="#1c1c1c" text-anchor="end" font-weight="normal" font-style="normal" font-family="'Liberation Sans', Arial, sans-serif" textLength="29" lengthAdjust="spacingAndGlyphs" stroke="#1c1c1c" stroke-width="0.3">120</text>
<text x="1415.5" y="135.6" font-size="14.8" fill="#1c1c1c" text-anchor="end" font-weight="normal" font-style="normal" font-family="'Liberation Sans', Arial, sans-serif" textLength="29" lengthAdjust="spacingAndGlyphs" stroke="#1c1c1c" stroke-width="0.3">140</text>
<text x="1415.5" y="81.6" font-size="14.8" fill="#1c1c1c" text-anchor="end" font-weight="normal" font-style="normal" font-family="'Liberation Sans', Arial, sans-serif" textLength="29" lengthAdjust="spacingAndGlyphs" stroke="#1c1c1c" stroke-width="0.3">160</text>
<text x="1415.5" y="27.6" font-size="14.8" fill="#1c1c1c" text-anchor="end" font-weight="normal" font-style="normal" font-family="'Liberation Sans', Arial, sans-serif" textLength="19.6" lengthAdjust="spacingAndGlyphs" stroke="#1c1c1c" stroke-width="0.3">80</text>
<line x1="1392.6" y1="12.5" x2="1392.6" y2="29" stroke="#b8b8b8" stroke-width="1"/>
<text transform="translate(1370.3,177.4) rotate(-90)" font-size="15" fill="#222" text-anchor="middle" font-family="'Liberation Sans', Arial, sans-serif" textLength="59" lengthAdjust="spacingAndGlyphs">1−<tspan font-style="italic">R</tspan> (%)</text>
<text x="1589.2" y="393.5" font-size="16.5" fill="#1c1c1c" text-anchor="middle" font-weight="normal" font-style="normal" font-family="'Liberation Sans', Arial, sans-serif" textLength="135" lengthAdjust="spacingAndGlyphs" stroke="#1c1c1c" stroke-width="0.3">Wavelength (nm)</text>
<text x="1736.5" y="89.2" font-size="15" fill="#1c1c1c" text-anchor="end" font-weight="normal" font-style="normal" font-family="'Liberation Sans', Arial, sans-serif" textLength="58" lengthAdjust="spacingAndGlyphs" stroke="#1c1c1c" stroke-width="0.25">225 nm</text>
<text x="1736.5" y="139.8" font-size="15" fill="#1c1c1c" text-anchor="end" font-weight="normal" font-style="normal" font-family="'Liberation Sans', Arial, sans-serif" textLength="58" lengthAdjust="spacingAndGlyphs" stroke="#1c1c1c" stroke-width="0.25">200 nm</text>
<text x="1736.5" y="192.2" font-size="15" fill="#1c1c1c" text-anchor="end" font-weight="normal" font-style="normal" font-family="'Liberation Sans', Arial, sans-serif" textLength="58" lengthAdjust="spacingAndGlyphs" stroke="#1c1c1c" stroke-width="0.25">175 nm</text>
<text x="1736.5" y="237.9" font-size="15" fill="#1c1c1c" text-anchor="end" font-weight="normal" font-style="normal" font-family="'Liberation Sans', Arial, sans-serif" textLength="58" lengthAdjust="spacingAndGlyphs" stroke="#1c1c1c" stroke-width="0.25">150 nm</text>
<text x="1736.5" y="284.9" font-size="15" fill="#1c1c1c" text-anchor="end" font-weight="normal" font-style="normal" font-family="'Liberation Sans', Arial, sans-serif" textLength="58" lengthAdjust="spacingAndGlyphs" stroke="#1c1c1c" stroke-width="0.25">125 nm</text>
<text x="1736.5" y="329.5" font-size="15" fill="#1c1c1c" text-anchor="end" font-weight="normal" font-style="normal" font-family="'Liberation Sans', Arial, sans-serif" textLength="58" lengthAdjust="spacingAndGlyphs" stroke="#1c1c1c" stroke-width="0.25">100 nm</text>
<rect x="1594" y="12.4" width="48.5" height="44" fill="#f8c000"/>
<rect x="1610.3" y="32.7" width="17.8" height="6.9" fill="#fff"/>
<line x1="1579" y1="36.2" x2="1604" y2="36.2" stroke="#8a9ab8" stroke-width="2"/>
<line x1="1636" y1="36.2" x2="1661.8" y2="36.2" stroke="#8a9ab8" stroke-width="2"/>
<path d="M1610,36.2 L1599.5,32 L1599.5,40.4 Z" fill="#3858c8"/>
<path d="M1629.5,36.2 L1640,32 L1640,40.4 Z" fill="#3858c8"/>
<text x="1559" y="40.6" font-size="16.5" fill="#222" text-anchor="start" font-weight="normal" font-style="italic" font-family="'Liberation Sans', Arial, sans-serif" >D</text>
<line x1="1674.2" y1="18" x2="1674.2" y2="43" stroke="#111" stroke-width="1.6"/>
<path d="M1674.2,12.4 L1669.2,21.5 L1679.2,21.5 Z" fill="#111"/>
<path d="M1674.2,48.8 L1669.2,39.8 L1679.2,39.8 Z" fill="#111"/>
<text x="1667.5" y="66.3" font-size="16" fill="#222" text-anchor="start" font-weight="normal" font-style="italic" font-family="'Liberation Sans', Arial, sans-serif" >E</text>
</g>
<g id="panel-d">
<defs><filter id="noise" x="0" y="0" width="100%" height="100%"><feTurbulence type="fractalNoise" baseFrequency="0.9" numOctaves="2" seed="4" result="t"/><feColorMatrix type="matrix" values="0 0 0 0 0.5  0 0 0 0 0.5  0 0 0 0 0.5  0.9 0 0 0 -0.25"/></filter><linearGradient id="cres" x1="0" y1="0" x2="1" y2="0"><stop offset="0" stop-color="#2a2a2a"/><stop offset="0.18" stop-color="#565656"/><stop offset="0.55" stop-color="#666"/><stop offset="0.85" stop-color="#949494"/><stop offset="1" stop-color="#808080"/></linearGradient><filter id="blurc" x="-30%" y="-30%" width="160%" height="160%"><feGaussianBlur stdDeviation="0.9"/></filter></defs>
<rect x="879.7" y="475.5" width="398.3" height="250" fill="#202020"/>
<rect x="879.7" y="475.5" width="398.3" height="250" filter="url(#noise)" opacity="0.22"/>
<rect x="879.7" y="725.3" width="398.3" height="37" fill="#070707"/>
<path d="M1060.4,514.5 C1072,522 1081,538 1084.5,557 C1086.5,572 1084,586 1077,595 C1072,601 1066,605 1060.4,605.7 C1063.5,596 1065,582 1064.8,568 C1064.5,555 1062.5,544 1059.5,537 L1056.3,534.3 C1059.5,530 1059.5,521 1060.4,514.5 Z" fill="url(#cres)" filter="url(#blurc)"/>
<rect x="981.7" y="487.1" width="135.1" height="132.3" fill="none" stroke="#ececec" stroke-width="2.2"/>
<line x1="926" y1="744" x2="1020.2" y2="744" stroke="#f0f0f0" stroke-width="3"/>
<line x1="1153" y1="744" x2="1253" y2="744" stroke="#f0f0f0" stroke-width="3"/>
<rect x="924.5" y="739.8" width="3" height="8.4" rx="1.5" fill="#f0f0f0"/>
<rect x="1252" y="739.8" width="3" height="8.4" rx="1.5" fill="#f0f0f0"/>
<text x="1088.5" y="756.1" font-size="34.5" fill="#f4f4f4" text-anchor="middle" font-weight="normal" font-style="normal" font-family="'Liberation Sans', Arial, sans-serif" textLength="121" lengthAdjust="spacingAndGlyphs" stroke="#070707" stroke-width="1.1">20.0μm</text>
<clipPath id="clipM"><rect x="1402.2" y="493.5" width="266.2" height="254.6"/></clipPath>
<rect x="1402.2" y="493.5" width="266.2" height="254.6" fill="#3a5eac"/>
<g clip-path="url(#clipM)">
<path d="M1477.3,557.6 L1480.8,542 L1486,527.3 L1494.7,523.8 L1508.5,520.3 L1529.3,509.1 L1546.6,502.1 L1567.4,496.9 L1584.8,497.8 L1603.8,502.1 L1616,512.5 L1629.8,524.7 L1640.2,540.3 L1650.6,562.8 L1659.3,587 L1664.5,605 L1669,615 L1669,706.6 L1643.7,724 L1629.8,741.3 L1628,749 L1529.3,749 L1513.7,715.3 L1529.3,651.2 L1517.2,620 L1505,599.2 L1494.7,587 L1484.3,573.2 Z" fill="#1ba6de" stroke="#1d3a52" stroke-width="0.9" stroke-linejoin="round"/>
<path d="M1508.5,559.3 L1512,552.4 L1525.8,542 L1541.4,529.9 L1553.6,517.7 L1567.4,509.9 L1584.8,512.5 L1602.1,517.7 L1612.5,528.1 L1621.1,542 L1629.8,559.3 L1636.7,576.6 L1643.7,594 L1647.1,611.3 L1655.8,625 L1662.7,651.2 L1661,685.8 L1633.3,706.6 L1616,732.6 L1610.7,749 L1550.1,749 L1543.2,737.8 L1529.3,715.3 L1543.2,654.7 L1534.5,625 L1525.8,611.3 L1518.9,594 L1512,576.6 Z" fill="#6ecbe6" stroke="#1d3a52" stroke-width="0.9" stroke-linejoin="round"/>
<path d="M1521.5,559.3 L1524.1,552.4 L1538,542 L1551.8,529.9 L1567.4,522.1 L1584.8,524.7 L1598.6,529.9 L1609,542 L1616,555.8 L1624.6,573.2 L1631.5,594 L1635,611.3 L1640.2,625 L1648.9,654.7 L1643.7,685.8 L1626.4,706.6 L1605.6,734.4 L1603.8,749 L1567.4,749 L1564,737.8 L1541.4,717 L1550.1,654.7 L1544.9,625 L1539.7,611.3 L1532.8,594 L1525.8,576.6 Z" fill="#74bf5e" stroke="#1d3a52" stroke-width="0.9" stroke-linejoin="round"/>
<path d="M1534.5,559.3 L1536.2,552.4 L1550.1,543.7 L1567.4,533.3 L1584.8,536.8 L1596.9,542 L1605.6,550.6 L1612.5,562.8 L1619.4,580.1 L1626.4,600.9 L1630.5,625 L1635,654.7 L1631.5,685.8 L1616,712 L1603,738.5 L1568.5,737.8 L1550.1,719 L1557,654.7 L1552.5,625 L1548.4,611.3 L1543.2,594 L1538,576.6 Z" fill="#50aa3c" stroke="#1d3a52" stroke-width="0.9" stroke-linejoin="round"/>
<path d="M1548.4,559.3 L1550.1,554.1 L1558.8,548.9 L1569.2,542.9 L1584.8,548.9 L1603.8,557.6 L1609,571.4 L1614.2,587 L1617.7,602.6 L1619.4,630 L1626.4,654.7 L1624.6,680.6 L1612.5,710.1 L1602.1,728.3 L1567.4,727.4 L1560.5,717 L1564,689.3 L1574.4,651.2 L1564.8,625 L1562.2,611.3 L1557,594 L1551.8,576.6 Z" fill="#f6ea10" stroke="#1d3a52" stroke-width="0.9" stroke-linejoin="round"/>
<path d="M1558.8,559.3 L1560.5,554.1 L1569.2,550.6 L1583,556.7 L1598.6,562.8 L1605.6,576.6 L1610.8,594 L1614.2,611.3 L1616,630 L1617.7,646 L1619.4,672 L1612.5,698 L1602.1,718.8 L1567.4,717 L1570.9,680.6 L1581.3,651.2 L1573.5,625 L1570.9,611.3 L1565.7,594 L1562.2,576.6 Z" fill="#f38424" stroke="#1d3a52" stroke-width="0.9" stroke-linejoin="round"/>
<path d="M1574.4,588.8 L1602.1,578.4 L1605.6,594 L1607.3,611.3 L1609,630 L1612.5,654.7 L1609,689.3 L1600.4,703.2 L1584.8,684.1 L1586.5,640 L1584.8,628 L1581.3,611.3 Z" fill="#ea1f26" stroke="#1d3a52" stroke-width="0.9" stroke-linejoin="round"/>
</g>
<rect x="1402.2" y="493.5" width="266.2" height="254.6" fill="none" stroke="#2a3a60" stroke-width="1.2"/>
<line x1="1411.9" y1="748.1" x2="1411.9" y2="752.1" stroke="#555" stroke-width="1"/>
<line x1="1445.1" y1="748.1" x2="1445.1" y2="752.1" stroke="#555" stroke-width="1"/>
<line x1="1478.3" y1="748.1" x2="1478.3" y2="752.1" stroke="#555" stroke-width="1"/>
<line x1="1511.5" y1="748.1" x2="1511.5" y2="752.1" stroke="#555" stroke-width="1"/>
<line x1="1544.7" y1="748.1" x2="1544.7" y2="752.1" stroke="#555" stroke-width="1"/>
<line x1="1577.9" y1="748.1" x2="1577.9" y2="752.1" stroke="#555" stroke-width="1"/>
<line x1="1611.1" y1="748.1" x2="1611.1" y2="752.1" stroke="#555" stroke-width="1"/>
<line x1="1644.3" y1="748.1" x2="1644.3" y2="752.1" stroke="#555" stroke-width="1"/>
<text x="1412.9" y="771.7" font-size="19" fill="#222" text-anchor="middle" font-weight="normal" font-style="normal" font-family="'Liberation Serif', 'Times New Roman', serif" textLength="31.5" lengthAdjust="spacingAndGlyphs" >-498</text>
<text x="1479.3" y="771.7" font-size="19" fill="#222" text-anchor="middle" font-weight="normal" font-style="normal" font-family="'Liberation Serif', 'Times New Roman', serif" textLength="31.5" lengthAdjust="spacingAndGlyphs" >-496</text>
<text x="1545.7" y="771.7" font-size="19" fill="#222" text-anchor="middle" font-weight="normal" font-style="normal" font-family="'Liberation Serif', 'Times New Roman', serif" textLength="31.5" lengthAdjust="spacingAndGlyphs" >-494</text>
<text x="1612.1" y="771.7" font-size="19" fill="#222" text-anchor="middle" font-weight="normal" font-style="normal" font-family="'Liberation Serif', 'Times New Roman', serif" textLength="31.5" lengthAdjust="spacingAndGlyphs" >-492</text>
<text x="1535.4" y="797.7" font-size="24" fill="#222" text-anchor="middle" font-weight="normal" font-style="normal" font-family="'Liberation Sans', Arial, sans-serif" textLength="162.4" lengthAdjust="spacingAndGlyphs" >X Position (μm)</text>
<line x1="1398.2" y1="546" x2="1402.2" y2="546" stroke="#555" stroke-width="1"/>
<line x1="1398.2" y1="577.6" x2="1402.2" y2="577.6" stroke="#555" stroke-width="1"/>
<line x1="1398.2" y1="609.3" x2="1402.2" y2="609.3" stroke="#555" stroke-width="1"/>
<line x1="1398.2" y1="641" x2="1402.2" y2="641" stroke="#555" stroke-width="1"/>
<line x1="1398.2" y1="672.6" x2="1402.2" y2="672.6" stroke="#555" stroke-width="1"/>
<line x1="1398.2" y1="704.2" x2="1402.2" y2="704.2" stroke="#555" stroke-width="1"/>
<line x1="1398.2" y1="735.9" x2="1402.2" y2="735.9" stroke="#555" stroke-width="1"/>
<text x="1398" y="552" font-size="17" fill="#222" text-anchor="end" font-weight="normal" font-style="normal" font-family="'Liberation Serif', 'Times New Roman', serif" textLength="34" lengthAdjust="spacingAndGlyphs" >8378</text>
<text x="1398" y="615.3" font-size="17" fill="#222" text-anchor="end" font-weight="normal" font-style="normal" font-family="'Liberation Serif', 'Times New Roman', serif" textLength="34" lengthAdjust="spacingAndGlyphs" >8380</text>
<text x="1398" y="678.6" font-size="17" fill="#222" text-anchor="end" font-weight="normal" font-style="normal" font-family="'Liberation Serif', 'Times New Roman', serif" textLength="34" lengthAdjust="spacingAndGlyphs" >8382</text>
<text x="1398" y="741.9" font-size="17" fill="#222" text-anchor="end" font-weight="normal" font-style="normal" font-family="'Liberation Serif', 'Times New Roman', serif" textLength="34" lengthAdjust="spacingAndGlyphs" >8384</text>
<text transform="translate(1360,629.2) rotate(-90)" font-size="24" fill="#222" text-anchor="middle" font-family="'Liberation Serif', 'Times New Roman', serif" textLength="168" lengthAdjust="spacingAndGlyphs">Y Position (μm)</text>
<rect x="1675.5" y="520.6" width="35.1" height="27.7" fill="#3a5eac"/>
<rect x="1675.5" y="548" width="35.1" height="27.7" fill="#1aa6dc"/>
<rect x="1675.5" y="575.4" width="35.1" height="27.7" fill="#6ec6e2"/>
<rect x="1675.5" y="602.8" width="35.1" height="27.7" fill="#6cb95c"/>
<rect x="1675.5" y="630.2" width="35.1" height="27.7" fill="#52aa42"/>
<rect x="1675.5" y="657.5" width="35.1" height="27.7" fill="#f2e816"/>
<rect x="1675.5" y="684.9" width="35.1" height="27.7" fill="#f07a22"/>
<rect x="1675.5" y="712.3" width="35.1" height="27.7" fill="#e8202a"/>
<text x="1715.4" y="554.5" font-size="15" fill="#222" text-anchor="start" font-weight="normal" font-style="normal" font-family="'Liberation Serif', 'Times New Roman', serif" textLength="35.5" lengthAdjust="spacingAndGlyphs" >15500</text>
<text x="1715.4" y="581.9" font-size="15" fill="#222" text-anchor="start" font-weight="normal" font-style="normal" font-family="'Liberation Serif', 'Times New Roman', serif" textLength="35.5" lengthAdjust="spacingAndGlyphs" >16500</text>
<text x="1715.4" y="609.3" font-size="15" fill="#222" text-anchor="start" font-weight="normal" font-style="normal" font-family="'Liberation Serif', 'Times New Roman', serif" textLength="35.5" lengthAdjust="spacingAndGlyphs" >17500</text>
<text x="1715.4" y="636.7" font-size="15" fill="#222" text-anchor="start" font-weight="normal" font-style="normal" font-family="'Liberation Serif', 'Times New Roman', serif" textLength="35.5" lengthAdjust="spacingAndGlyphs" >18500</text>
<text x="1715.4" y="664" font-size="15" fill="#222" text-anchor="start" font-weight="normal" font-style="normal" font-family="'Liberation Serif', 'Times New Roman', serif" textLength="35.5" lengthAdjust="spacingAndGlyphs" >19500</text>
<text x="1715.4" y="691.4" font-size="15" fill="#222" text-anchor="start" font-weight="normal" font-style="normal" font-family="'Liberation Serif', 'Times New Roman', serif" textLength="35.5" lengthAdjust="spacingAndGlyphs" >20500</text>
<text x="1715.4" y="718.8" font-size="15" fill="#222" text-anchor="start" font-weight="normal" font-style="normal" font-family="'Liberation Serif', 'Times New Roman', serif" textLength="35.5" lengthAdjust="spacingAndGlyphs" >21500</text>
<text x="1715.4" y="746.2" font-size="15" fill="#222" text-anchor="start" font-weight="normal" font-style="normal" font-family="'Liberation Serif', 'Times New Roman', serif" textLength="35.5" lengthAdjust="spacingAndGlyphs" >24000</text>
<text x="1672.2" y="514" font-size="18" fill="#222" text-anchor="start" font-weight="normal" font-style="normal" font-family="'Liberation Sans', Arial, sans-serif" textLength="91.5" lengthAdjust="spacingAndGlyphs" >PL intensity</text>
</g>
</svg></body></html>
